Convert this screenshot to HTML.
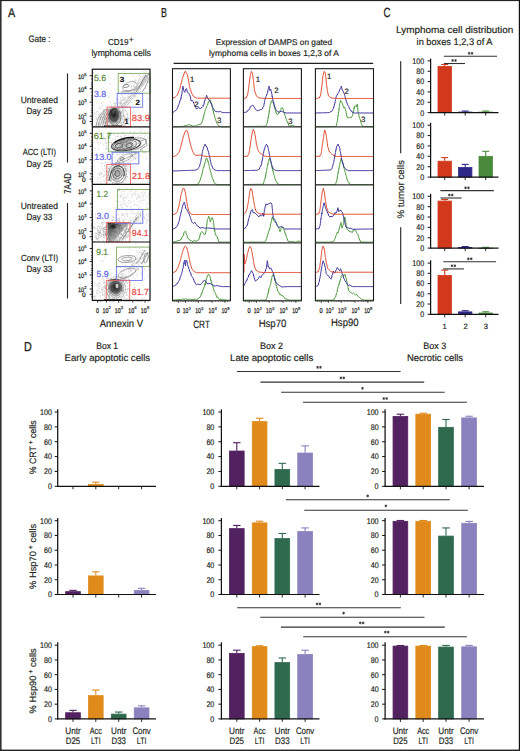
<!DOCTYPE html><html><head><meta charset="utf-8"><style>html,body{margin:0;padding:0;background:#fff;overflow:hidden}svg{display:block}text{font-family:"Liberation Sans", sans-serif;text-rendering:geometricPrecision}</style></head><body>
<svg width="520" height="751" viewBox="0 0 520 751">
<rect x="0" y="0" width="520" height="751" fill="#fff" stroke="none" stroke-width="1"/>
<text x="8.1" y="16.7" font-size="12.5" fill="#231f20" text-anchor="start" textLength="7.2" lengthAdjust="spacingAndGlyphs" stroke="#231f20" stroke-width="0.3">A</text>
<text x="161.1" y="16.8" font-size="13" fill="#231f20" text-anchor="start" textLength="5.9" lengthAdjust="spacingAndGlyphs" stroke="#231f20" stroke-width="0.3">B</text>
<text x="383.5" y="16.5" font-size="13.3" fill="#231f20" text-anchor="start" textLength="7.0" lengthAdjust="spacingAndGlyphs" stroke="#231f20" stroke-width="0.3">C</text>
<text x="24" y="350.8" font-size="13" fill="#231f20" text-anchor="start" textLength="7.8" lengthAdjust="spacingAndGlyphs" stroke="#231f20" stroke-width="0.3">D</text>
<text x="28.6" y="41.8" font-size="9.4" fill="#231f20" text-anchor="start" textLength="21.8" lengthAdjust="spacingAndGlyphs" stroke="#231f20" stroke-width="0.18">Gate :</text>
<text x="107.9" y="45.1" font-size="8.6" fill="#231f20" text-anchor="start" textLength="20.7" lengthAdjust="spacingAndGlyphs" stroke="#231f20" stroke-width="0.18">CD19</text>
<text x="128.8" y="42.4" font-size="7.5" fill="#231f20" text-anchor="start" textLength="5" lengthAdjust="spacingAndGlyphs" stroke="#231f20" stroke-width="0.18">+</text>
<text x="91.4" y="56.2" font-size="9.3" fill="#231f20" text-anchor="start" textLength="59.5" lengthAdjust="spacingAndGlyphs" stroke="#231f20" stroke-width="0.18">lymphoma cells</text>
<text x="20.7" y="103.2" font-size="9.0" fill="#231f20" text-anchor="start" textLength="37.2" lengthAdjust="spacingAndGlyphs" stroke="#231f20" stroke-width="0.18">Untreated</text>
<text x="26.5" y="114.4" font-size="9.0" fill="#231f20" text-anchor="start" textLength="25.7" lengthAdjust="spacingAndGlyphs" stroke="#231f20" stroke-width="0.18">Day 25</text>
<text x="22.7" y="155.4" font-size="9.0" fill="#231f20" text-anchor="start" textLength="33.2" lengthAdjust="spacingAndGlyphs" stroke="#231f20" stroke-width="0.18">ACC (LTI)</text>
<text x="26.5" y="166.5" font-size="9.0" fill="#231f20" text-anchor="start" textLength="25.7" lengthAdjust="spacingAndGlyphs" stroke="#231f20" stroke-width="0.18">Day 25</text>
<text x="20.7" y="209.1" font-size="9.0" fill="#231f20" text-anchor="start" textLength="37.2" lengthAdjust="spacingAndGlyphs" stroke="#231f20" stroke-width="0.18">Untreated</text>
<text x="26.5" y="219.9" font-size="9.0" fill="#231f20" text-anchor="start" textLength="25.7" lengthAdjust="spacingAndGlyphs" stroke="#231f20" stroke-width="0.18">Day 33</text>
<text x="20.9" y="261.2" font-size="9.0" fill="#231f20" text-anchor="start" textLength="37.2" lengthAdjust="spacingAndGlyphs" stroke="#231f20" stroke-width="0.18">Conv (LTI)</text>
<text x="26.5" y="272.2" font-size="9.0" fill="#231f20" text-anchor="start" textLength="25.7" lengthAdjust="spacingAndGlyphs" stroke="#231f20" stroke-width="0.18">Day 33</text>
<line x1="67.5" y1="73.4" x2="67.5" y2="162.6" stroke="#231f20" stroke-width="1.1"/>
<line x1="67.5" y1="203" x2="67.5" y2="298.5" stroke="#231f20" stroke-width="1.1"/>
<text transform="translate(71.2,193.8) rotate(-90)" font-size="10" fill="#231f20" textLength="20.7" lengthAdjust="spacingAndGlyphs" stroke="#231f20" stroke-width="0.18">7AAD</text>
<defs><radialGradient id="blob" cx="0.5" cy="0.5" r="0.5"><stop offset="0" stop-color="#111" stop-opacity="0.95"/><stop offset="0.6" stop-color="#333" stop-opacity="0.7"/><stop offset="1" stop-color="#777" stop-opacity="0"/></radialGradient><radialGradient id="blob2" cx="0.5" cy="0.5" r="0.5"><stop offset="0" stop-color="#666" stop-opacity="0.5"/><stop offset="1" stop-color="#999" stop-opacity="0"/></radialGradient><clipPath id="cp0"><rect x="92.3" y="69.2" width="57.7" height="57.599999999999994"/></clipPath><clipPath id="cp1"><rect x="92.3" y="126.8" width="57.7" height="57.60000000000001"/></clipPath><clipPath id="cp2"><rect x="92.3" y="184.4" width="57.7" height="57.599999999999994"/></clipPath><clipPath id="cp3"><rect x="92.3" y="242.0" width="57.7" height="58.39999999999998"/></clipPath></defs>
<g clip-path="url(#cp0)">
<path d="M110.0 121.1h0.01M110.2 116.1h0.01M104.6 116.7h0.01M120.9 120.5h0.01M120.3 119.5h0.01M115.2 119.1h0.01M98.7 123.1h0.01M116.1 121.0h0.01M98.5 107.5h0.01M104.9 115.2h0.01M114.4 117.7h0.01M116.2 114.1h0.01M114.5 120.4h0.01M116.5 125.2h0.01M107.0 113.6h0.01M109.2 117.4h0.01M117.1 119.5h0.01M108.4 112.3h0.01M107.8 125.3h0.01M105.5 119.5h0.01M115.4 109.1h0.01M112.4 125.8h0.01M95.9 116.1h0.01M111.2 113.1h0.01M116.0 117.6h0.01M100.3 123.0h0.01M117.4 123.7h0.01M123.5 120.2h0.01M113.0 110.2h0.01M116.9 114.3h0.01M108.4 110.4h0.01M104.3 114.8h0.01M122.3 105.8h0.01M100.3 119.4h0.01M123.5 121.5h0.01M96.8 102.9h0.01M114.9 113.6h0.01M103.0 123.9h0.01M120.8 118.9h0.01M114.0 120.6h0.01M124.8 121.7h0.01M116.1 121.3h0.01M99.5 125.7h0.01M119.6 121.2h0.01M96.2 114.2h0.01M118.7 107.1h0.01M110.5 124.1h0.01M116.4 117.1h0.01M114.6 121.9h0.01M113.0 124.9h0.01M106.7 115.5h0.01M120.3 118.2h0.01M105.0 123.7h0.01M123.7 115.3h0.01M101.0 117.2h0.01M110.8 116.2h0.01M123.2 111.8h0.01M122.1 110.4h0.01M105.7 121.8h0.01M121.0 123.2h0.01M114.8 118.9h0.01M113.2 121.5h0.01M110.6 119.7h0.01M116.6 118.0h0.01M118.1 121.4h0.01M128.1 119.9h0.01M108.6 115.8h0.01M111.9 123.5h0.01M109.3 120.3h0.01M126.7 102.6h0.01M103.0 119.5h0.01M115.2 119.4h0.01M108.6 121.9h0.01M114.3 114.9h0.01M131.4 120.1h0.01M107.6 117.4h0.01M110.2 117.6h0.01M120.1 111.0h0.01M111.5 123.7h0.01M118.8 126.9h0.01M98.4 115.9h0.01M109.3 121.7h0.01M120.7 101.9h0.01M120.7 109.3h0.01M117.5 109.0h0.01M113.4 125.2h0.01M110.8 119.1h0.01M118.4 118.8h0.01M120.4 116.2h0.01M134.0 111.1h0.01M119.3 116.4h0.01M113.1 122.2h0.01M113.8 121.8h0.01M99.8 108.9h0.01M116.9 112.2h0.01M103.8 109.2h0.01M122.1 122.5h0.01M123.8 112.4h0.01M112.0 111.2h0.01M119.9 116.9h0.01M96.2 126.4h0.01M111.2 114.4h0.01M115.2 120.5h0.01M124.0 111.9h0.01M121.1 126.9h0.01M123.6 116.9h0.01M106.0 124.1h0.01M112.9 118.7h0.01M123.4 116.4h0.01M93.6 115.7h0.01M97.2 122.9h0.01M114.5 114.3h0.01M111.9 123.0h0.01M112.6 126.0h0.01M111.5 124.2h0.01M106.6 123.3h0.01M97.0 111.5h0.01M96.3 124.4h0.01M102.1 117.9h0.01M110.5 117.8h0.01M107.3 119.4h0.01M126.3 118.3h0.01M116.2 124.0h0.01M110.4 110.4h0.01M107.6 124.4h0.01M98.8 114.4h0.01M120.1 122.8h0.01M112.1 122.8h0.01M113.3 110.9h0.01M99.5 114.2h0.01M119.4 114.6h0.01M104.8 113.4h0.01M99.7 117.3h0.01M102.6 120.2h0.01M93.1 120.0h0.01M106.9 106.3h0.01M117.8 116.3h0.01M94.2 112.7h0.01M114.3 115.2h0.01M118.2 122.5h0.01M117.3 120.0h0.01M122.7 122.0h0.01M115.6 105.5h0.01M119.2 125.9h0.01M109.6 115.2h0.01M127.5 107.5h0.01M104.6 122.1h0.01M127.1 117.3h0.01M116.5 123.4h0.01M104.8 117.5h0.01M114.3 123.0h0.01M111.7 116.8h0.01M103.9 115.8h0.01M119.1 118.6h0.01M105.2 113.0h0.01M133.3 124.8h0.01M117.1 102.4h0.01M117.0 120.9h0.01M125.5 120.6h0.01M111.5 121.1h0.01M96.4 124.2h0.01M114.6 113.8h0.01M100.8 114.0h0.01M114.3 119.1h0.01M108.8 112.2h0.01M129.0 124.2h0.01M102.4 109.9h0.01M125.6 123.9h0.01M126.6 122.9h0.01M105.0 119.6h0.01M94.7 113.5h0.01M111.5 121.1h0.01M106.2 117.3h0.01M115.7 120.3h0.01M117.1 119.3h0.01M109.4 122.7h0.01M112.4 113.0h0.01M107.0 118.0h0.01M111.1 118.9h0.01M112.0 119.1h0.01M110.9 110.4h0.01M115.4 124.3h0.01M115.5 116.9h0.01M115.6 112.2h0.01M96.8 118.4h0.01M104.6 122.4h0.01M103.3 102.2h0.01M108.9 109.8h0.01M105.9 121.1h0.01M116.0 119.1h0.01M123.9 122.2h0.01M111.8 121.6h0.01M125.2 123.8h0.01M120.2 111.5h0.01M110.8 122.4h0.01M109.6 124.4h0.01M116.8 123.4h0.01M121.9 116.7h0.01M109.3 123.2h0.01M119.8 118.0h0.01M102.7 119.1h0.01M114.9 124.8h0.01M118.3 118.1h0.01M118.8 121.2h0.01M113.6 118.3h0.01M110.1 122.1h0.01M103.6 114.2h0.01M112.0 109.2h0.01M108.5 105.9h0.01M106.5 121.4h0.01M116.5 117.7h0.01M110.1 109.5h0.01M126.6 121.1h0.01M120.7 112.7h0.01M110.5 107.1h0.01M118.2 123.6h0.01M96.8 117.7h0.01M117.0 107.4h0.01M97.4 111.6h0.01M107.0 109.6h0.01M112.3 119.5h0.01M117.1 122.2h0.01M124.0 125.0h0.01M101.5 115.0h0.01M103.5 111.5h0.01M111.3 118.0h0.01M115.9 108.5h0.01M102.1 117.9h0.01M110.4 116.1h0.01M111.5 113.4h0.01M117.6 120.1h0.01M111.3 114.0h0.01M110.6 101.7h0.01M104.1 118.2h0.01M100.0 119.2h0.01M113.2 109.7h0.01M110.0 116.1h0.01M115.7 121.7h0.01M111.7 112.9h0.01M110.8 117.6h0.01M117.9 119.8h0.01M106.2 109.9h0.01M109.0 113.6h0.01M103.1 117.3h0.01M108.1 118.6h0.01M116.2 115.5h0.01M130.6 116.1h0.01M120.8 118.7h0.01M120.9 103.7h0.01M106.0 119.5h0.01M114.6 125.7h0.01M118.1 123.7h0.01M116.1 117.1h0.01M116.1 111.5h0.01M121.5 111.9h0.01M110.2 118.1h0.01M121.3 118.2h0.01M105.5 119.5h0.01M116.7 122.3h0.01M125.3 118.1h0.01M114.1 115.4h0.01M123.3 113.8h0.01M117.4 115.1h0.01M106.4 122.3h0.01M122.7 117.9h0.01M106.6 122.9h0.01M111.6 119.9h0.01M124.2 124.8h0.01M112.0 122.7h0.01M106.8 117.7h0.01M122.9 110.7h0.01M100.0 108.3h0.01M121.4 115.2h0.01M111.5 116.1h0.01M111.0 111.5h0.01M112.2 109.4h0.01M111.4 119.9h0.01M115.7 116.6h0.01M104.8 119.0h0.01M118.1 117.3h0.01M108.2 113.8h0.01M104.5 115.9h0.01M114.4 121.1h0.01M106.4 118.1h0.01M134.4 106.8h0.01M107.8 119.0h0.01M113.2 120.4h0.01M110.1 120.2h0.01M112.4 122.6h0.01M96.9 112.7h0.01M112.0 111.8h0.01M103.6 121.8h0.01M106.8 121.8h0.01M118.0 119.8h0.01M116.1 117.4h0.01M100.7 117.8h0.01M115.6 114.8h0.01M111.2 122.5h0.01M105.0 121.8h0.01M126.9 114.7h0.01M113.2 117.1h0.01M124.3 119.9h0.01M119.2 113.9h0.01M111.9 117.9h0.01M97.8 126.6h0.01M119.2 107.5h0.01M118.0 117.2h0.01M115.6 120.2h0.01M100.0 116.7h0.01M123.9 114.6h0.01M103.8 109.8h0.01M102.2 120.0h0.01M125.5 120.6h0.01M107.8 114.0h0.01M116.2 121.3h0.01M103.9 111.0h0.01M114.3 119.5h0.01M101.5 116.8h0.01M107.7 120.8h0.01M111.1 117.5h0.01M109.2 124.3h0.01M123.1 115.8h0.01M118.8 113.5h0.01M112.6 122.5h0.01M124.1 115.7h0.01M111.4 119.2h0.01M100.0 118.1h0.01M106.6 120.2h0.01M103.0 106.1h0.01M112.3 119.6h0.01M107.6 123.3h0.01M109.8 114.4h0.01M115.8 108.6h0.01M106.6 117.9h0.01M118.8 117.0h0.01M114.5 114.1h0.01M106.8 118.1h0.01M113.4 124.1h0.01M102.1 105.4h0.01M116.8 122.8h0.01M113.6 119.5h0.01M119.4 120.2h0.01M125.3 110.6h0.01M109.0 97.3h0.01M118.5 115.8h0.01M112.0 116.5h0.01M108.0 113.0h0.01M107.0 121.8h0.01M112.3 118.4h0.01M110.6 123.5h0.01M116.0 117.1h0.01M117.3 117.1h0.01M102.8 126.7h0.01M115.7 112.3h0.01M120.6 120.1h0.01M114.7 123.3h0.01M113.6 117.1h0.01M99.6 123.8h0.01M112.2 116.3h0.01M114.8 118.5h0.01M117.4 115.8h0.01M111.7 105.2h0.01M108.6 122.1h0.01M122.7 115.8h0.01M109.4 122.4h0.01M125.4 118.2h0.01M121.8 113.7h0.01M113.7 117.5h0.01M112.9 124.8h0.01M131.1 114.0h0.01M107.4 121.0h0.01M103.6 121.0h0.01M116.6 116.3h0.01M116.2 108.7h0.01M118.1 108.7h0.01M106.4 114.7h0.01M108.8 123.2h0.01M112.7 115.6h0.01M112.0 120.2h0.01M121.9 119.6h0.01M129.7 106.1h0.01M111.7 120.5h0.01M119.7 122.0h0.01M109.8 111.7h0.01M112.8 124.2h0.01M103.3 111.8h0.01M111.8 106.4h0.01M109.9 115.4h0.01M115.6 113.8h0.01M104.9 115.6h0.01M111.6 114.0h0.01M112.1 122.5h0.01M105.7 115.5h0.01M106.2 117.8h0.01M116.2 109.8h0.01M115.7 117.8h0.01M97.4 119.8h0.01M121.6 106.8h0.01M118.5 119.3h0.01M115.8 120.6h0.01M122.4 116.7h0.01M119.0 115.5h0.01M117.8 113.1h0.01M115.6 117.1h0.01M102.8 113.3h0.01M113.5 123.6h0.01M115.4 121.1h0.01M111.7 126.1h0.01M108.9 114.7h0.01M119.1 118.4h0.01M109.8 114.5h0.01M109.9 121.7h0.01M114.8 110.7h0.01M115.4 119.1h0.01M104.0 122.6h0.01M109.8 116.0h0.01M118.4 125.9h0.01M106.5 120.6h0.01M108.0 125.2h0.01M106.8 122.9h0.01M129.8 102.8h0.01M108.5 121.0h0.01M111.3 114.0h0.01M129.2 118.5h0.01M98.8 123.1h0.01M98.2 124.9h0.01M107.4 118.9h0.01M122.1 118.7h0.01M100.9 107.8h0.01M121.5 122.4h0.01M105.5 123.2h0.01M116.0 121.9h0.01M93.9 116.2h0.01M119.2 122.4h0.01M119.1 103.3h0.01M113.4 121.0h0.01M132.4 112.3h0.01M109.4 118.2h0.01M119.1 115.3h0.01M121.2 113.3h0.01M114.1 114.8h0.01M113.3 113.9h0.01M99.2 124.6h0.01M114.4 114.6h0.01M113.6 123.9h0.01M104.2 117.3h0.01M116.3 121.2h0.01M109.3 105.4h0.01M121.9 120.0h0.01M112.1 116.3h0.01M114.1 115.4h0.01M103.8 113.6h0.01M107.2 114.3h0.01M102.7 121.8h0.01M101.5 122.0h0.01M103.9 120.1h0.01M123.0 119.2h0.01M106.2 118.3h0.01M113.2 107.6h0.01M107.1 119.0h0.01M108.2 118.5h0.01M117.9 122.6h0.01M119.2 121.5h0.01M109.7 117.9h0.01M109.8 116.1h0.01M110.6 107.7h0.01M109.3 117.9h0.01M104.2 117.9h0.01" stroke="#444" stroke-width="0.8" stroke-linecap="round" opacity="0.35"/>
<path d="M127.9 100.9h0.01M148.5 74.4h0.01M142.8 80.7h0.01M128.6 94.0h0.01M143.9 83.9h0.01M114.4 103.0h0.01M123.9 105.1h0.01M129.7 97.7h0.01M127.7 100.5h0.01M147.9 82.9h0.01M116.6 103.1h0.01M131.9 92.6h0.01M136.6 87.2h0.01M145.4 71.7h0.01M140.9 91.5h0.01M131.5 93.0h0.01M133.8 98.1h0.01M120.6 103.9h0.01M141.8 85.8h0.01M137.8 85.6h0.01M121.9 110.8h0.01M123.6 92.7h0.01M122.7 108.6h0.01M121.9 107.3h0.01M119.6 106.3h0.01M133.5 86.9h0.01M134.9 87.1h0.01M146.2 78.1h0.01M116.3 99.3h0.01M139.2 83.0h0.01M115.6 104.1h0.01M126.2 93.1h0.01M145.8 73.5h0.01M149.3 78.5h0.01M130.3 95.4h0.01M145.8 81.9h0.01M147.7 77.8h0.01M131.2 87.1h0.01M143.8 83.0h0.01M134.0 100.0h0.01M141.4 81.0h0.01M143.2 75.4h0.01M137.9 83.5h0.01M121.3 105.4h0.01M128.1 91.2h0.01M142.7 76.6h0.01M128.9 91.6h0.01M133.2 95.2h0.01M148.4 82.2h0.01M118.3 110.0h0.01M145.8 80.7h0.01M130.1 94.8h0.01M129.3 97.2h0.01M133.8 76.1h0.01M135.0 87.5h0.01M138.5 81.0h0.01M134.3 90.9h0.01M143.5 90.4h0.01M124.0 103.4h0.01M144.8 78.0h0.01M124.1 108.4h0.01M135.1 81.0h0.01M117.2 104.0h0.01M145.6 73.5h0.01M125.2 100.0h0.01M148.2 77.4h0.01M128.0 105.7h0.01M138.0 75.5h0.01M136.6 88.1h0.01M121.0 102.3h0.01M126.9 97.5h0.01M124.6 104.7h0.01M125.2 103.6h0.01M136.0 87.0h0.01M115.7 108.9h0.01M138.1 86.2h0.01M135.6 96.5h0.01M121.6 103.0h0.01M119.8 113.6h0.01M133.4 89.1h0.01M129.0 96.6h0.01M128.5 98.2h0.01M123.2 96.8h0.01M120.4 103.2h0.01M139.6 75.4h0.01M134.7 89.4h0.01M131.0 93.6h0.01M147.0 78.2h0.01M129.3 96.7h0.01M131.3 93.4h0.01M126.1 91.2h0.01M138.6 79.8h0.01M131.6 102.5h0.01M137.8 83.4h0.01M131.8 88.5h0.01M114.7 105.4h0.01M126.2 102.7h0.01M140.2 82.4h0.01M122.7 105.8h0.01M135.3 92.9h0.01M129.3 100.7h0.01M122.6 104.2h0.01M135.7 94.3h0.01M137.9 84.0h0.01M139.0 87.8h0.01M133.1 95.5h0.01M140.3 77.2h0.01M135.1 86.9h0.01M131.4 90.7h0.01M141.1 79.1h0.01M138.3 83.7h0.01M144.1 79.3h0.01M142.2 80.0h0.01M134.3 87.1h0.01M139.8 88.7h0.01M140.3 76.6h0.01M122.1 101.3h0.01M132.2 89.7h0.01M148.0 81.0h0.01M138.2 84.2h0.01M124.5 94.4h0.01M137.3 93.1h0.01M133.4 85.5h0.01M139.2 82.5h0.01M132.6 93.3h0.01M133.9 88.4h0.01M124.9 103.5h0.01M119.2 109.6h0.01M115.2 109.3h0.01M137.3 86.5h0.01M124.3 92.1h0.01M135.0 96.3h0.01M130.2 96.5h0.01M143.1 77.0h0.01M129.8 91.1h0.01M143.9 79.2h0.01M144.2 76.6h0.01M125.1 97.5h0.01M138.8 85.1h0.01M124.1 100.8h0.01M130.9 93.7h0.01M139.1 86.0h0.01M123.4 98.2h0.01M135.3 83.5h0.01M146.6 75.5h0.01M147.9 76.4h0.01M124.6 98.9h0.01M127.0 108.1h0.01M137.7 87.3h0.01M122.9 109.2h0.01M132.7 102.4h0.01M145.4 87.5h0.01M137.3 82.2h0.01M146.4 71.1h0.01M122.4 97.3h0.01M133.5 85.5h0.01M134.4 91.7h0.01M121.0 103.3h0.01M134.5 95.3h0.01M126.2 89.3h0.01M120.3 104.5h0.01M131.5 83.1h0.01M121.5 99.6h0.01M117.0 101.7h0.01M114.8 103.7h0.01M141.1 85.0h0.01M125.9 91.4h0.01M118.0 102.0h0.01M130.3 93.9h0.01M126.3 90.9h0.01M121.0 102.3h0.01M136.0 86.6h0.01M139.4 82.2h0.01M116.7 98.4h0.01M138.5 82.7h0.01M126.1 101.6h0.01M137.3 85.4h0.01M143.0 80.5h0.01M119.4 106.7h0.01M127.9 99.3h0.01M139.6 78.2h0.01M132.7 83.9h0.01M134.5 81.3h0.01M122.4 97.4h0.01M142.7 83.4h0.01M120.3 99.1h0.01M133.2 90.5h0.01M139.1 80.2h0.01M124.4 99.2h0.01M125.8 87.0h0.01M118.7 105.7h0.01M123.3 99.7h0.01M145.0 77.0h0.01M122.7 90.3h0.01M143.9 75.2h0.01M119.6 102.6h0.01M122.9 102.9h0.01M145.1 91.1h0.01M121.9 103.7h0.01M118.0 104.8h0.01M140.4 84.1h0.01M139.7 75.0h0.01M144.1 85.7h0.01M131.4 85.9h0.01M131.0 98.1h0.01M123.4 108.1h0.01M145.2 81.7h0.01M143.4 89.2h0.01M135.7 92.7h0.01M130.4 90.4h0.01M123.3 99.9h0.01M134.8 83.4h0.01M131.5 86.7h0.01M138.9 80.1h0.01M125.2 105.0h0.01M140.5 84.0h0.01M149.6 70.6h0.01M120.7 100.7h0.01M127.4 90.8h0.01M145.9 74.9h0.01M117.8 111.6h0.01M138.5 81.4h0.01M122.5 101.0h0.01M141.5 77.3h0.01M145.4 74.1h0.01M144.6 78.1h0.01M135.3 86.9h0.01M142.8 81.4h0.01M134.5 83.8h0.01M124.0 106.8h0.01M140.3 81.5h0.01M142.6 78.1h0.01M141.2 83.9h0.01M129.0 90.9h0.01M124.5 103.6h0.01M136.1 87.6h0.01M128.1 94.1h0.01M122.7 106.4h0.01M117.0 99.8h0.01M120.0 100.8h0.01M134.5 90.5h0.01M134.6 94.8h0.01M136.4 91.5h0.01M145.2 79.6h0.01M119.8 108.8h0.01M124.8 106.6h0.01M135.9 80.6h0.01M149.6 78.9h0.01M136.4 100.5h0.01M121.1 97.3h0.01M145.0 72.4h0.01M136.3 100.4h0.01M147.9 75.2h0.01M121.2 105.4h0.01M145.7 76.3h0.01M140.3 76.4h0.01M149.4 75.2h0.01M145.5 80.4h0.01M122.0 94.6h0.01M120.0 106.8h0.01M119.6 104.0h0.01M128.4 104.0h0.01M117.9 105.3h0.01M121.3 105.7h0.01M120.7 103.8h0.01M148.6 72.3h0.01M128.1 98.1h0.01M131.0 90.4h0.01M129.8 102.4h0.01M139.0 94.8h0.01M124.3 100.0h0.01M127.8 96.1h0.01M120.0 102.5h0.01M123.8 102.9h0.01M121.5 101.2h0.01M126.7 102.4h0.01M119.1 111.9h0.01M119.3 103.2h0.01M128.4 96.6h0.01M140.8 79.3h0.01M133.1 91.9h0.01M136.6 90.3h0.01M140.6 79.6h0.01M124.5 107.8h0.01M132.5 93.5h0.01M134.7 81.0h0.01M135.9 89.4h0.01M135.3 86.1h0.01M120.8 103.2h0.01M145.9 76.3h0.01M121.8 105.3h0.01" stroke="#555" stroke-width="0.8" stroke-linecap="round" opacity="0.3"/>
<path d="M142.7 85.2h0.01M103.6 117.4h0.01M113.9 79.3h0.01M114.2 103.9h0.01M93.3 99.6h0.01M118.4 99.4h0.01M99.9 110.7h0.01M139.5 119.3h0.01M111.3 110.5h0.01M114.7 112.8h0.01M96.5 119.7h0.01M147.4 98.2h0.01M122.3 100.2h0.01M123.6 71.2h0.01M148.1 82.8h0.01M103.4 75.9h0.01M107.3 116.6h0.01M94.7 75.5h0.01M132.8 81.1h0.01M94.0 104.2h0.01M125.9 99.8h0.01M133.1 75.9h0.01M142.6 110.9h0.01M95.6 77.0h0.01M121.1 98.5h0.01M108.9 77.0h0.01M116.1 77.8h0.01M126.7 119.1h0.01M101.4 102.7h0.01M135.6 79.4h0.01M140.1 123.4h0.01M115.2 94.0h0.01M140.9 100.0h0.01M115.6 123.7h0.01M137.3 89.3h0.01M106.7 89.1h0.01M117.8 125.9h0.01M138.8 122.0h0.01M139.5 118.3h0.01M96.1 99.5h0.01M147.6 123.3h0.01M107.2 94.1h0.01M129.1 90.8h0.01M123.3 73.9h0.01M117.7 98.8h0.01M94.2 77.9h0.01M148.3 114.3h0.01M146.4 106.1h0.01M139.1 120.4h0.01M143.4 72.0h0.01M129.6 85.1h0.01M131.7 85.6h0.01M123.9 122.7h0.01M128.4 84.3h0.01M122.7 94.7h0.01M147.2 86.4h0.01M110.4 106.9h0.01M99.9 103.9h0.01M147.5 99.3h0.01M108.3 96.6h0.01M123.4 78.5h0.01M100.1 77.5h0.01M109.7 93.2h0.01M109.4 83.9h0.01M98.0 101.1h0.01M140.9 104.8h0.01M125.5 107.1h0.01M104.5 110.5h0.01M119.3 101.2h0.01M127.9 96.7h0.01M110.7 83.8h0.01M105.6 99.2h0.01M114.8 103.4h0.01M93.7 90.1h0.01M142.1 83.6h0.01M124.7 98.0h0.01M109.2 126.3h0.01M109.8 114.0h0.01M102.0 73.8h0.01M142.7 95.1h0.01M96.5 92.1h0.01M118.1 111.9h0.01M99.2 82.8h0.01M147.7 112.1h0.01M101.8 89.2h0.01M113.1 108.5h0.01M128.1 118.4h0.01M139.8 99.5h0.01M135.1 112.4h0.01M136.3 97.1h0.01M137.7 110.4h0.01M145.1 77.3h0.01M142.6 70.2h0.01M136.6 103.4h0.01M121.4 124.9h0.01M125.6 93.8h0.01M137.7 119.7h0.01M127.6 91.6h0.01M118.8 96.1h0.01M134.2 86.7h0.01M115.3 101.7h0.01M114.9 88.4h0.01M137.9 118.4h0.01M121.5 95.3h0.01M103.5 87.3h0.01M101.3 102.8h0.01M126.2 75.0h0.01M145.4 88.5h0.01M141.1 117.8h0.01M147.6 81.6h0.01M117.3 121.9h0.01M93.6 72.7h0.01M125.2 98.3h0.01M145.5 114.1h0.01M123.7 126.9h0.01M122.5 99.5h0.01M132.1 92.2h0.01M113.4 103.9h0.01M113.0 124.0h0.01M131.6 99.9h0.01" stroke="#666" stroke-width="0.8" stroke-linecap="round" opacity="0.3"/>
<path d="M96.0 126.5 C97.0 119 100.0 113 107.0 108.5" stroke="#555" stroke-width="0.5" fill="none" stroke-linejoin="round"/>
<path d="M98.2 126.5 C99.2 119 102.2 113 108.1 108.7" stroke="#555" stroke-width="0.5" fill="none" stroke-linejoin="round"/>
<path d="M100.4 126.5 C101.4 119 104.4 113 109.2 108.9" stroke="#555" stroke-width="0.5" fill="none" stroke-linejoin="round"/>
<path d="M102.6 126.5 C103.6 119 106.6 113 110.3 109.2" stroke="#555" stroke-width="0.5" fill="none" stroke-linejoin="round"/>
<path d="M104.8 126.5 C105.8 119 108.8 113 111.4 109.4" stroke="#555" stroke-width="0.5" fill="none" stroke-linejoin="round"/>
<path d="M107.0 126.5 C108.0 119 111.0 113 112.5 109.6" stroke="#555" stroke-width="0.5" fill="none" stroke-linejoin="round"/>
<ellipse cx="114" cy="115" rx="7.5" ry="10" transform="rotate(0 114 115)" stroke="none" stroke-width="0" fill="url(#blob)" opacity="1"/>
<ellipse cx="115" cy="117" rx="6" ry="8.5" transform="rotate(0 115 117)" stroke="#222" stroke-width="0.5" fill="none" opacity="0.8"/>
<ellipse cx="114" cy="115" rx="4" ry="6.5" transform="rotate(0 114 115)" stroke="#222" stroke-width="0.5" fill="none" opacity="0.8"/>
<ellipse cx="113.5" cy="113" rx="2.2" ry="3.5" transform="rotate(0 113.5 113)" stroke="#111" stroke-width="0.6" fill="none" opacity="0.8"/>
<ellipse cx="120" cy="119" rx="4.5" ry="7" transform="rotate(0 120 119)" stroke="#444" stroke-width="0.45" fill="none" opacity="0.6"/>
<ellipse cx="124" cy="118" rx="4" ry="8" transform="rotate(0 124 118)" stroke="#666" stroke-width="0.45" fill="none" opacity="0.6"/>
<line x1="104" y1="126.2" x2="122" y2="126.2" stroke="#111" stroke-width="1.4"/>
<path d="M119 109.0 C124 103 131 96 138 88 S146 76 149 74" stroke="#888" stroke-width="0.45" fill="none" stroke-linejoin="round"/>
<path d="M122 108.5 C127 102 134 95 141 86 S146 76 149 74" stroke="#888" stroke-width="0.45" fill="none" stroke-linejoin="round"/>
<path d="M125 108.0 C130 101 137 94 144 84 S146 76 149 74" stroke="#888" stroke-width="0.45" fill="none" stroke-linejoin="round"/>
<ellipse cx="126" cy="86" rx="3" ry="1.5" transform="rotate(-10 126 86)" stroke="#444" stroke-width="0.5" fill="none" opacity="1"/>
<ellipse cx="130" cy="86.5" rx="7.5" ry="4.5" transform="rotate(-20 130 86.5)" stroke="#666" stroke-width="0.45" fill="none" opacity="1"/>
<path d="M121 92 C126 90 134 91 138 88 C141 85 142 80 146 75" stroke="#666" stroke-width="0.45" fill="none" stroke-linejoin="round"/>
<path d="M136 92 C140 88 142 80 146 75 M142 92 C146 88 147 82 149 78" stroke="#555" stroke-width="0.5" fill="none" stroke-linejoin="round"/>
</g>
<g clip-path="url(#cp1)">
<path d="M134.7 147.8h0.01M114.5 148.7h0.01M105.8 140.4h0.01M138.4 143.7h0.01M111.7 147.6h0.01M136.1 144.9h0.01M106.1 143.3h0.01M130.6 148.8h0.01M146.4 143.7h0.01M120.7 144.8h0.01M139.3 140.3h0.01M140.4 131.3h0.01M134.8 141.6h0.01M131.1 148.4h0.01M113.0 144.6h0.01M128.6 147.9h0.01M115.8 140.0h0.01M104.8 157.7h0.01M123.9 143.9h0.01M109.6 149.6h0.01M120.1 152.2h0.01M135.4 145.1h0.01M134.0 139.4h0.01M122.4 142.1h0.01M112.0 145.1h0.01M124.4 152.2h0.01M115.9 142.7h0.01M130.6 147.0h0.01M126.3 142.6h0.01M131.4 146.8h0.01M105.7 143.7h0.01M110.9 139.1h0.01M127.6 145.3h0.01M127.3 140.6h0.01M123.8 140.4h0.01M130.2 148.4h0.01M145.3 151.3h0.01M117.1 142.7h0.01M115.7 146.5h0.01M147.8 148.5h0.01M101.8 138.7h0.01M111.8 147.6h0.01M126.0 146.5h0.01M145.6 140.9h0.01M116.7 154.8h0.01M129.8 141.1h0.01M103.7 137.4h0.01M99.1 145.3h0.01M126.5 150.0h0.01M124.5 141.5h0.01M117.8 154.5h0.01M106.6 145.9h0.01M126.3 148.1h0.01M121.5 147.5h0.01M135.0 144.3h0.01M121.0 144.1h0.01M115.4 144.0h0.01M122.7 146.1h0.01M140.7 151.5h0.01M121.1 148.0h0.01M129.2 148.8h0.01M126.2 146.3h0.01M120.8 141.1h0.01M135.6 151.5h0.01M133.3 147.2h0.01M128.9 142.7h0.01M106.4 148.3h0.01M128.2 142.2h0.01M115.4 151.4h0.01M106.2 153.8h0.01M133.0 156.9h0.01M118.1 144.9h0.01M120.4 145.8h0.01M123.7 141.3h0.01M137.8 141.1h0.01M120.4 147.8h0.01M120.1 142.8h0.01M129.9 143.2h0.01M112.3 144.5h0.01M123.6 153.5h0.01M113.9 149.8h0.01M117.4 143.2h0.01M122.4 146.4h0.01M135.5 153.7h0.01M119.0 151.6h0.01M136.9 149.1h0.01M117.6 149.5h0.01M124.8 146.8h0.01M123.0 148.3h0.01M138.3 150.7h0.01M123.7 150.0h0.01M142.0 140.3h0.01M142.2 138.3h0.01M132.0 148.0h0.01M142.3 146.4h0.01M120.7 141.0h0.01M112.2 148.8h0.01M123.4 141.4h0.01M131.9 141.2h0.01M121.2 142.7h0.01M144.2 152.3h0.01M124.3 137.1h0.01M129.0 145.4h0.01M129.8 147.8h0.01M122.5 149.6h0.01M135.2 146.1h0.01M121.5 142.6h0.01M133.6 139.5h0.01M124.2 141.3h0.01M110.7 148.0h0.01M125.7 145.2h0.01M135.6 137.5h0.01M125.3 146.4h0.01M135.2 139.6h0.01M133.9 146.1h0.01M140.9 150.7h0.01M132.0 155.7h0.01M126.0 142.9h0.01M122.3 140.3h0.01M125.7 135.6h0.01M125.1 147.1h0.01M136.9 143.3h0.01M141.3 141.7h0.01M124.5 135.6h0.01M117.6 141.0h0.01M142.0 147.6h0.01M114.1 147.6h0.01M131.2 143.9h0.01M126.2 143.5h0.01M120.2 136.3h0.01M125.0 151.3h0.01M141.4 143.6h0.01M118.0 144.0h0.01M135.6 146.7h0.01M119.7 146.8h0.01M123.8 147.5h0.01M121.6 137.8h0.01M126.6 148.7h0.01M114.1 144.5h0.01M135.4 143.2h0.01M119.0 154.9h0.01M134.9 150.0h0.01M115.9 153.0h0.01M108.3 142.5h0.01M133.9 151.5h0.01M116.0 141.8h0.01M128.1 135.6h0.01M132.8 147.7h0.01M121.2 147.6h0.01M134.3 146.5h0.01M131.6 152.4h0.01M120.9 145.8h0.01M120.4 150.0h0.01M121.7 147.3h0.01M127.5 145.3h0.01M144.3 144.6h0.01M141.1 149.0h0.01M140.1 144.2h0.01M135.9 148.7h0.01M119.5 146.3h0.01M124.6 144.8h0.01M139.8 141.5h0.01M108.1 136.6h0.01M121.2 141.9h0.01M126.2 147.7h0.01M144.7 146.5h0.01M130.9 141.5h0.01M132.2 151.6h0.01M140.2 135.6h0.01M135.4 152.6h0.01M134.8 137.8h0.01M122.7 147.8h0.01M130.4 141.1h0.01M116.6 149.7h0.01M111.9 151.9h0.01M126.2 146.4h0.01M111.9 142.1h0.01M133.3 137.9h0.01M147.9 138.2h0.01M113.1 145.2h0.01M131.1 148.5h0.01M122.1 144.0h0.01M123.5 142.2h0.01M98.7 149.6h0.01M128.7 145.8h0.01M119.4 146.2h0.01M125.9 144.6h0.01M137.7 136.7h0.01M128.7 139.9h0.01M122.6 152.2h0.01M114.5 144.5h0.01M119.7 149.6h0.01M115.7 136.9h0.01M131.4 143.3h0.01M122.6 150.2h0.01M116.6 143.2h0.01M127.6 147.0h0.01M120.5 150.0h0.01M149.7 143.0h0.01M145.8 134.9h0.01M140.9 143.3h0.01M127.5 143.4h0.01M119.3 138.9h0.01M121.8 151.2h0.01M138.0 143.3h0.01M120.4 141.6h0.01M113.3 153.7h0.01M133.0 145.6h0.01M120.8 140.1h0.01M139.9 148.7h0.01M115.9 149.7h0.01M114.3 148.1h0.01M115.9 143.0h0.01M131.2 147.1h0.01M136.7 141.0h0.01M142.7 151.5h0.01M125.9 147.2h0.01M117.8 144.3h0.01M112.1 145.4h0.01M128.1 151.4h0.01M136.0 148.9h0.01M122.2 143.9h0.01M122.4 146.1h0.01M105.6 148.7h0.01M109.5 142.5h0.01M126.2 142.5h0.01M143.6 144.5h0.01M142.6 150.6h0.01M120.8 146.9h0.01M139.7 143.4h0.01M126.9 142.3h0.01M126.6 143.3h0.01M126.9 149.8h0.01M140.7 145.6h0.01M128.1 149.1h0.01M122.9 139.9h0.01M137.7 140.5h0.01M135.8 140.4h0.01M145.3 140.0h0.01M135.0 152.2h0.01M115.9 152.1h0.01M117.3 136.5h0.01M133.6 148.4h0.01M123.9 132.9h0.01M125.4 143.5h0.01M122.0 143.6h0.01M107.1 142.3h0.01M145.0 152.4h0.01M122.2 141.6h0.01M130.2 150.1h0.01M133.6 139.4h0.01M127.7 145.7h0.01M141.2 150.7h0.01M131.5 150.8h0.01M121.8 152.4h0.01M121.5 146.9h0.01M135.7 140.6h0.01M118.6 136.6h0.01M127.7 144.7h0.01M122.5 147.4h0.01M103.7 144.9h0.01M126.9 143.7h0.01M134.4 153.4h0.01M121.3 140.5h0.01M119.6 145.4h0.01M132.2 140.9h0.01M136.6 140.1h0.01M134.7 147.1h0.01M130.9 155.4h0.01M123.2 144.2h0.01M131.0 149.1h0.01M111.9 146.3h0.01M118.2 148.0h0.01M140.5 145.2h0.01M124.9 145.9h0.01M94.8 148.7h0.01M131.9 145.8h0.01M121.8 141.5h0.01M124.1 150.8h0.01M124.9 151.5h0.01M98.8 142.8h0.01M128.9 144.9h0.01M108.5 141.8h0.01M139.2 138.8h0.01M115.5 139.7h0.01M120.2 148.1h0.01M132.3 135.3h0.01M141.4 142.2h0.01M119.8 153.0h0.01M125.1 139.0h0.01M119.3 141.5h0.01M115.3 143.4h0.01M135.3 146.7h0.01M111.4 158.4h0.01M115.5 145.6h0.01M126.3 148.7h0.01M122.5 147.2h0.01M148.2 145.5h0.01M114.6 146.6h0.01M117.5 143.2h0.01M128.0 146.6h0.01M123.0 149.1h0.01M124.0 138.7h0.01M135.3 143.3h0.01M138.8 141.9h0.01M132.0 146.5h0.01M97.5 137.8h0.01M114.2 151.8h0.01M106.1 149.4h0.01M137.5 147.4h0.01M133.1 142.6h0.01M125.9 146.1h0.01M130.4 148.4h0.01M123.8 141.6h0.01M120.1 147.0h0.01M108.5 139.0h0.01M121.7 142.3h0.01M123.1 132.2h0.01M122.4 143.8h0.01M134.2 135.5h0.01M122.8 147.3h0.01M131.2 150.7h0.01M137.1 140.0h0.01M132.7 143.4h0.01M117.5 152.4h0.01M119.3 140.9h0.01M121.7 140.9h0.01M136.6 146.8h0.01M140.8 147.0h0.01M119.5 150.0h0.01M119.1 142.8h0.01M124.2 145.2h0.01M138.6 142.1h0.01M129.7 144.9h0.01M112.7 139.7h0.01M123.7 146.9h0.01M129.4 147.3h0.01M126.5 142.8h0.01M130.5 140.2h0.01M111.8 143.4h0.01M110.9 142.5h0.01M118.1 142.3h0.01M125.5 141.1h0.01M121.5 136.8h0.01M127.5 140.8h0.01M130.3 131.4h0.01M117.5 146.2h0.01M100.1 143.3h0.01M127.0 145.5h0.01" stroke="#444" stroke-width="0.8" stroke-linecap="round" opacity="0.35"/>
<path d="M104.5 174.5h0.01M117.1 166.4h0.01M121.7 172.7h0.01M116.1 170.0h0.01M120.2 173.7h0.01M124.8 176.1h0.01M111.2 171.5h0.01M123.1 170.5h0.01M119.0 176.5h0.01M114.6 157.3h0.01M117.0 174.4h0.01M117.0 167.9h0.01M125.3 172.1h0.01M111.2 168.1h0.01M118.8 165.6h0.01M126.1 180.1h0.01M126.6 177.0h0.01M103.0 181.1h0.01M125.6 176.3h0.01M100.9 181.4h0.01M126.6 169.7h0.01M117.0 178.3h0.01M115.3 180.4h0.01M116.6 177.7h0.01M116.7 163.0h0.01M118.2 181.9h0.01M124.8 184.6h0.01M120.3 169.0h0.01M116.1 160.0h0.01M114.5 179.2h0.01M99.2 174.3h0.01M122.4 182.0h0.01M108.8 168.6h0.01M101.4 166.1h0.01M107.1 182.4h0.01M119.3 169.6h0.01M133.0 155.9h0.01M115.5 174.5h0.01M133.6 173.9h0.01M123.6 182.3h0.01M120.0 175.4h0.01M114.6 170.2h0.01M112.5 158.9h0.01M118.1 172.8h0.01M115.2 171.2h0.01M110.2 172.8h0.01M112.6 174.4h0.01M140.3 175.7h0.01M122.7 178.6h0.01M121.6 178.6h0.01M121.3 182.6h0.01M123.8 182.2h0.01M112.1 173.0h0.01M110.3 179.5h0.01M122.5 169.8h0.01M125.6 165.4h0.01M115.3 177.3h0.01M115.7 175.6h0.01M125.2 175.2h0.01M107.5 177.9h0.01M115.2 173.8h0.01M111.6 163.6h0.01M106.3 170.6h0.01M107.7 154.5h0.01M124.9 165.1h0.01M110.4 176.6h0.01M97.2 182.1h0.01M110.0 177.5h0.01M112.2 175.1h0.01M116.8 173.0h0.01M101.8 163.0h0.01M115.7 182.6h0.01M111.7 176.6h0.01M117.3 176.3h0.01M123.7 162.8h0.01M118.1 171.8h0.01M113.6 167.2h0.01M109.9 166.0h0.01M129.2 173.1h0.01M121.8 166.3h0.01M94.3 160.6h0.01M117.1 182.8h0.01M115.7 166.2h0.01M114.1 166.2h0.01M105.1 171.4h0.01M112.9 167.5h0.01M109.1 166.7h0.01M117.8 182.5h0.01M103.4 174.9h0.01M107.0 171.9h0.01M116.8 176.8h0.01M124.8 169.2h0.01M106.3 171.7h0.01M118.3 168.2h0.01M123.0 184.5h0.01M104.9 175.5h0.01M123.9 159.9h0.01M117.6 171.5h0.01M104.9 182.0h0.01M117.7 169.7h0.01M119.5 177.4h0.01M122.0 177.0h0.01M119.2 165.0h0.01M112.7 173.9h0.01M113.0 165.8h0.01M101.8 174.7h0.01M116.3 169.0h0.01M112.8 166.9h0.01M110.2 172.3h0.01M111.0 177.6h0.01M114.9 173.9h0.01M119.2 181.7h0.01M120.7 174.6h0.01M114.7 167.5h0.01M113.3 177.7h0.01M117.8 170.4h0.01M105.6 162.5h0.01M118.5 180.0h0.01M118.9 163.6h0.01M114.3 174.5h0.01M108.8 175.4h0.01M114.4 167.3h0.01M106.3 178.5h0.01M118.8 166.9h0.01M108.1 179.1h0.01M120.6 170.9h0.01M128.4 171.0h0.01M107.8 180.4h0.01M114.5 175.4h0.01M116.3 166.2h0.01M106.7 171.7h0.01M127.0 166.2h0.01M126.6 174.5h0.01M107.3 174.8h0.01M120.4 166.9h0.01M99.4 175.4h0.01M107.4 176.0h0.01M101.1 172.0h0.01M109.7 162.9h0.01M114.1 174.2h0.01M111.7 165.0h0.01M117.7 161.1h0.01M120.2 176.3h0.01M129.1 179.0h0.01M118.8 174.8h0.01M116.2 164.0h0.01M127.4 176.6h0.01M113.8 165.2h0.01M127.5 176.6h0.01M106.8 177.6h0.01M130.7 172.8h0.01M119.1 170.2h0.01M111.1 180.3h0.01M139.9 173.8h0.01M115.0 178.4h0.01M113.6 178.0h0.01M122.4 166.1h0.01M107.7 172.5h0.01M122.5 174.9h0.01M125.6 163.6h0.01M119.8 168.8h0.01M116.8 175.2h0.01M108.5 171.4h0.01M107.0 174.8h0.01M109.4 169.6h0.01M117.7 168.6h0.01M124.9 168.7h0.01M122.6 174.9h0.01M108.0 171.5h0.01M109.5 170.5h0.01M112.7 183.6h0.01M119.5 164.1h0.01M98.1 177.6h0.01M100.6 177.9h0.01M124.0 175.6h0.01M114.4 171.3h0.01M118.0 170.9h0.01M111.9 170.5h0.01M125.1 168.8h0.01M118.9 165.2h0.01M110.5 163.7h0.01M114.5 177.6h0.01M118.4 169.7h0.01M120.7 170.6h0.01M118.9 174.9h0.01M120.2 156.2h0.01M105.9 178.2h0.01M114.2 169.3h0.01M127.6 176.8h0.01M130.7 176.5h0.01M114.4 177.9h0.01M109.9 170.0h0.01M111.7 171.5h0.01M122.0 169.7h0.01M118.5 169.6h0.01M122.8 154.3h0.01M114.4 174.1h0.01M107.7 179.9h0.01M117.7 181.7h0.01M123.4 177.3h0.01M114.8 165.6h0.01M114.3 169.9h0.01M117.9 169.9h0.01M139.6 162.2h0.01M125.1 169.8h0.01M114.1 179.3h0.01M116.0 164.8h0.01M119.2 171.7h0.01M100.1 174.3h0.01M107.8 168.0h0.01M119.7 175.0h0.01M119.2 168.9h0.01M117.8 172.2h0.01M99.0 162.3h0.01M114.6 171.1h0.01M111.6 179.6h0.01M116.2 184.5h0.01M122.1 184.1h0.01M115.1 175.5h0.01M112.7 171.9h0.01M102.6 169.1h0.01M108.7 168.6h0.01M125.4 174.8h0.01M125.5 178.8h0.01M123.1 179.8h0.01M111.3 178.4h0.01M113.5 169.4h0.01M108.5 184.7h0.01M122.4 167.3h0.01M118.1 175.5h0.01M118.9 170.6h0.01M106.1 173.2h0.01M122.6 178.3h0.01M121.1 180.4h0.01M108.4 172.7h0.01M118.6 179.7h0.01M117.2 176.5h0.01M99.2 172.8h0.01M135.1 174.6h0.01M101.9 173.9h0.01M105.0 168.4h0.01M117.7 184.6h0.01M119.6 177.5h0.01M123.8 174.4h0.01M109.4 172.3h0.01M118.6 171.1h0.01M110.9 170.6h0.01M104.4 166.1h0.01M115.3 170.6h0.01M116.3 182.5h0.01M118.3 172.8h0.01M107.0 165.7h0.01M118.9 167.1h0.01M119.3 165.8h0.01M117.0 172.5h0.01M123.7 170.4h0.01M113.1 174.7h0.01M116.4 184.4h0.01M114.0 169.4h0.01M113.5 176.2h0.01M117.8 177.7h0.01M130.2 172.8h0.01M106.7 174.0h0.01M119.2 158.0h0.01M116.1 163.0h0.01M119.5 182.3h0.01M124.0 162.9h0.01M126.6 179.1h0.01M113.2 176.4h0.01M127.7 170.8h0.01M115.9 169.2h0.01M124.9 158.5h0.01M126.9 166.5h0.01M123.1 162.1h0.01M108.8 169.0h0.01M122.4 162.1h0.01M120.6 168.7h0.01M125.6 170.9h0.01M119.7 171.8h0.01M129.8 170.6h0.01M116.6 177.6h0.01M110.3 174.3h0.01M98.5 173.7h0.01M111.0 162.9h0.01M105.1 180.7h0.01M119.3 162.8h0.01M130.0 168.3h0.01M113.2 174.7h0.01M107.2 162.1h0.01M110.3 181.0h0.01M123.3 162.4h0.01M125.3 173.2h0.01M119.9 173.3h0.01M119.2 166.3h0.01M109.0 168.3h0.01M113.2 177.2h0.01M106.6 183.7h0.01M111.1 169.0h0.01M121.4 175.9h0.01M113.4 165.8h0.01M108.3 162.2h0.01M124.8 180.3h0.01M130.4 176.4h0.01M118.6 178.1h0.01M123.3 171.3h0.01M103.0 163.5h0.01M108.6 178.1h0.01M125.1 170.7h0.01M121.2 172.7h0.01M118.3 169.4h0.01M115.8 173.0h0.01M102.0 176.6h0.01M116.0 179.5h0.01M124.2 178.3h0.01M122.2 166.6h0.01M102.9 184.3h0.01M125.3 166.6h0.01M125.9 177.5h0.01M97.1 179.1h0.01M108.4 180.9h0.01M110.8 168.0h0.01M104.1 171.5h0.01M123.8 168.5h0.01M130.2 177.7h0.01M111.9 164.8h0.01M103.4 176.8h0.01M126.0 165.9h0.01M116.0 171.1h0.01" stroke="#444" stroke-width="0.8" stroke-linecap="round" opacity="0.35"/>
<path d="M124.6 175.9h0.01M139.2 156.4h0.01M130.2 163.6h0.01M130.9 155.7h0.01M131.9 160.8h0.01M126.9 166.8h0.01M132.8 153.2h0.01M137.7 146.7h0.01M120.4 175.0h0.01M135.5 152.6h0.01M108.1 175.2h0.01M114.7 173.3h0.01M121.7 171.5h0.01M129.0 166.9h0.01M113.0 181.1h0.01M114.5 177.0h0.01M113.1 179.7h0.01M123.9 167.9h0.01M118.9 172.1h0.01M131.7 150.9h0.01M122.4 174.7h0.01M119.9 164.3h0.01M132.1 160.2h0.01M135.1 152.0h0.01M128.6 166.2h0.01M113.0 175.3h0.01M122.8 168.5h0.01M120.7 174.3h0.01M131.3 154.6h0.01M136.2 157.4h0.01M133.5 159.8h0.01M131.2 156.3h0.01M138.1 149.0h0.01M122.7 165.6h0.01M118.1 171.8h0.01M122.5 158.7h0.01M113.4 176.9h0.01M116.5 167.5h0.01M127.3 158.5h0.01M126.3 168.5h0.01M134.6 154.9h0.01M130.2 156.3h0.01M140.9 150.1h0.01M131.0 150.4h0.01M112.6 171.6h0.01M128.2 162.7h0.01M129.2 159.8h0.01M116.6 174.9h0.01M135.6 158.9h0.01M120.4 168.1h0.01M135.0 155.1h0.01M130.4 163.0h0.01M108.2 179.5h0.01M139.7 157.2h0.01M114.0 180.9h0.01M118.3 173.2h0.01M117.1 171.5h0.01M136.5 151.3h0.01M111.0 178.4h0.01M124.2 165.4h0.01M128.3 157.2h0.01M118.0 167.7h0.01M123.5 165.9h0.01M136.7 155.2h0.01M142.7 151.9h0.01M109.7 177.3h0.01M128.6 159.5h0.01M113.7 175.7h0.01M115.5 170.6h0.01M124.7 171.3h0.01M115.5 177.9h0.01M135.9 158.1h0.01M142.7 149.2h0.01M133.5 159.2h0.01M113.5 176.0h0.01M128.7 163.9h0.01M108.7 168.3h0.01M121.0 171.3h0.01M125.0 166.1h0.01M124.8 167.2h0.01M115.2 172.0h0.01M144.3 147.5h0.01M125.0 164.3h0.01M110.0 175.3h0.01M116.3 174.3h0.01M135.5 145.7h0.01M134.9 152.5h0.01M123.7 163.1h0.01M116.1 176.2h0.01M127.3 162.7h0.01M135.7 151.8h0.01M114.1 176.3h0.01M110.3 181.6h0.01M132.3 153.9h0.01M116.4 180.3h0.01M124.7 171.0h0.01M114.8 179.4h0.01M124.5 158.9h0.01M127.6 168.8h0.01M108.6 178.9h0.01M129.7 157.6h0.01M128.3 157.3h0.01M117.7 173.6h0.01M112.7 176.4h0.01M131.4 151.6h0.01M118.0 183.4h0.01M135.0 156.1h0.01M119.1 171.9h0.01M134.0 158.0h0.01M137.4 154.1h0.01M110.6 178.1h0.01M138.7 148.9h0.01M136.1 158.9h0.01M114.6 170.7h0.01M143.3 152.6h0.01M128.2 160.1h0.01M124.1 158.4h0.01M115.9 178.9h0.01M118.4 171.5h0.01M137.9 158.5h0.01M132.9 156.1h0.01M130.3 163.6h0.01M117.0 176.1h0.01M124.6 172.1h0.01M136.3 153.4h0.01M119.4 173.8h0.01M107.9 170.4h0.01M134.2 157.0h0.01M112.0 172.8h0.01M122.7 165.2h0.01M124.4 156.3h0.01M133.9 151.7h0.01M135.0 154.2h0.01M132.3 157.0h0.01M139.4 160.1h0.01M122.6 164.5h0.01M117.5 173.1h0.01M104.9 180.1h0.01M134.3 158.3h0.01M140.1 154.7h0.01M118.2 174.9h0.01M135.2 156.9h0.01M137.4 153.3h0.01M130.4 167.5h0.01M117.4 168.5h0.01M127.9 163.5h0.01M123.7 161.1h0.01M132.6 155.5h0.01" stroke="#555" stroke-width="0.8" stroke-linecap="round" opacity="0.3"/>
<path d="M132.3 183.1h0.01M98.1 139.3h0.01M109.4 179.6h0.01M93.8 142.1h0.01M133.8 184.4h0.01M103.0 152.4h0.01M132.2 167.1h0.01M135.5 170.7h0.01M107.2 141.9h0.01M94.6 167.1h0.01M104.9 142.1h0.01M148.0 164.3h0.01M126.7 165.1h0.01M127.1 167.3h0.01M110.3 130.7h0.01M96.8 127.8h0.01M113.6 135.2h0.01M99.4 155.6h0.01M148.3 166.9h0.01M108.6 171.6h0.01M103.1 132.8h0.01M110.3 150.7h0.01M132.3 152.8h0.01M134.5 132.5h0.01M146.1 146.9h0.01M140.4 128.8h0.01M140.2 140.1h0.01M141.7 173.6h0.01M131.2 143.1h0.01M93.6 138.0h0.01M144.6 136.2h0.01M130.6 161.0h0.01M130.7 137.5h0.01M101.2 132.6h0.01M149.0 149.2h0.01M130.2 160.0h0.01M105.7 130.8h0.01M93.8 176.4h0.01M100.4 182.9h0.01M113.7 168.9h0.01M100.9 172.7h0.01M107.3 148.2h0.01M122.8 133.5h0.01M107.2 173.2h0.01M109.3 149.1h0.01M136.6 140.0h0.01M104.1 139.7h0.01M114.9 148.2h0.01M129.6 154.4h0.01M142.6 129.9h0.01M130.8 175.5h0.01M106.4 128.7h0.01M118.0 133.7h0.01M119.2 168.3h0.01M98.3 133.8h0.01M120.3 137.1h0.01M106.2 152.5h0.01M99.7 130.9h0.01M113.6 154.2h0.01M146.4 159.2h0.01M97.1 139.9h0.01M135.4 159.6h0.01M142.6 182.8h0.01M141.9 133.4h0.01M146.8 157.4h0.01M106.7 136.9h0.01M142.3 139.3h0.01M97.7 142.4h0.01M145.7 153.7h0.01M134.7 131.3h0.01M118.8 145.4h0.01M104.7 165.5h0.01M113.6 133.9h0.01M149.1 154.9h0.01M103.3 127.6h0.01M130.2 156.9h0.01M94.4 154.3h0.01M135.2 158.2h0.01M106.3 155.9h0.01M127.5 164.8h0.01M101.3 173.6h0.01M146.9 169.9h0.01M141.9 148.3h0.01M144.5 137.5h0.01M105.9 161.7h0.01M144.4 131.8h0.01M105.4 129.1h0.01M118.0 135.1h0.01M103.9 170.4h0.01M126.2 181.5h0.01M115.9 166.4h0.01M93.7 182.0h0.01M106.3 154.7h0.01M122.2 182.0h0.01M121.0 184.5h0.01M128.4 139.6h0.01M140.5 138.7h0.01M150.0 153.5h0.01M105.9 182.8h0.01M111.3 150.6h0.01" stroke="#666" stroke-width="0.8" stroke-linecap="round" opacity="0.3"/>
<ellipse cx="124" cy="145" rx="14" ry="5.8" transform="rotate(-8 124 145)" stroke="none" stroke-width="0" fill="url(#blob2)" opacity="1"/>
<ellipse cx="126" cy="144.8" rx="14.5" ry="5.8" transform="rotate(-8 126 144.8)" stroke="#222" stroke-width="1.0" fill="none" opacity="0.9"/>
<ellipse cx="125" cy="145" rx="12" ry="4.6" transform="rotate(-8 125 145)" stroke="#333" stroke-width="0.6" fill="none" opacity="0.8"/>
<ellipse cx="124" cy="145.5" rx="9" ry="3.4" transform="rotate(-8 124 145.5)" stroke="#222" stroke-width="0.6" fill="none" opacity="0.8"/>
<ellipse cx="119" cy="145.5" rx="3.5" ry="2" transform="rotate(-8 119 145.5)" stroke="#222" stroke-width="0.6" fill="none" opacity="0.8"/>
<ellipse cx="129" cy="145.5" rx="3" ry="2" transform="rotate(-8 129 145.5)" stroke="#222" stroke-width="0.6" fill="none" opacity="0.8"/>
<path d="M114 143 C118 139 127 137 134 137.5" stroke="#111" stroke-width="1.4" fill="none" stroke-linejoin="round"/>
<ellipse cx="134" cy="144" rx="12.5" ry="5.5" transform="rotate(-15 134 144)" stroke="#666" stroke-width="0.5" fill="none" opacity="1"/>
<path d="M138 142 L146 139 L147 145 L140 150" stroke="#666" stroke-width="0.5" fill="none" stroke-linejoin="round"/>
<ellipse cx="125" cy="158" rx="8" ry="3" transform="rotate(-25 125 158)" stroke="#666" stroke-width="0.45" fill="none" opacity="1"/>
<ellipse cx="122" cy="159" rx="2.2" ry="1.2" transform="rotate(-25 122 159)" stroke="#444" stroke-width="0.6" fill="none" opacity="1"/>
<path d="M115 163 C122 160 130 156 137 153" stroke="#777" stroke-width="0.45" fill="none" stroke-linejoin="round"/>
<ellipse cx="116.5" cy="173" rx="7" ry="9" transform="rotate(10 116.5 173)" stroke="none" stroke-width="0" fill="url(#blob2)" opacity="1"/>
<ellipse cx="117.5" cy="173.5" rx="8.924999999999999" ry="10.5" transform="rotate(12 117.5 173.5)" stroke="#333" stroke-width="0.6" fill="none" opacity="0.55"/>
<ellipse cx="117.5" cy="173.5" rx="6.8" ry="8" transform="rotate(12 117.5 173.5)" stroke="#333" stroke-width="0.6" fill="none" opacity="0.7"/>
<ellipse cx="117.5" cy="173.5" rx="4.675" ry="5.5" transform="rotate(12 117.5 173.5)" stroke="#333" stroke-width="0.6" fill="none" opacity="0.85"/>
<ellipse cx="117.5" cy="173.5" rx="2.55" ry="3" transform="rotate(12 117.5 173.5)" stroke="#333" stroke-width="0.6" fill="none" opacity="0.9"/>
<path d="M109 181 C110 175 112 168 117 166 C122 165 125 170 124 176" stroke="#222" stroke-width="0.8" fill="none" stroke-linejoin="round"/>
</g>
<defs><linearGradient id="tri3" x1="0" y1="0" x2="1" y2="1"><stop offset="0" stop-color="#222" stop-opacity="0.9"/><stop offset="0.45" stop-color="#666" stop-opacity="0.6"/><stop offset="1" stop-color="#aaa" stop-opacity="0.35"/></linearGradient></defs>
<g clip-path="url(#cp2)">
<path d="M127.7 212.1h0.01M116.8 201.5h0.01M121.5 217.8h0.01M116.0 209.9h0.01M124.8 204.3h0.01M135.1 213.6h0.01M120.7 196.7h0.01M120.1 222.6h0.01M121.1 192.9h0.01M133.8 208.9h0.01M146.1 190.0h0.01M124.0 194.0h0.01M135.9 204.3h0.01M129.9 220.0h0.01M138.5 219.0h0.01M148.5 197.7h0.01M148.0 202.7h0.01M117.8 220.9h0.01M119.5 188.6h0.01M125.8 198.4h0.01M148.9 219.3h0.01M130.3 207.1h0.01M144.9 217.1h0.01M138.2 206.5h0.01M120.0 196.8h0.01M138.4 209.1h0.01M143.2 220.4h0.01M148.7 194.9h0.01M118.6 220.3h0.01M135.4 194.5h0.01M139.5 197.2h0.01M124.0 201.2h0.01M133.8 212.4h0.01M118.5 214.7h0.01M137.2 205.0h0.01M138.9 216.8h0.01M116.3 205.1h0.01M139.0 213.5h0.01M138.0 194.5h0.01M148.6 216.3h0.01M123.9 203.5h0.01M148.6 195.5h0.01M129.9 222.6h0.01M146.6 196.4h0.01M141.0 200.9h0.01M138.6 215.6h0.01M120.3 196.0h0.01M123.3 197.6h0.01M117.2 192.9h0.01M129.8 203.1h0.01M118.6 209.0h0.01M148.0 208.8h0.01M128.1 213.4h0.01M130.9 194.3h0.01M132.4 188.6h0.01M139.0 193.8h0.01M128.6 222.6h0.01M142.1 218.1h0.01M137.8 210.8h0.01M140.0 222.8h0.01M122.7 215.6h0.01M126.2 197.2h0.01M143.9 209.6h0.01M144.9 219.5h0.01M136.0 195.1h0.01M116.5 207.3h0.01M140.7 197.8h0.01M118.4 188.2h0.01M121.9 213.1h0.01M116.1 196.3h0.01M125.0 213.6h0.01M149.6 188.7h0.01M119.9 221.6h0.01M149.0 193.4h0.01M127.4 206.8h0.01M126.9 203.0h0.01M132.3 197.3h0.01M117.9 191.0h0.01M121.5 191.3h0.01M137.2 213.1h0.01M124.9 216.5h0.01M140.8 200.3h0.01M132.7 194.8h0.01M147.6 208.2h0.01M117.7 193.5h0.01M139.5 201.9h0.01M140.4 196.3h0.01M143.1 216.9h0.01M119.2 209.1h0.01M122.5 213.5h0.01M143.3 216.5h0.01M123.9 191.4h0.01M138.6 208.3h0.01M120.7 194.9h0.01M135.8 191.9h0.01M137.6 196.7h0.01M124.8 203.2h0.01M134.1 214.1h0.01M117.1 214.1h0.01M123.5 198.5h0.01M137.8 212.9h0.01M136.9 220.5h0.01M123.0 199.2h0.01M138.5 197.4h0.01M121.3 196.1h0.01M142.2 217.8h0.01M140.4 222.5h0.01M143.0 199.1h0.01M126.7 214.0h0.01M117.9 209.9h0.01M119.0 189.8h0.01M133.5 193.4h0.01M147.7 219.6h0.01M131.7 195.1h0.01M120.1 206.2h0.01M133.7 201.1h0.01M140.4 207.1h0.01M142.4 191.8h0.01M118.4 201.9h0.01M132.4 197.1h0.01M138.7 196.0h0.01M126.8 205.2h0.01M140.2 215.7h0.01M128.6 204.1h0.01M147.5 221.6h0.01M137.0 191.8h0.01M131.5 210.9h0.01M125.5 189.3h0.01M149.4 220.7h0.01M120.4 204.8h0.01M137.1 198.8h0.01M118.3 215.0h0.01M142.2 203.7h0.01M118.9 202.2h0.01M119.2 222.7h0.01M117.7 198.4h0.01M142.1 192.9h0.01M119.6 190.5h0.01M121.6 207.1h0.01M144.3 194.1h0.01M121.9 215.5h0.01M130.5 200.2h0.01M120.2 196.7h0.01M149.0 192.2h0.01M124.8 214.7h0.01M146.3 220.6h0.01M132.1 222.4h0.01M136.5 198.4h0.01M131.8 213.8h0.01M141.0 192.7h0.01M122.6 222.5h0.01M119.6 217.3h0.01M127.5 196.9h0.01M124.7 204.9h0.01M149.7 193.3h0.01M145.1 199.6h0.01M121.9 214.8h0.01M127.6 194.8h0.01M130.2 217.6h0.01M145.3 208.7h0.01M116.4 215.5h0.01M136.6 220.4h0.01M148.4 199.8h0.01M144.8 217.5h0.01M125.0 201.2h0.01M128.7 200.7h0.01M128.9 192.0h0.01M123.7 220.7h0.01M130.0 210.9h0.01M146.2 215.2h0.01M124.3 221.1h0.01M143.3 223.7h0.01M140.8 215.2h0.01M143.6 197.1h0.01M138.3 201.7h0.01M144.5 192.8h0.01M134.3 200.1h0.01M143.9 200.4h0.01M144.7 218.5h0.01M145.9 193.0h0.01M147.9 214.8h0.01M139.0 211.5h0.01M117.6 219.3h0.01M134.6 204.4h0.01M127.5 216.2h0.01M142.6 219.3h0.01M123.3 200.3h0.01M124.5 191.6h0.01M127.1 188.9h0.01M143.1 196.2h0.01M118.4 190.4h0.01M141.2 195.1h0.01M131.7 202.5h0.01M143.3 222.3h0.01M126.5 210.8h0.01M146.4 204.9h0.01M146.6 214.4h0.01M126.6 219.5h0.01M135.5 191.8h0.01M136.0 217.9h0.01M133.6 205.4h0.01M130.2 219.7h0.01M138.6 195.5h0.01M128.3 201.1h0.01M148.6 213.1h0.01M120.2 220.9h0.01M117.2 209.3h0.01M130.7 213.8h0.01M130.6 191.3h0.01M133.8 217.5h0.01M142.8 200.8h0.01M123.6 214.8h0.01M143.3 195.9h0.01M146.0 223.7h0.01M130.7 201.7h0.01M140.1 221.5h0.01M122.9 198.9h0.01M127.2 214.4h0.01M122.4 207.7h0.01M133.0 212.1h0.01M120.9 222.4h0.01M150.0 208.2h0.01M143.0 194.6h0.01M146.9 207.9h0.01M141.8 219.3h0.01M128.3 221.3h0.01M123.1 188.8h0.01M133.1 220.4h0.01M146.6 222.4h0.01M133.4 221.6h0.01M135.0 193.2h0.01M137.5 216.9h0.01M130.4 209.7h0.01M124.8 197.9h0.01M130.3 206.5h0.01M131.9 191.3h0.01M116.2 200.2h0.01M140.4 214.9h0.01M124.1 197.2h0.01M133.6 194.3h0.01M136.5 220.5h0.01M122.9 209.1h0.01M140.5 215.0h0.01M140.2 213.6h0.01M125.3 218.2h0.01M147.5 189.9h0.01M148.1 203.9h0.01M118.9 190.5h0.01M143.1 212.4h0.01M120.8 204.6h0.01M137.7 223.9h0.01M127.4 215.6h0.01M124.3 195.2h0.01M121.5 202.8h0.01M137.0 198.9h0.01M121.5 195.9h0.01M118.9 195.0h0.01M126.7 206.2h0.01M122.2 205.3h0.01M131.0 223.0h0.01" stroke="#666" stroke-width="0.8" stroke-linecap="round" opacity="0.35"/>
<path d="M99.4 232.7h0.01M100.7 230.2h0.01M105.3 234.0h0.01M98.5 217.1h0.01M98.6 235.2h0.01M98.2 234.5h0.01M101.5 226.4h0.01M112.1 241.8h0.01M103.3 231.7h0.01M110.6 224.1h0.01M98.0 238.7h0.01M110.2 229.1h0.01M98.6 234.1h0.01M94.3 229.0h0.01M102.4 217.4h0.01M108.1 236.5h0.01M111.4 223.5h0.01M95.1 227.2h0.01M97.2 230.1h0.01M105.4 234.7h0.01M114.1 225.5h0.01M110.1 232.9h0.01M95.9 232.9h0.01M94.3 241.6h0.01M98.9 238.0h0.01M113.0 228.3h0.01M97.8 232.8h0.01M96.7 237.4h0.01M105.2 227.5h0.01M99.2 236.3h0.01M93.9 242.1h0.01M98.5 230.8h0.01M97.6 241.7h0.01M109.7 239.8h0.01M108.5 232.5h0.01M115.8 236.0h0.01M107.0 235.4h0.01M109.1 233.7h0.01M102.8 222.5h0.01M118.3 224.2h0.01M117.5 239.3h0.01M99.8 233.6h0.01M103.8 220.1h0.01M101.7 233.7h0.01M112.2 224.8h0.01M106.3 232.5h0.01M105.0 232.9h0.01M101.4 223.8h0.01M107.2 234.3h0.01M108.0 239.5h0.01M95.3 218.0h0.01M97.6 234.4h0.01M103.9 236.4h0.01M126.5 228.9h0.01M102.8 228.4h0.01M105.7 235.1h0.01M97.2 239.9h0.01M112.0 234.7h0.01M103.2 230.6h0.01M97.2 229.0h0.01M111.0 226.5h0.01M100.3 237.1h0.01M117.0 227.9h0.01M111.7 228.1h0.01M106.7 234.9h0.01M96.0 238.2h0.01M116.6 232.3h0.01M105.9 225.0h0.01M116.5 232.4h0.01M95.1 236.6h0.01M93.8 227.9h0.01M119.5 228.2h0.01M99.4 228.5h0.01M100.0 235.3h0.01M114.2 226.0h0.01M107.1 221.2h0.01M114.7 231.5h0.01M99.1 241.2h0.01M103.3 240.2h0.01M111.5 241.9h0.01M98.4 232.3h0.01M106.6 230.8h0.01M114.7 227.7h0.01M111.0 240.2h0.01M97.7 228.7h0.01M106.7 231.0h0.01M104.6 229.2h0.01M103.4 234.9h0.01M109.2 227.3h0.01M103.2 227.4h0.01M102.8 223.4h0.01M110.7 236.0h0.01M103.1 227.9h0.01M100.8 228.0h0.01M93.2 241.8h0.01M127.0 224.6h0.01M95.8 235.5h0.01M108.2 222.6h0.01M100.5 232.5h0.01M104.0 228.6h0.01M103.0 230.2h0.01M112.7 231.4h0.01M103.8 228.8h0.01M99.6 227.6h0.01M111.8 233.4h0.01M115.7 238.1h0.01M105.5 231.0h0.01M96.3 233.5h0.01M101.8 222.5h0.01M105.5 235.0h0.01M105.4 229.2h0.01M107.2 238.5h0.01M101.8 235.1h0.01M111.2 229.1h0.01M105.2 227.6h0.01M108.2 229.8h0.01M112.0 227.4h0.01M115.8 230.1h0.01M98.1 226.6h0.01M108.6 226.9h0.01M116.6 239.7h0.01M107.6 223.5h0.01M103.8 227.6h0.01M119.4 228.8h0.01M109.7 239.7h0.01M97.3 230.0h0.01M105.9 234.8h0.01M96.0 233.3h0.01M103.3 237.7h0.01M100.5 230.1h0.01M109.1 228.2h0.01M123.2 227.8h0.01M109.9 238.1h0.01M110.8 230.8h0.01M98.2 230.5h0.01M108.7 232.7h0.01M108.1 235.4h0.01M97.8 226.4h0.01M114.1 229.1h0.01M98.2 226.4h0.01M110.8 225.2h0.01M97.9 238.3h0.01M104.9 232.3h0.01M99.5 230.7h0.01M100.5 231.9h0.01M109.4 224.4h0.01M97.6 219.4h0.01M114.5 231.6h0.01M103.9 231.7h0.01M111.0 233.9h0.01M110.0 231.0h0.01M103.2 231.7h0.01M108.7 232.3h0.01M109.7 242.2h0.01M117.0 240.3h0.01M97.8 231.5h0.01M111.0 230.7h0.01M103.2 229.9h0.01M113.6 217.2h0.01M112.9 238.4h0.01M103.5 235.4h0.01M97.2 238.7h0.01M125.4 226.5h0.01M113.8 231.7h0.01M101.6 229.1h0.01M102.7 224.5h0.01M94.5 242.0h0.01M103.9 235.3h0.01M106.2 234.9h0.01M93.3 226.3h0.01M108.4 238.0h0.01M96.0 228.5h0.01M96.5 235.9h0.01M106.4 232.2h0.01M99.5 234.1h0.01M104.2 227.5h0.01M106.3 228.0h0.01M110.7 235.8h0.01M99.2 235.5h0.01M104.5 227.8h0.01M97.6 222.0h0.01M96.1 234.1h0.01M112.5 228.2h0.01M105.1 234.1h0.01M109.5 234.7h0.01M112.6 236.6h0.01M98.7 234.4h0.01M104.1 235.5h0.01M101.9 237.0h0.01M113.2 227.0h0.01M100.2 233.6h0.01M107.4 232.9h0.01M109.8 224.9h0.01M109.4 239.0h0.01M111.8 234.6h0.01M102.3 234.4h0.01M103.5 222.5h0.01M99.8 231.8h0.01M100.4 226.4h0.01M102.4 229.8h0.01M104.5 231.7h0.01M105.2 238.0h0.01M105.0 234.4h0.01M95.4 214.3h0.01M101.2 236.1h0.01M101.6 228.3h0.01M95.3 237.4h0.01M100.3 233.5h0.01M111.9 235.2h0.01M119.7 231.2h0.01M110.7 236.2h0.01M99.4 232.3h0.01M100.0 225.9h0.01M106.1 227.4h0.01M115.8 227.6h0.01M100.2 232.5h0.01M100.4 232.3h0.01M99.7 223.5h0.01M114.7 234.7h0.01M105.1 229.2h0.01M103.0 233.8h0.01M94.3 227.2h0.01M97.8 239.6h0.01M96.6 239.0h0.01M103.5 232.2h0.01M113.5 237.2h0.01M110.6 225.6h0.01M112.0 242.1h0.01M103.3 229.1h0.01M96.4 238.1h0.01M106.1 232.0h0.01M95.4 241.7h0.01M110.1 231.9h0.01M114.3 226.3h0.01M110.2 226.0h0.01M113.9 230.3h0.01M112.6 229.5h0.01" stroke="#444" stroke-width="0.8" stroke-linecap="round" opacity="0.4"/>
<path d="M118.4 236.9h0.01M110.6 230.6h0.01M111.0 235.1h0.01M112.4 227.8h0.01M114.8 237.0h0.01M109.8 229.8h0.01M114.0 226.7h0.01M111.3 229.0h0.01M117.2 220.7h0.01M117.4 222.9h0.01M110.2 229.6h0.01M114.5 235.9h0.01M113.2 219.3h0.01M106.3 231.1h0.01M117.5 236.4h0.01M112.8 234.0h0.01M109.6 237.8h0.01M115.6 225.9h0.01M117.1 240.5h0.01M110.9 222.6h0.01M109.9 223.1h0.01M115.7 232.1h0.01M115.0 231.2h0.01M123.1 228.3h0.01M108.5 216.3h0.01M117.5 225.9h0.01M114.5 232.5h0.01M118.8 220.6h0.01M110.3 230.4h0.01M115.1 236.9h0.01M113.0 217.6h0.01M123.0 220.2h0.01M110.2 232.3h0.01M117.4 233.2h0.01M119.2 225.7h0.01M123.5 219.9h0.01M112.5 231.7h0.01M116.8 224.2h0.01M125.5 238.8h0.01M110.4 232.2h0.01M112.2 227.4h0.01M121.9 230.8h0.01M115.3 230.6h0.01M109.0 237.3h0.01M111.5 237.9h0.01M113.3 227.3h0.01M124.9 231.1h0.01M112.2 226.8h0.01M119.6 241.2h0.01M119.7 227.6h0.01M109.3 226.0h0.01M115.3 231.5h0.01M112.1 237.7h0.01M110.3 225.7h0.01M119.0 232.9h0.01M113.7 235.8h0.01M107.6 239.8h0.01M129.1 241.7h0.01M116.7 241.8h0.01M116.3 238.0h0.01M114.8 231.2h0.01M119.1 219.5h0.01M114.8 240.3h0.01M98.5 232.3h0.01M121.5 232.0h0.01M117.2 238.3h0.01M118.0 218.6h0.01M110.3 228.2h0.01M116.9 227.3h0.01M115.4 240.0h0.01M98.4 236.9h0.01M121.6 233.6h0.01M116.1 230.4h0.01M118.2 231.5h0.01M111.7 234.7h0.01M111.0 229.8h0.01M113.9 223.1h0.01M119.6 229.6h0.01M109.0 229.5h0.01M107.7 238.6h0.01M119.1 241.9h0.01M112.6 234.2h0.01M110.2 224.9h0.01M115.5 232.5h0.01M121.5 228.4h0.01M122.6 235.8h0.01M110.8 228.9h0.01M110.5 240.2h0.01M112.7 235.3h0.01M121.5 228.5h0.01M113.1 232.1h0.01M111.4 222.4h0.01M110.2 232.0h0.01M117.1 240.5h0.01M105.1 233.0h0.01M109.1 236.9h0.01M120.2 230.8h0.01M124.8 227.8h0.01M112.8 223.7h0.01M112.1 230.7h0.01M120.0 237.6h0.01M114.4 225.6h0.01M114.0 227.4h0.01M113.2 227.6h0.01M110.8 229.7h0.01M112.9 229.0h0.01M107.7 230.9h0.01M119.4 233.9h0.01M112.7 223.2h0.01M108.2 223.0h0.01M112.2 228.2h0.01M105.4 234.0h0.01M106.8 225.9h0.01M111.7 234.9h0.01M127.0 227.9h0.01M114.4 227.7h0.01M114.8 229.0h0.01M130.7 223.5h0.01M115.4 225.3h0.01M118.1 226.9h0.01M119.4 223.6h0.01M128.6 231.2h0.01M105.5 234.2h0.01M113.2 223.1h0.01M118.6 226.9h0.01M120.4 226.8h0.01M121.4 230.9h0.01M118.1 230.9h0.01M113.8 227.9h0.01M118.7 234.2h0.01M126.0 223.2h0.01M122.4 229.6h0.01M117.4 225.3h0.01M125.8 225.1h0.01M115.5 225.7h0.01M127.5 237.4h0.01M108.2 227.3h0.01M118.2 227.5h0.01M113.9 223.6h0.01M117.5 223.5h0.01M114.1 239.7h0.01M118.2 226.0h0.01M114.0 224.3h0.01M116.7 234.1h0.01M121.5 228.4h0.01M108.9 229.6h0.01M125.9 231.7h0.01M115.6 217.7h0.01M113.4 233.2h0.01M110.4 238.0h0.01M112.7 224.9h0.01M112.6 229.5h0.01M121.9 226.7h0.01M105.5 229.5h0.01M119.1 239.1h0.01M109.4 238.7h0.01M120.0 232.7h0.01M111.5 224.8h0.01M110.4 235.5h0.01M117.3 236.3h0.01M126.7 230.1h0.01M115.7 241.3h0.01M108.3 227.4h0.01M113.8 227.8h0.01M116.8 225.1h0.01M122.9 222.0h0.01M111.2 220.1h0.01M107.7 233.5h0.01M119.7 228.9h0.01M121.0 233.7h0.01M112.6 229.8h0.01M118.2 241.8h0.01M113.4 232.2h0.01M119.2 237.2h0.01M118.5 236.3h0.01M109.7 228.5h0.01M104.6 229.7h0.01M129.8 231.5h0.01M116.5 231.6h0.01M116.9 222.3h0.01M111.9 229.0h0.01M117.0 225.0h0.01M115.4 225.7h0.01M108.2 226.2h0.01M111.3 235.0h0.01M123.9 233.4h0.01M114.8 226.8h0.01M106.7 226.9h0.01M125.2 236.8h0.01M117.3 228.6h0.01M116.0 232.5h0.01M116.0 232.5h0.01M111.5 230.3h0.01M113.9 236.3h0.01M108.7 237.6h0.01M115.5 227.1h0.01M116.1 230.8h0.01M114.6 232.5h0.01M112.6 220.1h0.01M120.1 229.9h0.01M125.8 232.3h0.01M104.2 237.3h0.01M111.9 233.2h0.01M129.1 236.4h0.01M109.6 229.5h0.01M106.5 234.0h0.01M119.3 224.0h0.01M118.7 235.5h0.01M120.8 226.1h0.01M111.9 223.5h0.01M108.4 231.9h0.01M116.2 237.7h0.01M117.6 228.2h0.01M107.6 239.1h0.01M117.0 229.9h0.01M110.1 223.9h0.01M119.7 224.4h0.01M119.4 233.7h0.01M113.8 220.6h0.01M118.4 238.3h0.01M111.1 222.7h0.01M122.4 230.9h0.01M112.3 237.2h0.01M114.4 232.7h0.01M113.6 225.7h0.01M117.3 225.0h0.01M105.5 226.9h0.01M123.3 236.5h0.01M128.8 235.8h0.01M125.5 231.5h0.01M113.4 232.8h0.01M110.4 234.3h0.01M113.4 231.6h0.01M111.0 229.3h0.01M121.8 228.8h0.01M112.0 231.7h0.01M121.2 229.0h0.01M109.1 221.0h0.01M108.1 236.3h0.01M115.5 232.8h0.01M122.3 231.7h0.01M118.8 227.1h0.01M106.5 233.7h0.01M115.4 233.4h0.01M109.7 229.2h0.01M127.9 225.2h0.01M116.6 237.7h0.01M114.6 230.8h0.01M103.5 234.6h0.01M113.4 237.5h0.01M115.5 227.9h0.01M118.6 228.7h0.01M113.0 239.0h0.01M121.8 230.7h0.01M120.8 234.9h0.01M119.4 230.3h0.01M116.4 232.4h0.01M119.3 232.1h0.01M112.8 229.6h0.01M118.7 224.4h0.01M115.9 234.5h0.01M117.0 228.4h0.01M115.9 227.3h0.01M121.8 227.9h0.01M106.2 223.1h0.01M117.8 231.3h0.01M113.2 222.5h0.01M115.1 225.2h0.01M112.1 230.1h0.01M111.5 231.9h0.01M111.7 227.4h0.01M114.7 238.5h0.01M125.3 235.5h0.01M111.7 230.1h0.01M121.4 234.7h0.01M106.4 229.8h0.01M111.7 234.4h0.01M119.7 227.0h0.01M128.6 228.5h0.01M130.3 229.1h0.01M115.5 241.0h0.01M112.9 227.4h0.01M124.7 229.9h0.01M118.8 222.9h0.01M126.5 235.7h0.01M118.1 234.1h0.01M113.1 227.4h0.01M106.8 232.2h0.01M123.3 235.0h0.01M121.4 234.2h0.01M110.6 222.6h0.01M119.8 231.0h0.01M121.8 228.5h0.01M110.8 232.6h0.01M112.7 220.7h0.01M112.4 225.1h0.01M109.5 226.9h0.01M126.1 227.7h0.01M122.7 229.7h0.01M118.4 226.2h0.01M115.6 220.5h0.01M126.5 225.7h0.01M119.4 226.7h0.01M117.6 223.4h0.01M113.8 235.3h0.01M119.5 219.0h0.01M121.0 222.6h0.01M117.7 233.1h0.01M112.2 228.3h0.01M114.6 232.4h0.01M121.4 237.9h0.01M117.9 241.5h0.01M110.4 240.3h0.01M114.5 234.5h0.01M115.3 230.6h0.01M110.6 232.3h0.01M127.9 230.9h0.01M115.9 230.1h0.01M120.2 228.9h0.01M116.0 231.3h0.01M123.7 235.5h0.01M109.8 226.5h0.01M116.1 234.9h0.01M121.7 228.9h0.01M128.5 229.2h0.01M124.3 238.2h0.01M125.4 231.2h0.01M119.4 221.4h0.01M105.5 226.6h0.01M120.2 236.2h0.01M115.4 236.0h0.01M119.4 238.8h0.01M106.7 225.4h0.01M110.4 224.1h0.01M125.7 224.8h0.01M111.1 227.8h0.01M121.2 227.5h0.01M120.3 233.2h0.01M112.2 216.6h0.01M110.6 223.0h0.01M125.6 226.0h0.01M109.7 232.2h0.01M116.3 224.8h0.01M122.4 235.3h0.01" stroke="#333" stroke-width="0.8" stroke-linecap="round" opacity="0.4"/>
<path d="M136.6 222.0h0.01M138.8 217.6h0.01M128.4 231.4h0.01M136.6 215.3h0.01M135.8 228.3h0.01M127.1 236.5h0.01M120.3 239.8h0.01M135.8 217.2h0.01M134.8 219.0h0.01M125.5 232.2h0.01M131.9 223.2h0.01M134.3 224.2h0.01M128.9 231.3h0.01M119.6 240.3h0.01M138.3 221.1h0.01M132.3 224.6h0.01M128.7 232.8h0.01M121.3 237.8h0.01M130.1 227.7h0.01M136.0 218.4h0.01M120.8 234.6h0.01M139.8 213.7h0.01M137.0 215.8h0.01M140.5 212.3h0.01M124.7 232.7h0.01M127.5 229.5h0.01M123.5 230.1h0.01M134.4 223.9h0.01M142.0 214.6h0.01M131.2 220.4h0.01M130.4 224.2h0.01M130.2 221.5h0.01M123.2 238.0h0.01M134.1 221.7h0.01M129.3 233.2h0.01M130.1 225.2h0.01M135.9 223.8h0.01M139.2 217.7h0.01M126.9 232.9h0.01M121.9 234.2h0.01M140.4 215.9h0.01M132.0 226.7h0.01M135.1 219.7h0.01M140.3 216.6h0.01M125.9 237.2h0.01M133.7 221.3h0.01M135.3 219.1h0.01M137.4 217.4h0.01M139.4 214.2h0.01M124.5 237.2h0.01M124.1 234.0h0.01M136.3 218.5h0.01M130.2 227.6h0.01M126.4 229.1h0.01M135.8 217.3h0.01M125.5 233.2h0.01M138.6 216.7h0.01M134.1 221.0h0.01M136.2 218.1h0.01M123.1 240.8h0.01M130.9 226.8h0.01M121.5 240.6h0.01M127.9 237.3h0.01M123.2 236.9h0.01M124.3 230.1h0.01M128.9 229.5h0.01M128.3 234.7h0.01M135.4 219.0h0.01M136.0 223.2h0.01M126.6 235.6h0.01M125.1 235.9h0.01M136.1 215.8h0.01M133.0 227.9h0.01M126.5 226.7h0.01M126.6 234.3h0.01M131.2 225.8h0.01M132.1 228.6h0.01M131.1 226.5h0.01M130.8 232.2h0.01M137.9 219.4h0.01M125.9 231.8h0.01M125.7 229.3h0.01M140.3 215.4h0.01M142.3 218.4h0.01M135.0 221.9h0.01M143.7 214.8h0.01M134.1 221.4h0.01M125.9 232.2h0.01M130.6 232.7h0.01M139.8 223.9h0.01M124.5 235.7h0.01M136.1 221.9h0.01M132.8 224.2h0.01M120.6 237.9h0.01M132.1 228.1h0.01M127.2 231.5h0.01M136.8 214.2h0.01M129.7 230.7h0.01M125.6 229.0h0.01M132.3 226.0h0.01M122.9 238.7h0.01M138.3 220.3h0.01M127.5 227.9h0.01M125.5 240.1h0.01M131.1 225.1h0.01M136.5 219.4h0.01M131.2 224.4h0.01M122.3 238.9h0.01M134.1 219.7h0.01M130.2 229.7h0.01M126.1 233.3h0.01M132.8 224.4h0.01M131.6 222.9h0.01M134.1 230.4h0.01M131.3 221.9h0.01M123.1 238.6h0.01M139.3 218.3h0.01M138.3 214.3h0.01M127.8 235.3h0.01" stroke="#444" stroke-width="0.8" stroke-linecap="round" opacity="0.35"/>
<path d="M107.5 222.8 L128.5 222.8 L113 242.5 L107.5 242.5 Z" stroke="none" stroke-width="0" fill="url(#tri3)" stroke-linejoin="round"/>
<ellipse cx="113" cy="226.5" rx="4.5" ry="3.5" transform="rotate(0 113 226.5)" stroke="none" stroke-width="0" fill="url(#blob)" opacity="1"/>
<path d="M107.8 223 C113 222.5 120 222.5 127.5 223.2" stroke="#333" stroke-width="0.6" fill="none" stroke-linejoin="round"/>
<path d="M109 229 C111 226 114 224.5 118 224.2" stroke="#222" stroke-width="0.5" fill="none" stroke-linejoin="round"/>
<path d="M108.5 236 C111 231 115 227 121 225" stroke="#555" stroke-width="0.5" fill="none" stroke-linejoin="round"/>
<path d="M121.5 240.5 C126 234 131 227 137.5 217" stroke="#555" stroke-width="0.6" fill="none" stroke-linejoin="round"/>
<path d="M118 242 C122 236 126 231 128.5 223" stroke="#777" stroke-width="0.5" fill="none" stroke-linejoin="round"/>
</g>
<g clip-path="url(#cp3)">
<path d="M108.7 300.7h0.01M104.1 299.6h0.01M98.2 284.3h0.01M121.7 289.4h0.01M114.3 289.9h0.01M114.6 288.8h0.01M104.4 288.1h0.01M114.0 284.0h0.01M98.6 286.3h0.01M110.5 290.1h0.01M113.8 285.1h0.01M112.7 290.0h0.01M112.2 300.3h0.01M114.1 280.1h0.01M99.3 294.0h0.01M110.0 285.8h0.01M101.1 287.9h0.01M112.2 285.4h0.01M109.9 296.0h0.01M119.9 293.7h0.01M111.5 280.9h0.01M119.8 300.0h0.01M124.2 297.8h0.01M115.4 292.5h0.01M112.9 298.4h0.01M119.8 287.8h0.01M113.0 279.2h0.01M106.6 288.0h0.01M134.4 284.5h0.01M121.0 290.5h0.01M110.4 294.2h0.01M95.6 296.3h0.01M129.9 292.0h0.01M112.5 291.1h0.01M118.8 286.7h0.01M114.1 293.4h0.01M109.9 292.6h0.01M115.9 294.8h0.01M104.4 286.4h0.01M109.3 298.0h0.01M115.2 278.9h0.01M116.0 281.3h0.01M105.0 291.0h0.01M125.5 300.9h0.01M109.8 288.0h0.01M129.8 283.4h0.01M126.7 292.3h0.01M113.8 298.6h0.01M117.2 284.4h0.01M99.7 290.1h0.01M117.5 299.2h0.01M118.4 300.2h0.01M120.0 291.4h0.01M116.8 292.7h0.01M107.5 289.2h0.01M114.1 287.0h0.01M100.2 280.3h0.01M117.4 293.5h0.01M113.9 282.1h0.01M120.4 287.4h0.01M94.9 300.5h0.01M117.7 287.0h0.01M125.9 299.1h0.01M115.3 278.5h0.01M109.7 288.1h0.01M117.0 289.2h0.01M116.0 279.0h0.01M107.4 299.7h0.01M100.3 296.2h0.01M133.2 294.4h0.01M100.9 298.4h0.01M96.8 292.3h0.01M109.4 298.3h0.01M123.3 291.3h0.01M128.7 296.6h0.01M108.8 283.4h0.01M134.5 287.3h0.01M116.6 289.2h0.01M108.9 279.2h0.01M111.7 289.2h0.01M121.6 286.5h0.01M99.3 282.8h0.01M112.7 291.7h0.01M119.3 287.4h0.01M117.7 291.0h0.01M127.8 289.6h0.01M114.3 293.8h0.01M123.7 283.8h0.01M108.9 288.2h0.01M94.4 298.8h0.01M122.4 290.2h0.01M142.4 298.6h0.01M130.7 300.6h0.01M120.9 280.5h0.01M126.4 292.8h0.01M102.5 290.4h0.01M119.6 296.6h0.01M114.5 286.5h0.01M119.7 284.9h0.01M112.3 295.1h0.01M100.4 292.5h0.01M95.9 283.7h0.01M102.2 289.4h0.01M119.3 289.7h0.01M121.0 290.7h0.01M111.2 293.3h0.01M110.9 290.9h0.01M122.1 286.2h0.01M123.1 282.5h0.01M111.1 278.3h0.01M108.4 300.7h0.01M116.1 298.6h0.01M100.2 283.2h0.01M117.1 295.6h0.01M120.3 278.7h0.01M117.5 289.5h0.01M114.1 293.2h0.01M110.6 278.6h0.01M103.7 280.2h0.01M101.5 289.1h0.01M124.4 285.2h0.01M106.3 282.2h0.01M97.9 290.5h0.01M108.8 288.4h0.01M104.6 293.3h0.01M102.5 293.7h0.01M107.2 295.3h0.01M105.2 293.0h0.01M116.9 289.5h0.01M127.3 291.2h0.01M105.2 294.7h0.01M105.8 286.3h0.01M113.1 291.2h0.01M127.9 278.2h0.01M110.7 297.6h0.01M111.6 292.2h0.01M126.4 281.7h0.01M113.4 295.4h0.01M107.9 278.2h0.01M104.3 291.3h0.01M124.6 279.5h0.01M122.1 296.2h0.01M127.2 289.0h0.01M108.1 291.0h0.01M126.6 294.2h0.01M127.9 295.3h0.01M107.8 283.2h0.01M129.2 279.8h0.01M109.9 287.9h0.01M105.0 286.1h0.01M112.4 286.5h0.01M114.1 296.4h0.01M105.8 287.3h0.01M97.7 294.8h0.01M119.0 300.2h0.01M120.7 288.1h0.01M109.6 287.9h0.01M102.4 295.2h0.01M107.7 285.1h0.01M117.5 290.8h0.01M107.9 288.4h0.01M108.7 299.1h0.01M121.8 285.1h0.01M112.6 299.3h0.01M116.9 294.5h0.01M94.8 295.8h0.01M116.0 293.9h0.01M117.2 293.6h0.01M108.5 296.1h0.01M113.6 282.9h0.01M104.1 291.1h0.01M115.9 275.0h0.01M94.9 297.1h0.01M99.5 288.3h0.01M107.7 293.8h0.01M125.4 300.9h0.01M104.1 298.4h0.01M102.3 292.1h0.01M114.5 294.2h0.01M106.0 299.1h0.01M112.4 289.9h0.01M110.7 282.8h0.01M119.3 292.3h0.01M105.4 288.1h0.01M113.1 295.8h0.01M111.4 296.3h0.01M117.0 278.1h0.01M107.0 276.2h0.01M110.5 287.2h0.01M118.2 291.2h0.01M112.4 298.6h0.01M118.2 281.6h0.01M106.9 292.2h0.01M128.0 288.7h0.01M111.5 291.8h0.01M119.9 289.4h0.01M115.6 287.1h0.01M108.2 284.6h0.01M118.8 286.2h0.01M117.8 292.8h0.01M121.6 271.8h0.01M104.5 281.7h0.01M111.6 295.5h0.01M135.3 300.5h0.01M124.9 292.6h0.01M109.6 293.6h0.01M93.9 296.3h0.01M113.1 294.2h0.01M104.0 282.6h0.01M107.3 289.7h0.01M116.1 287.6h0.01M116.1 294.6h0.01M102.8 289.3h0.01M99.3 286.3h0.01M121.0 285.1h0.01M129.4 293.4h0.01M120.8 290.7h0.01M120.6 297.4h0.01M113.9 286.4h0.01M111.4 286.9h0.01M106.8 278.5h0.01M108.6 292.2h0.01M108.7 284.8h0.01M116.6 293.1h0.01M109.2 292.1h0.01M104.4 295.9h0.01M104.3 287.7h0.01M114.2 287.1h0.01M126.3 278.1h0.01M114.1 281.4h0.01M115.7 281.1h0.01M118.1 293.6h0.01M128.0 298.2h0.01M109.0 296.4h0.01M109.0 289.2h0.01M108.6 278.0h0.01M118.3 276.2h0.01M110.9 293.6h0.01M114.0 279.3h0.01M107.3 294.6h0.01M122.7 300.9h0.01M97.0 293.1h0.01M108.8 295.2h0.01M98.2 289.0h0.01M119.2 285.6h0.01M109.8 283.3h0.01M122.8 281.0h0.01M105.0 287.7h0.01M115.4 284.3h0.01M118.1 292.3h0.01M115.5 289.6h0.01M117.1 282.0h0.01M102.4 287.1h0.01M103.3 294.8h0.01M130.1 298.4h0.01M116.9 292.3h0.01M107.0 281.1h0.01M117.8 279.9h0.01M115.7 289.0h0.01M119.6 290.3h0.01M113.9 286.0h0.01M97.9 287.7h0.01M119.1 297.1h0.01M125.1 283.2h0.01M104.8 294.8h0.01M115.8 279.6h0.01M108.1 300.7h0.01M97.0 291.0h0.01M100.8 300.9h0.01M109.1 283.0h0.01M98.0 285.1h0.01M132.2 290.7h0.01M110.7 282.1h0.01M116.0 286.8h0.01M105.5 299.4h0.01M116.9 283.9h0.01M126.0 289.6h0.01M117.4 291.0h0.01M123.4 294.2h0.01M109.9 294.9h0.01M109.6 290.9h0.01M127.4 282.8h0.01M103.9 287.3h0.01M108.6 298.9h0.01M126.9 286.9h0.01M114.6 287.5h0.01M118.9 294.5h0.01M119.6 295.2h0.01M130.0 288.8h0.01M119.2 288.7h0.01M113.3 291.5h0.01M112.5 292.4h0.01M105.5 289.0h0.01M107.7 282.0h0.01M106.8 286.6h0.01M111.7 279.3h0.01M110.7 282.3h0.01M105.8 291.3h0.01M122.8 292.0h0.01M108.7 287.0h0.01M124.8 278.9h0.01M123.0 279.8h0.01M107.4 290.3h0.01M117.4 289.7h0.01M121.4 290.3h0.01M105.9 297.7h0.01M126.2 298.7h0.01M109.3 295.2h0.01M98.8 283.0h0.01M123.4 293.4h0.01M110.3 270.0h0.01M116.9 288.7h0.01M113.0 291.6h0.01M119.6 288.2h0.01M105.1 287.5h0.01M94.5 282.4h0.01M130.4 285.3h0.01M122.3 290.8h0.01M119.5 288.2h0.01M105.0 296.8h0.01M114.2 301.0h0.01M110.7 287.4h0.01M116.0 288.7h0.01M110.3 283.9h0.01M115.2 292.2h0.01M129.1 289.8h0.01M97.5 293.2h0.01M133.2 287.0h0.01M105.9 288.9h0.01M111.3 279.7h0.01M118.1 284.0h0.01M96.7 285.1h0.01M124.0 291.3h0.01M108.5 288.2h0.01M121.5 286.5h0.01M116.7 296.6h0.01M105.0 286.0h0.01M117.0 290.1h0.01M111.9 286.4h0.01M125.0 279.0h0.01M113.4 290.6h0.01M113.3 280.5h0.01M111.9 291.0h0.01M107.0 292.1h0.01M113.9 292.7h0.01M111.5 286.9h0.01M114.6 297.4h0.01M120.9 289.5h0.01M108.9 297.3h0.01M117.8 296.1h0.01M110.6 284.1h0.01M114.7 285.7h0.01M123.2 295.9h0.01M93.7 294.6h0.01M124.8 297.1h0.01M108.8 284.1h0.01M121.6 296.9h0.01M113.5 282.1h0.01M99.5 291.8h0.01M105.7 285.3h0.01M116.9 297.2h0.01M94.8 285.4h0.01M124.5 289.7h0.01M110.0 294.4h0.01M102.9 281.6h0.01M113.2 300.7h0.01M122.0 290.0h0.01M121.9 287.2h0.01M102.6 278.5h0.01M115.4 296.2h0.01M116.3 289.7h0.01M109.5 297.5h0.01M112.6 280.1h0.01M125.1 285.6h0.01M116.5 290.0h0.01M122.3 291.7h0.01M123.8 291.4h0.01M108.9 286.5h0.01M118.8 284.3h0.01M121.2 288.4h0.01M104.8 284.0h0.01M119.8 290.1h0.01M110.5 290.0h0.01M109.3 299.1h0.01M114.6 286.9h0.01M114.6 283.2h0.01M103.7 288.9h0.01M130.6 282.4h0.01M111.7 279.2h0.01M114.5 291.5h0.01M119.5 280.9h0.01M107.7 285.6h0.01M111.2 289.7h0.01M108.5 295.5h0.01M135.7 298.0h0.01M126.5 282.6h0.01M122.4 290.2h0.01M124.1 297.3h0.01M118.8 278.5h0.01M114.2 286.6h0.01M117.0 290.3h0.01M122.3 279.0h0.01M106.5 289.5h0.01M115.8 287.2h0.01M112.7 290.4h0.01M122.3 289.2h0.01M115.1 277.5h0.01M116.2 274.2h0.01M116.6 289.3h0.01M113.0 285.0h0.01M109.3 295.7h0.01M116.2 289.8h0.01M108.7 291.5h0.01M123.5 289.9h0.01M109.8 281.9h0.01M113.9 283.7h0.01M100.3 296.0h0.01M107.5 276.0h0.01M112.1 280.9h0.01M103.2 294.9h0.01M116.6 291.5h0.01M111.3 293.3h0.01M126.6 293.4h0.01M111.5 280.4h0.01M116.9 300.8h0.01M118.7 281.4h0.01M114.6 298.9h0.01M107.4 293.4h0.01M98.9 278.0h0.01M116.3 294.8h0.01M109.9 289.9h0.01M109.4 298.3h0.01M93.4 291.8h0.01M101.7 285.3h0.01M99.4 283.7h0.01M112.8 290.2h0.01M128.8 288.5h0.01M116.1 292.4h0.01M115.3 300.1h0.01M114.2 291.0h0.01M112.0 290.0h0.01M112.5 296.9h0.01M113.2 290.5h0.01M112.6 295.2h0.01M108.8 296.5h0.01M107.9 294.8h0.01M130.0 291.6h0.01M112.2 281.9h0.01M119.6 290.1h0.01M121.1 285.5h0.01M116.6 287.7h0.01M101.4 289.9h0.01M118.8 294.1h0.01M103.1 282.9h0.01M104.3 283.0h0.01M110.6 291.8h0.01M130.1 291.4h0.01M125.9 278.6h0.01M126.7 295.5h0.01M116.9 295.7h0.01M120.2 278.0h0.01M112.3 299.1h0.01" stroke="#444" stroke-width="0.8" stroke-linecap="round" opacity="0.35"/>
<path d="M138.6 264.4h0.01M121.7 276.3h0.01M121.1 283.3h0.01M129.4 260.4h0.01M141.8 262.7h0.01M123.2 278.8h0.01M115.4 286.3h0.01M140.1 262.5h0.01M134.8 262.9h0.01M115.9 276.8h0.01M120.8 276.5h0.01M132.1 262.5h0.01M143.1 254.3h0.01M140.5 254.7h0.01M134.9 255.8h0.01M147.4 258.9h0.01M141.9 262.8h0.01M132.0 274.9h0.01M123.5 270.4h0.01M129.1 262.2h0.01M123.6 269.5h0.01M142.7 253.1h0.01M113.9 282.1h0.01M130.9 275.0h0.01M122.2 283.6h0.01M123.5 270.9h0.01M130.2 270.1h0.01M138.0 263.5h0.01M125.8 276.7h0.01M132.9 265.8h0.01M123.0 281.4h0.01M122.2 276.1h0.01M122.0 263.2h0.01M131.0 257.3h0.01M137.8 273.6h0.01M132.7 264.2h0.01M136.3 262.3h0.01M129.9 271.0h0.01M128.5 271.4h0.01M114.9 274.3h0.01M123.2 285.2h0.01M114.3 283.2h0.01M139.9 257.3h0.01M140.1 259.3h0.01M135.7 264.0h0.01M128.5 277.6h0.01M123.7 287.4h0.01M136.7 261.9h0.01M130.5 267.0h0.01M131.6 270.5h0.01M127.1 260.7h0.01M145.5 250.8h0.01M145.7 256.7h0.01M116.8 277.2h0.01M129.6 267.7h0.01M136.2 258.2h0.01M131.2 274.2h0.01M148.2 256.7h0.01M116.5 280.0h0.01M142.8 259.8h0.01M120.9 274.8h0.01M147.1 260.5h0.01M126.5 275.2h0.01M112.1 286.5h0.01M128.4 269.6h0.01M131.7 265.0h0.01M132.0 264.6h0.01M142.2 253.5h0.01M124.1 279.6h0.01M147.4 259.6h0.01M149.0 259.3h0.01M127.9 259.9h0.01M138.0 264.7h0.01M117.6 274.3h0.01M144.3 254.6h0.01M146.9 254.0h0.01M149.4 258.8h0.01M139.8 251.2h0.01M113.9 278.4h0.01M139.2 257.1h0.01M123.7 273.5h0.01M121.2 285.7h0.01M128.0 272.6h0.01M135.8 268.6h0.01M140.8 257.8h0.01M141.0 263.1h0.01M120.4 274.5h0.01M132.0 266.1h0.01M131.1 270.7h0.01M137.1 256.9h0.01M126.5 277.5h0.01M135.1 271.7h0.01M131.1 268.4h0.01M130.5 276.5h0.01M122.5 276.5h0.01M122.5 273.4h0.01M118.2 282.1h0.01M136.8 259.3h0.01M124.5 276.1h0.01M129.0 257.5h0.01M138.6 262.1h0.01M132.7 269.8h0.01M145.8 252.0h0.01M130.4 276.0h0.01M124.2 267.1h0.01M141.7 258.1h0.01M134.2 256.3h0.01M137.3 267.0h0.01M142.1 254.5h0.01M125.9 275.2h0.01M120.5 268.0h0.01M139.5 248.6h0.01M113.5 280.9h0.01M133.2 277.4h0.01M140.6 259.5h0.01M140.0 262.6h0.01M148.4 257.2h0.01M122.3 278.2h0.01M137.5 268.8h0.01M143.0 257.5h0.01M123.7 275.9h0.01M144.4 252.1h0.01M144.5 269.7h0.01M138.0 262.1h0.01M124.5 266.2h0.01M131.1 271.4h0.01M139.8 261.5h0.01M131.7 265.3h0.01M129.2 272.8h0.01M140.6 258.9h0.01M137.3 261.4h0.01M117.8 275.1h0.01M130.0 262.4h0.01M122.8 274.2h0.01M130.4 267.9h0.01M132.2 261.1h0.01M128.7 269.4h0.01M141.4 274.0h0.01M143.9 251.0h0.01M142.2 261.7h0.01M132.3 257.1h0.01M128.5 269.1h0.01M142.4 255.2h0.01M129.3 270.1h0.01M142.4 249.7h0.01M135.5 263.5h0.01M126.8 266.0h0.01M132.8 268.9h0.01M133.0 268.5h0.01M148.2 252.5h0.01M136.4 267.8h0.01M110.2 279.5h0.01M138.8 260.0h0.01M134.2 264.0h0.01M128.3 261.2h0.01M144.6 253.8h0.01M137.9 252.4h0.01M127.8 283.5h0.01M118.3 272.2h0.01M122.9 274.7h0.01M134.7 261.7h0.01M148.1 256.2h0.01M147.7 254.6h0.01M137.7 258.0h0.01M135.6 259.7h0.01M124.5 278.2h0.01M138.2 269.4h0.01M123.1 281.5h0.01M123.9 278.4h0.01M132.7 265.7h0.01M132.8 263.5h0.01M145.9 256.2h0.01M133.8 268.4h0.01M134.5 261.7h0.01M121.8 279.2h0.01M122.1 281.5h0.01M136.8 259.5h0.01M126.9 268.7h0.01M147.4 253.5h0.01M130.7 269.6h0.01M117.5 277.3h0.01M144.5 256.4h0.01M124.3 271.2h0.01M132.8 263.9h0.01M121.8 274.0h0.01M137.1 255.5h0.01M122.3 280.7h0.01M125.9 281.5h0.01M130.7 269.5h0.01M126.3 276.2h0.01M135.8 258.7h0.01M140.4 252.3h0.01M133.8 259.0h0.01M114.4 286.3h0.01M128.1 268.7h0.01M143.8 254.3h0.01M126.1 269.8h0.01M128.5 279.7h0.01M143.1 262.9h0.01M126.2 289.2h0.01M140.1 250.3h0.01M129.1 269.1h0.01M134.1 266.5h0.01M136.8 250.5h0.01M124.0 271.1h0.01M144.4 261.0h0.01M133.9 265.7h0.01M125.3 265.4h0.01M125.4 278.6h0.01M142.7 262.0h0.01M124.4 284.1h0.01M136.3 269.0h0.01M142.3 255.1h0.01M129.4 268.5h0.01M141.2 252.0h0.01M130.1 281.5h0.01M139.3 258.9h0.01M134.9 265.3h0.01M142.8 262.9h0.01M120.9 281.8h0.01M128.3 253.1h0.01M137.2 260.8h0.01M138.9 251.9h0.01M121.6 276.7h0.01M123.2 275.9h0.01M136.6 269.5h0.01M121.2 271.3h0.01M142.5 258.2h0.01M131.7 265.2h0.01M143.2 250.2h0.01M134.7 267.9h0.01M142.6 257.9h0.01M142.2 254.2h0.01M126.0 271.8h0.01M129.8 259.1h0.01M123.4 281.4h0.01M121.9 277.4h0.01M144.8 255.9h0.01M138.8 254.2h0.01M126.7 259.7h0.01" stroke="#555" stroke-width="0.8" stroke-linecap="round" opacity="0.3"/>
<path d="M121.9 274.3h0.01M119.3 266.9h0.01M132.3 249.5h0.01M132.5 296.9h0.01M136.4 274.5h0.01M113.1 248.7h0.01M98.3 274.3h0.01M143.2 293.2h0.01M103.5 286.5h0.01M139.0 270.8h0.01M141.9 253.8h0.01M112.1 272.8h0.01M134.4 269.0h0.01M110.2 293.3h0.01M115.3 267.3h0.01M105.7 271.0h0.01M133.3 264.0h0.01M130.7 271.6h0.01M93.7 298.8h0.01M109.4 274.7h0.01M147.7 255.0h0.01M96.6 254.9h0.01M101.7 292.4h0.01M122.5 245.4h0.01M108.5 272.6h0.01M102.9 260.8h0.01M144.6 268.8h0.01M106.3 277.7h0.01M99.4 273.2h0.01M129.9 248.1h0.01M124.3 260.9h0.01M135.4 278.7h0.01M144.8 278.2h0.01M103.4 253.8h0.01M133.1 290.0h0.01M96.6 267.2h0.01M109.1 270.1h0.01M142.7 275.5h0.01M135.4 287.4h0.01M108.8 278.9h0.01M114.4 270.5h0.01M123.2 281.7h0.01M102.6 291.6h0.01M102.2 261.2h0.01M141.4 300.1h0.01M113.9 298.2h0.01M95.1 298.4h0.01M104.5 245.0h0.01M136.4 252.4h0.01M135.9 243.4h0.01M100.1 263.7h0.01M97.8 270.3h0.01M112.7 285.8h0.01M121.1 299.0h0.01M141.1 252.9h0.01M145.3 294.9h0.01M125.2 273.6h0.01M102.7 261.6h0.01M105.5 254.4h0.01M128.0 261.8h0.01M136.8 276.2h0.01M140.2 248.1h0.01M141.3 272.4h0.01M129.0 256.8h0.01M132.7 266.6h0.01M134.1 276.9h0.01M101.0 260.4h0.01M135.9 243.9h0.01M129.0 274.6h0.01M133.7 262.1h0.01M120.2 270.7h0.01M135.7 247.2h0.01M122.1 258.1h0.01M126.6 258.0h0.01M104.8 256.4h0.01M144.0 264.1h0.01M143.2 285.7h0.01M108.3 275.1h0.01M93.5 297.1h0.01M129.0 249.5h0.01M122.6 271.7h0.01M131.2 259.8h0.01M144.9 279.1h0.01M97.1 290.5h0.01M143.4 260.7h0.01M133.5 292.9h0.01M143.3 247.1h0.01M140.7 257.4h0.01M138.7 282.8h0.01M119.5 295.3h0.01M138.8 300.7h0.01M147.6 276.2h0.01M134.9 281.9h0.01M115.8 271.9h0.01M121.9 255.5h0.01M107.9 292.0h0.01M141.2 283.4h0.01M132.2 272.6h0.01M125.7 281.7h0.01M93.4 268.7h0.01" stroke="#666" stroke-width="0.8" stroke-linecap="round" opacity="0.3"/>
<ellipse cx="115.5" cy="287" rx="8.5" ry="9" transform="rotate(0 115.5 287)" stroke="none" stroke-width="0" fill="url(#blob)" opacity="1"/>
<ellipse cx="116" cy="288.5" rx="9.600000000000001" ry="12" transform="rotate(0 116 288.5)" stroke="#333" stroke-width="0.5" fill="none" opacity="0.45"/>
<ellipse cx="116" cy="288.5" rx="7.6000000000000005" ry="9.5" transform="rotate(0 116 288.5)" stroke="#333" stroke-width="0.5" fill="none" opacity="0.6"/>
<ellipse cx="116" cy="288.5" rx="6.0" ry="7.5" transform="rotate(0 116 288.5)" stroke="#333" stroke-width="0.5" fill="none" opacity="0.75"/>
<ellipse cx="116" cy="288.5" rx="4.4" ry="5.5" transform="rotate(0 116 288.5)" stroke="#333" stroke-width="0.5" fill="none" opacity="0.85"/>
<ellipse cx="116" cy="288.5" rx="2.8000000000000003" ry="3.5" transform="rotate(0 116 288.5)" stroke="#333" stroke-width="0.5" fill="none" opacity="0.9"/>
<ellipse cx="117" cy="286" rx="1.6" ry="2.2" transform="rotate(0 117 286)" stroke="#ddd" stroke-width="0" fill="#ddd" opacity="0.85"/>
<path d="M108 281 C111 279.5 116 279 121 280.5" stroke="#222" stroke-width="0.9" fill="none" stroke-linejoin="round"/>
<line x1="104" y1="300" x2="122" y2="300" stroke="#111" stroke-width="1.4"/>
<ellipse cx="127" cy="259" rx="9" ry="3.5" transform="rotate(-5 127 259)" stroke="#555" stroke-width="0.5" fill="none" opacity="1"/>
<ellipse cx="127" cy="259" rx="5" ry="1.8" transform="rotate(-5 127 259)" stroke="#555" stroke-width="0.5" fill="none" opacity="1"/>
<path d="M136 264 C140 260 142 254 145 250 M141 264 C145 260 146 255 148 252" stroke="#555" stroke-width="0.5" fill="none" stroke-linejoin="round"/>
<ellipse cx="146" cy="258" rx="2" ry="5" transform="rotate(10 146 258)" stroke="#555" stroke-width="0.5" fill="none" opacity="1"/>
<ellipse cx="127" cy="273" rx="9" ry="4" transform="rotate(-20 127 273)" stroke="#666" stroke-width="0.45" fill="none" opacity="1"/>
<path d="M119 280 C126 278 134 274 139 268" stroke="#777" stroke-width="0.45" fill="none" stroke-linejoin="round"/>
</g>
<rect x="118.2" y="73.4" width="31.89999999999999" height="19.799999999999997" fill="none" stroke="#78a85c" stroke-width="0.85"/>
<rect x="117.2" y="93.4" width="25.499999999999986" height="13.799999999999997" fill="none" stroke="#6670ee" stroke-width="0.85"/>
<rect x="107.1" y="107.2" width="23.400000000000006" height="19.599999999999994" fill="none" stroke="#f06660" stroke-width="0.85"/>
<rect x="108.3" y="133.2" width="41.3" height="18.600000000000023" fill="none" stroke="#78a85c" stroke-width="0.85"/>
<rect x="112.1" y="152.2" width="26.700000000000017" height="11.700000000000017" fill="none" stroke="#6670ee" stroke-width="0.85"/>
<rect x="106.8" y="164.5" width="23.700000000000003" height="19.900000000000006" fill="none" stroke="#f06660" stroke-width="0.85"/>
<rect x="117.4" y="189.5" width="32.19999999999999" height="19.900000000000006" fill="none" stroke="#78a85c" stroke-width="0.85"/>
<rect x="116.2" y="209.4" width="26.60000000000001" height="13.799999999999983" fill="none" stroke="#6670ee" stroke-width="0.85"/>
<rect x="106.4" y="222.5" width="23.5" height="19.5" fill="none" stroke="#f06660" stroke-width="0.85"/>
<rect x="116.4" y="247.1" width="33.19999999999999" height="19.400000000000006" fill="none" stroke="#78a85c" stroke-width="0.85"/>
<rect x="116.4" y="266.7" width="25.900000000000006" height="13.800000000000011" fill="none" stroke="#6670ee" stroke-width="0.85"/>
<rect x="106.3" y="280.3" width="23.39999999999999" height="20.099999999999966" fill="none" stroke="#f06660" stroke-width="0.85"/>
<text x="93.9" y="80.5" font-size="8.8" fill="#5b8f3c" text-anchor="start" textLength="12.3" lengthAdjust="spacingAndGlyphs" stroke="#5b8f3c" stroke-width="0.2">5.6</text>
<text x="93.9" y="97" font-size="8.8" fill="#5d63ea" text-anchor="start" textLength="12.3" lengthAdjust="spacingAndGlyphs" stroke="#5d63ea" stroke-width="0.2">3.8</text>
<text x="131.8" y="120.5" font-size="8.8" fill="#ec4a44" text-anchor="start" textLength="18.2" lengthAdjust="spacingAndGlyphs" stroke="#ec4a44" stroke-width="0.2">83.9</text>
<text x="93.7" y="138.5" font-size="8.8" fill="#5b8f3c" text-anchor="start" textLength="17.8" lengthAdjust="spacingAndGlyphs" stroke="#5b8f3c" stroke-width="0.2">61.7</text>
<text x="94.3" y="160.1" font-size="8.8" fill="#5d63ea" text-anchor="start" textLength="17.2" lengthAdjust="spacingAndGlyphs" stroke="#5d63ea" stroke-width="0.2">13.0</text>
<text x="131.8" y="179.1" font-size="8.8" fill="#ec4a44" text-anchor="start" textLength="18.4" lengthAdjust="spacingAndGlyphs" stroke="#ec4a44" stroke-width="0.2">21.8</text>
<text x="96.6" y="196.5" font-size="8.8" fill="#5b8f3c" text-anchor="start" textLength="11.4" lengthAdjust="spacingAndGlyphs" stroke="#5b8f3c" stroke-width="0.2">1.2</text>
<text x="96.6" y="218.7" font-size="8.8" fill="#5d63ea" text-anchor="start" textLength="12.4" lengthAdjust="spacingAndGlyphs" stroke="#5d63ea" stroke-width="0.2">3.0</text>
<text x="131.8" y="235.8" font-size="8.8" fill="#ec4a44" text-anchor="start" textLength="16.9" lengthAdjust="spacingAndGlyphs" stroke="#ec4a44" stroke-width="0.2">94.1</text>
<text x="96.2" y="255.0" font-size="8.8" fill="#5b8f3c" text-anchor="start" textLength="11.9" lengthAdjust="spacingAndGlyphs" stroke="#5b8f3c" stroke-width="0.2">9.1</text>
<text x="96.6" y="277.2" font-size="8.8" fill="#5d63ea" text-anchor="start" textLength="12" lengthAdjust="spacingAndGlyphs" stroke="#5d63ea" stroke-width="0.2">5.9</text>
<text x="131.8" y="294.5" font-size="8.8" fill="#ec4a44" text-anchor="start" textLength="17.1" lengthAdjust="spacingAndGlyphs" stroke="#ec4a44" stroke-width="0.2">81.7</text>
<text x="119.7" y="81.8" font-size="7.5" fill="#111" text-anchor="start" textLength="4.5" lengthAdjust="spacingAndGlyphs" stroke="#111" stroke-width="0.18" font-weight="bold">3</text>
<text x="135.6" y="105.2" font-size="7.5" fill="#111" text-anchor="start" textLength="4.4" lengthAdjust="spacingAndGlyphs" stroke="#111" stroke-width="0.18" font-weight="bold">2</text>
<text x="124.8" y="123.7" font-size="7.5" fill="#111" text-anchor="start" textLength="3.6" lengthAdjust="spacingAndGlyphs" stroke="#111" stroke-width="0.18" font-weight="bold">1</text>
<rect x="92.3" y="69.2" width="57.7" height="231.2" fill="none" stroke="#111" stroke-width="1.2"/>
<line x1="92.3" y1="126.8" x2="150.0" y2="126.8" stroke="#111" stroke-width="1.2"/>
<line x1="92.3" y1="184.4" x2="150.0" y2="184.4" stroke="#111" stroke-width="1.2"/>
<line x1="92.3" y1="242.0" x2="150.0" y2="242.0" stroke="#111" stroke-width="1.2"/>
<line x1="89.7" y1="75.7" x2="92.3" y2="75.7" stroke="#111" stroke-width="0.9"/>
<text x="84.19999999999999" y="78.60000000000001" font-size="6.6" fill="#231f20" text-anchor="end" textLength="6.3" lengthAdjust="spacingAndGlyphs" stroke="#231f20" stroke-width="0.25">10</text>
<text x="84.19999999999999" y="75.60000000000001" font-size="4.1" fill="#231f20" stroke="#231f20" stroke-width="0.18">5</text>
<line x1="89.7" y1="88.7" x2="92.3" y2="88.7" stroke="#111" stroke-width="0.9"/>
<text x="84.19999999999999" y="91.60000000000001" font-size="6.6" fill="#231f20" text-anchor="end" textLength="6.3" lengthAdjust="spacingAndGlyphs" stroke="#231f20" stroke-width="0.25">10</text>
<text x="84.19999999999999" y="88.60000000000001" font-size="4.1" fill="#231f20" stroke="#231f20" stroke-width="0.18">4</text>
<line x1="89.7" y1="102.2" x2="92.3" y2="102.2" stroke="#111" stroke-width="0.9"/>
<text x="84.19999999999999" y="105.10000000000001" font-size="6.6" fill="#231f20" text-anchor="end" textLength="6.3" lengthAdjust="spacingAndGlyphs" stroke="#231f20" stroke-width="0.25">10</text>
<text x="84.19999999999999" y="102.10000000000001" font-size="4.1" fill="#231f20" stroke="#231f20" stroke-width="0.18">3</text>
<line x1="89.7" y1="116.2" x2="92.3" y2="116.2" stroke="#111" stroke-width="0.9"/>
<text x="84.19999999999999" y="119.10000000000001" font-size="6.6" fill="#231f20" text-anchor="end" textLength="6.3" lengthAdjust="spacingAndGlyphs" stroke="#231f20" stroke-width="0.25">10</text>
<text x="84.19999999999999" y="116.10000000000001" font-size="4.1" fill="#231f20" stroke="#231f20" stroke-width="0.18">2</text>
<line x1="89.7" y1="121.5" x2="92.3" y2="121.5" stroke="#111" stroke-width="0.9"/>
<text x="85.6" y="124.1" font-size="6.6" fill="#231f20" text-anchor="end" stroke="#231f20" stroke-width="0.25">0</text>
<line x1="90.89999999999999" y1="79.2" x2="92.3" y2="79.2" stroke="#222" stroke-width="0.6"/>
<line x1="90.89999999999999" y1="82.7" x2="92.3" y2="82.7" stroke="#222" stroke-width="0.6"/>
<line x1="90.89999999999999" y1="84.7" x2="92.3" y2="84.7" stroke="#222" stroke-width="0.6"/>
<line x1="90.89999999999999" y1="86.7" x2="92.3" y2="86.7" stroke="#222" stroke-width="0.6"/>
<line x1="90.89999999999999" y1="92.2" x2="92.3" y2="92.2" stroke="#222" stroke-width="0.6"/>
<line x1="90.89999999999999" y1="95.7" x2="92.3" y2="95.7" stroke="#222" stroke-width="0.6"/>
<line x1="90.89999999999999" y1="97.7" x2="92.3" y2="97.7" stroke="#222" stroke-width="0.6"/>
<line x1="90.89999999999999" y1="99.7" x2="92.3" y2="99.7" stroke="#222" stroke-width="0.6"/>
<line x1="90.89999999999999" y1="105.2" x2="92.3" y2="105.2" stroke="#222" stroke-width="0.6"/>
<line x1="90.89999999999999" y1="108.7" x2="92.3" y2="108.7" stroke="#222" stroke-width="0.6"/>
<line x1="90.89999999999999" y1="110.7" x2="92.3" y2="110.7" stroke="#222" stroke-width="0.6"/>
<line x1="90.89999999999999" y1="112.7" x2="92.3" y2="112.7" stroke="#222" stroke-width="0.6"/>
<line x1="90.89999999999999" y1="118.9" x2="92.3" y2="118.9" stroke="#222" stroke-width="0.6"/>
<line x1="90.89999999999999" y1="124.0" x2="92.3" y2="124.0" stroke="#222" stroke-width="0.6"/>
<line x1="89.7" y1="133.3" x2="92.3" y2="133.3" stroke="#111" stroke-width="0.9"/>
<text x="84.19999999999999" y="136.20000000000002" font-size="6.6" fill="#231f20" text-anchor="end" textLength="6.3" lengthAdjust="spacingAndGlyphs" stroke="#231f20" stroke-width="0.25">10</text>
<text x="84.19999999999999" y="133.20000000000002" font-size="4.1" fill="#231f20" stroke="#231f20" stroke-width="0.18">5</text>
<line x1="89.7" y1="146.3" x2="92.3" y2="146.3" stroke="#111" stroke-width="0.9"/>
<text x="84.19999999999999" y="149.20000000000002" font-size="6.6" fill="#231f20" text-anchor="end" textLength="6.3" lengthAdjust="spacingAndGlyphs" stroke="#231f20" stroke-width="0.25">10</text>
<text x="84.19999999999999" y="146.20000000000002" font-size="4.1" fill="#231f20" stroke="#231f20" stroke-width="0.18">4</text>
<line x1="89.7" y1="159.8" x2="92.3" y2="159.8" stroke="#111" stroke-width="0.9"/>
<text x="84.19999999999999" y="162.70000000000002" font-size="6.6" fill="#231f20" text-anchor="end" textLength="6.3" lengthAdjust="spacingAndGlyphs" stroke="#231f20" stroke-width="0.25">10</text>
<text x="84.19999999999999" y="159.70000000000002" font-size="4.1" fill="#231f20" stroke="#231f20" stroke-width="0.18">3</text>
<line x1="89.7" y1="173.8" x2="92.3" y2="173.8" stroke="#111" stroke-width="0.9"/>
<text x="84.19999999999999" y="176.70000000000002" font-size="6.6" fill="#231f20" text-anchor="end" textLength="6.3" lengthAdjust="spacingAndGlyphs" stroke="#231f20" stroke-width="0.25">10</text>
<text x="84.19999999999999" y="173.70000000000002" font-size="4.1" fill="#231f20" stroke="#231f20" stroke-width="0.18">2</text>
<line x1="89.7" y1="179.1" x2="92.3" y2="179.1" stroke="#111" stroke-width="0.9"/>
<text x="85.6" y="181.7" font-size="6.6" fill="#231f20" text-anchor="end" stroke="#231f20" stroke-width="0.25">0</text>
<line x1="90.89999999999999" y1="136.8" x2="92.3" y2="136.8" stroke="#222" stroke-width="0.6"/>
<line x1="90.89999999999999" y1="140.3" x2="92.3" y2="140.3" stroke="#222" stroke-width="0.6"/>
<line x1="90.89999999999999" y1="142.3" x2="92.3" y2="142.3" stroke="#222" stroke-width="0.6"/>
<line x1="90.89999999999999" y1="144.3" x2="92.3" y2="144.3" stroke="#222" stroke-width="0.6"/>
<line x1="90.89999999999999" y1="149.8" x2="92.3" y2="149.8" stroke="#222" stroke-width="0.6"/>
<line x1="90.89999999999999" y1="153.3" x2="92.3" y2="153.3" stroke="#222" stroke-width="0.6"/>
<line x1="90.89999999999999" y1="155.3" x2="92.3" y2="155.3" stroke="#222" stroke-width="0.6"/>
<line x1="90.89999999999999" y1="157.3" x2="92.3" y2="157.3" stroke="#222" stroke-width="0.6"/>
<line x1="90.89999999999999" y1="162.8" x2="92.3" y2="162.8" stroke="#222" stroke-width="0.6"/>
<line x1="90.89999999999999" y1="166.3" x2="92.3" y2="166.3" stroke="#222" stroke-width="0.6"/>
<line x1="90.89999999999999" y1="168.3" x2="92.3" y2="168.3" stroke="#222" stroke-width="0.6"/>
<line x1="90.89999999999999" y1="170.3" x2="92.3" y2="170.3" stroke="#222" stroke-width="0.6"/>
<line x1="90.89999999999999" y1="176.5" x2="92.3" y2="176.5" stroke="#222" stroke-width="0.6"/>
<line x1="90.89999999999999" y1="181.6" x2="92.3" y2="181.6" stroke="#222" stroke-width="0.6"/>
<line x1="89.7" y1="190.9" x2="92.3" y2="190.9" stroke="#111" stroke-width="0.9"/>
<text x="84.19999999999999" y="193.8" font-size="6.6" fill="#231f20" text-anchor="end" textLength="6.3" lengthAdjust="spacingAndGlyphs" stroke="#231f20" stroke-width="0.25">10</text>
<text x="84.19999999999999" y="190.8" font-size="4.1" fill="#231f20" stroke="#231f20" stroke-width="0.18">5</text>
<line x1="89.7" y1="203.9" x2="92.3" y2="203.9" stroke="#111" stroke-width="0.9"/>
<text x="84.19999999999999" y="206.8" font-size="6.6" fill="#231f20" text-anchor="end" textLength="6.3" lengthAdjust="spacingAndGlyphs" stroke="#231f20" stroke-width="0.25">10</text>
<text x="84.19999999999999" y="203.8" font-size="4.1" fill="#231f20" stroke="#231f20" stroke-width="0.18">4</text>
<line x1="89.7" y1="217.4" x2="92.3" y2="217.4" stroke="#111" stroke-width="0.9"/>
<text x="84.19999999999999" y="220.3" font-size="6.6" fill="#231f20" text-anchor="end" textLength="6.3" lengthAdjust="spacingAndGlyphs" stroke="#231f20" stroke-width="0.25">10</text>
<text x="84.19999999999999" y="217.3" font-size="4.1" fill="#231f20" stroke="#231f20" stroke-width="0.18">3</text>
<line x1="89.7" y1="231.4" x2="92.3" y2="231.4" stroke="#111" stroke-width="0.9"/>
<text x="84.19999999999999" y="234.3" font-size="6.6" fill="#231f20" text-anchor="end" textLength="6.3" lengthAdjust="spacingAndGlyphs" stroke="#231f20" stroke-width="0.25">10</text>
<text x="84.19999999999999" y="231.3" font-size="4.1" fill="#231f20" stroke="#231f20" stroke-width="0.18">2</text>
<line x1="89.7" y1="236.7" x2="92.3" y2="236.7" stroke="#111" stroke-width="0.9"/>
<text x="85.6" y="239.29999999999998" font-size="6.6" fill="#231f20" text-anchor="end" stroke="#231f20" stroke-width="0.25">0</text>
<line x1="90.89999999999999" y1="194.4" x2="92.3" y2="194.4" stroke="#222" stroke-width="0.6"/>
<line x1="90.89999999999999" y1="197.9" x2="92.3" y2="197.9" stroke="#222" stroke-width="0.6"/>
<line x1="90.89999999999999" y1="199.9" x2="92.3" y2="199.9" stroke="#222" stroke-width="0.6"/>
<line x1="90.89999999999999" y1="201.9" x2="92.3" y2="201.9" stroke="#222" stroke-width="0.6"/>
<line x1="90.89999999999999" y1="207.4" x2="92.3" y2="207.4" stroke="#222" stroke-width="0.6"/>
<line x1="90.89999999999999" y1="210.9" x2="92.3" y2="210.9" stroke="#222" stroke-width="0.6"/>
<line x1="90.89999999999999" y1="212.9" x2="92.3" y2="212.9" stroke="#222" stroke-width="0.6"/>
<line x1="90.89999999999999" y1="214.9" x2="92.3" y2="214.9" stroke="#222" stroke-width="0.6"/>
<line x1="90.89999999999999" y1="220.4" x2="92.3" y2="220.4" stroke="#222" stroke-width="0.6"/>
<line x1="90.89999999999999" y1="223.9" x2="92.3" y2="223.9" stroke="#222" stroke-width="0.6"/>
<line x1="90.89999999999999" y1="225.9" x2="92.3" y2="225.9" stroke="#222" stroke-width="0.6"/>
<line x1="90.89999999999999" y1="227.9" x2="92.3" y2="227.9" stroke="#222" stroke-width="0.6"/>
<line x1="90.89999999999999" y1="234.10000000000002" x2="92.3" y2="234.10000000000002" stroke="#222" stroke-width="0.6"/>
<line x1="90.89999999999999" y1="239.2" x2="92.3" y2="239.2" stroke="#222" stroke-width="0.6"/>
<line x1="89.7" y1="248.5" x2="92.3" y2="248.5" stroke="#111" stroke-width="0.9"/>
<text x="84.19999999999999" y="251.4" font-size="6.6" fill="#231f20" text-anchor="end" textLength="6.3" lengthAdjust="spacingAndGlyphs" stroke="#231f20" stroke-width="0.25">10</text>
<text x="84.19999999999999" y="248.4" font-size="4.1" fill="#231f20" stroke="#231f20" stroke-width="0.18">5</text>
<line x1="89.7" y1="261.5" x2="92.3" y2="261.5" stroke="#111" stroke-width="0.9"/>
<text x="84.19999999999999" y="264.4" font-size="6.6" fill="#231f20" text-anchor="end" textLength="6.3" lengthAdjust="spacingAndGlyphs" stroke="#231f20" stroke-width="0.25">10</text>
<text x="84.19999999999999" y="261.4" font-size="4.1" fill="#231f20" stroke="#231f20" stroke-width="0.18">4</text>
<line x1="89.7" y1="275.0" x2="92.3" y2="275.0" stroke="#111" stroke-width="0.9"/>
<text x="84.19999999999999" y="277.9" font-size="6.6" fill="#231f20" text-anchor="end" textLength="6.3" lengthAdjust="spacingAndGlyphs" stroke="#231f20" stroke-width="0.25">10</text>
<text x="84.19999999999999" y="274.9" font-size="4.1" fill="#231f20" stroke="#231f20" stroke-width="0.18">3</text>
<line x1="89.7" y1="289.0" x2="92.3" y2="289.0" stroke="#111" stroke-width="0.9"/>
<text x="84.19999999999999" y="291.9" font-size="6.6" fill="#231f20" text-anchor="end" textLength="6.3" lengthAdjust="spacingAndGlyphs" stroke="#231f20" stroke-width="0.25">10</text>
<text x="84.19999999999999" y="288.9" font-size="4.1" fill="#231f20" stroke="#231f20" stroke-width="0.18">2</text>
<line x1="89.7" y1="294.3" x2="92.3" y2="294.3" stroke="#111" stroke-width="0.9"/>
<text x="85.6" y="296.90000000000003" font-size="6.6" fill="#231f20" text-anchor="end" stroke="#231f20" stroke-width="0.25">0</text>
<line x1="90.89999999999999" y1="252.0" x2="92.3" y2="252.0" stroke="#222" stroke-width="0.6"/>
<line x1="90.89999999999999" y1="255.5" x2="92.3" y2="255.5" stroke="#222" stroke-width="0.6"/>
<line x1="90.89999999999999" y1="257.5" x2="92.3" y2="257.5" stroke="#222" stroke-width="0.6"/>
<line x1="90.89999999999999" y1="259.5" x2="92.3" y2="259.5" stroke="#222" stroke-width="0.6"/>
<line x1="90.89999999999999" y1="265.0" x2="92.3" y2="265.0" stroke="#222" stroke-width="0.6"/>
<line x1="90.89999999999999" y1="268.5" x2="92.3" y2="268.5" stroke="#222" stroke-width="0.6"/>
<line x1="90.89999999999999" y1="270.5" x2="92.3" y2="270.5" stroke="#222" stroke-width="0.6"/>
<line x1="90.89999999999999" y1="272.5" x2="92.3" y2="272.5" stroke="#222" stroke-width="0.6"/>
<line x1="90.89999999999999" y1="278.0" x2="92.3" y2="278.0" stroke="#222" stroke-width="0.6"/>
<line x1="90.89999999999999" y1="281.5" x2="92.3" y2="281.5" stroke="#222" stroke-width="0.6"/>
<line x1="90.89999999999999" y1="283.5" x2="92.3" y2="283.5" stroke="#222" stroke-width="0.6"/>
<line x1="90.89999999999999" y1="285.5" x2="92.3" y2="285.5" stroke="#222" stroke-width="0.6"/>
<line x1="90.89999999999999" y1="291.7" x2="92.3" y2="291.7" stroke="#222" stroke-width="0.6"/>
<line x1="90.89999999999999" y1="296.8" x2="92.3" y2="296.8" stroke="#222" stroke-width="0.6"/>
<line x1="97.7" y1="300.4" x2="97.7" y2="302.59999999999997" stroke="#111" stroke-width="0.9"/>
<line x1="106.4" y1="300.4" x2="106.4" y2="302.59999999999997" stroke="#111" stroke-width="0.9"/>
<line x1="118.7" y1="300.4" x2="118.7" y2="302.59999999999997" stroke="#111" stroke-width="0.9"/>
<line x1="132.8" y1="300.4" x2="132.8" y2="302.59999999999997" stroke="#111" stroke-width="0.9"/>
<line x1="145" y1="300.4" x2="145" y2="302.59999999999997" stroke="#111" stroke-width="0.9"/>
<line x1="100" y1="300.4" x2="100" y2="301.7" stroke="#222" stroke-width="0.6"/>
<line x1="102" y1="300.4" x2="102" y2="301.7" stroke="#222" stroke-width="0.6"/>
<line x1="110" y1="300.4" x2="110" y2="301.7" stroke="#222" stroke-width="0.6"/>
<line x1="112" y1="300.4" x2="112" y2="301.7" stroke="#222" stroke-width="0.6"/>
<line x1="114" y1="300.4" x2="114" y2="301.7" stroke="#222" stroke-width="0.6"/>
<line x1="121" y1="300.4" x2="121" y2="301.7" stroke="#222" stroke-width="0.6"/>
<line x1="124" y1="300.4" x2="124" y2="301.7" stroke="#222" stroke-width="0.6"/>
<line x1="126" y1="300.4" x2="126" y2="301.7" stroke="#222" stroke-width="0.6"/>
<line x1="128" y1="300.4" x2="128" y2="301.7" stroke="#222" stroke-width="0.6"/>
<line x1="130" y1="300.4" x2="130" y2="301.7" stroke="#222" stroke-width="0.6"/>
<line x1="136" y1="300.4" x2="136" y2="301.7" stroke="#222" stroke-width="0.6"/>
<line x1="138" y1="300.4" x2="138" y2="301.7" stroke="#222" stroke-width="0.6"/>
<line x1="140" y1="300.4" x2="140" y2="301.7" stroke="#222" stroke-width="0.6"/>
<line x1="142" y1="300.4" x2="142" y2="301.7" stroke="#222" stroke-width="0.6"/>
<line x1="148" y1="300.4" x2="148" y2="301.7" stroke="#222" stroke-width="0.6"/>
<text x="98.8" y="312.8" font-size="6.9" fill="#231f20" text-anchor="end" textLength="2.9" lengthAdjust="spacingAndGlyphs" stroke="#231f20" stroke-width="0.25">0</text>
<text x="102.5" y="312.8" font-size="6.9" fill="#231f20" textLength="5.9" lengthAdjust="spacingAndGlyphs" stroke="#231f20" stroke-width="0.25">10</text>
<text x="108.6" y="309.4" font-size="4.2" fill="#231f20" stroke="#231f20" stroke-width="0.18">2</text>
<text x="114.7" y="312.8" font-size="6.9" fill="#231f20" textLength="5.9" lengthAdjust="spacingAndGlyphs" stroke="#231f20" stroke-width="0.25">10</text>
<text x="120.8" y="309.4" font-size="4.2" fill="#231f20" stroke="#231f20" stroke-width="0.18">3</text>
<text x="128.2" y="312.8" font-size="6.9" fill="#231f20" textLength="5.9" lengthAdjust="spacingAndGlyphs" stroke="#231f20" stroke-width="0.25">10</text>
<text x="134.29999999999998" y="309.4" font-size="4.2" fill="#231f20" stroke="#231f20" stroke-width="0.18">4</text>
<text x="140.8" y="312.8" font-size="6.9" fill="#231f20" textLength="5.9" lengthAdjust="spacingAndGlyphs" stroke="#231f20" stroke-width="0.25">10</text>
<text x="146.9" y="309.4" font-size="4.2" fill="#231f20" stroke="#231f20" stroke-width="0.18">5</text>
<text x="99.7" y="326.5" font-size="10.4" fill="#231f20" text-anchor="start" textLength="43.4" lengthAdjust="spacingAndGlyphs" stroke="#231f20" stroke-width="0.18">Annexin V</text>
<text x="215.8" y="45.1" font-size="8.3" fill="#231f20" text-anchor="start" textLength="116.2" lengthAdjust="spacingAndGlyphs" stroke="#231f20" stroke-width="0.18">Expression of DAMPS on gated</text>
<text x="209" y="56" font-size="8.5" fill="#231f20" text-anchor="start" textLength="129.8" lengthAdjust="spacingAndGlyphs" stroke="#231f20" stroke-width="0.18">lymphoma cells in boxes 1,2,3 of A</text>
<line x1="173.6" y1="63.4" x2="373.2" y2="63.4" stroke="#231f20" stroke-width="1.1"/>
<clipPath id="hc0"><rect x="172.5" y="68.7" width="57.900000000000006" height="232.10000000000002"/></clipPath>
<g clip-path="url(#hc0)">
<path d="M172.71 126.77 L173.51 126.75 L174.31 126.73 L175.11 126.71 L175.91 126.69 L176.71 126.67 L177.51 126.65 L178.31 126.63 L179.11 126.61 L179.91 126.58 L180.71 126.56 L181.51 126.54 L182.31 126.52 L183.23 126.28 L184.15 126.03 L185.08 125.78 L186.00 125.54 L186.82 125.63 L187.64 125.07 L188.46 124.92 L189.69 124.55 L190.92 125.54 L191.74 125.57 L192.56 125.95 L193.38 126.15 L194.21 126.15 L195.03 126.15 L195.85 126.15 L196.77 125.58 L197.69 124.92 L198.62 124.59 L199.54 124.31 L200.46 124.53 L201.38 123.08 L201.79 123.05 L202.21 121.60 L202.62 120.62 L202.83 119.96 L203.05 117.90 L203.26 117.80 L203.48 116.92 L203.67 117.10 L203.87 114.86 L204.07 114.69 L204.26 114.01 L204.46 112.62 L204.77 111.52 L205.08 110.68 L205.38 109.65 L205.69 108.92 L206.10 108.25 L206.51 106.88 L206.92 105.85 L207.33 105.48 L207.74 104.31 L208.15 102.77 L208.65 101.73 L209.14 100.68 L209.88 99.69 L210.62 100.92 L210.94 103.08 L211.27 102.85 L211.60 104.00 L211.80 104.60 L211.99 105.63 L212.19 106.20 L212.39 107.27 L212.58 108.31 L212.77 109.10 L212.95 110.34 L213.14 110.08 L213.32 110.99 L213.51 112.07 L213.69 113.23 L213.94 113.97 L214.18 115.15 L214.43 115.48 L214.68 117.33 L214.92 117.54 L215.23 118.24 L215.54 119.29 L215.85 120.34 L216.15 121.23 L216.65 122.77 L217.14 123.42 L217.63 124.31 L218.43 125.24 L219.23 126.15 L220.05 126.36 L220.87 126.56 L221.69 126.77 L222.55 126.77 L223.42 126.77 L224.28 126.77 L225.14 126.77 L226.00 126.77 L226.86 126.77 L227.72 126.77 L228.58 126.77 L229.45 126.77 L230.31 126.77" stroke="#449433" stroke-width="1.0" fill="none" stroke-linejoin="round"/>
<path d="M172.71 112.62 L173.65 112.00 L174.59 111.18 L175.54 110.77 L176.15 110.02 L176.77 109.29 L177.38 108.31 L177.69 107.35 L178.00 106.66 L178.31 105.13 L178.62 104.83 L178.92 104.66 L179.23 103.38 L179.54 103.02 L179.85 101.51 L180.15 99.79 L180.46 99.69 L180.67 99.58 L180.87 97.99 L181.08 98.23 L181.28 96.26 L181.49 95.98 L181.69 94.77 L181.82 93.67 L181.94 93.58 L182.06 92.64 L182.18 90.91 L182.31 90.46 L182.43 90.10 L182.55 89.85 L182.68 87.80 L182.80 86.55 L182.92 86.15 L183.10 87.13 L183.27 87.72 L183.44 88.17 L183.61 89.19 L183.78 90.46 L184.28 91.48 L184.77 92.31 L185.10 90.69 L185.43 90.68 L185.75 89.23 L186.62 88.62 L186.83 89.71 L187.05 90.40 L187.26 91.93 L187.48 92.31 L188.46 92.92 L189.45 94.15 L189.73 94.62 L190.02 96.06 L190.31 96.62 L190.48 96.96 L190.65 98.21 L190.82 99.45 L191.00 99.85 L191.17 100.92 L192.15 100.31 L192.77 101.19 L193.38 102.15 L193.71 103.23 L194.04 104.39 L194.37 104.62 L194.86 106.04 L195.35 106.46 L195.68 107.46 L196.01 108.00 L196.34 108.92 L197.32 108.31 L198.55 107.69 L200.15 108.55 L201.75 107.69 L202.98 106.46 L203.29 104.99 L203.60 105.28 L203.91 104.42 L204.22 102.77 L204.50 100.91 L204.79 101.06 L205.08 99.69 L205.36 98.86 L205.65 98.33 L205.94 97.23 L206.31 96.43 L206.68 95.38 L206.98 96.24 L207.29 97.23 L207.72 98.15 L208.15 99.08 L209.14 99.69 L209.63 100.61 L210.12 101.54 L210.53 102.81 L210.94 103.08 L211.35 104.00 L211.72 104.71 L212.09 106.10 L212.46 107.02 L212.83 107.69 L213.32 108.68 L213.82 109.44 L214.31 110.15 L215.23 111.34 L216.15 111.38 L216.97 111.94 L217.79 111.63 L218.62 111.75 L219.54 111.65 L220.46 111.38 L221.38 112.00 L222.31 112.62 L223.11 112.62 L223.91 112.62 L224.71 112.62 L225.51 112.62 L226.31 112.62 L227.11 112.62 L227.91 112.62 L228.71 112.62 L229.51 112.62 L230.31 112.62" stroke="#342c98" stroke-width="1.0" fill="none" stroke-linejoin="round"/>
<path d="M172.71 98.22 L173.82 97.85 L174.92 97.48 L175.74 96.55 L176.56 95.74 L177.38 94.77 L177.74 93.71 L178.09 92.96 L178.44 92.06 L178.79 91.27 L179.14 90.34 L179.49 89.73 L179.85 88.62 L180.05 87.87 L180.26 87.01 L180.46 86.37 L180.67 85.33 L180.87 84.48 L181.08 83.81 L181.28 82.95 L181.49 82.14 L181.69 81.23 L181.96 80.47 L182.22 79.44 L182.48 78.53 L182.75 77.65 L183.01 76.85 L183.27 76.05 L183.54 75.08 L184.00 73.99 L184.46 73.06 L184.92 71.99 L185.38 71.14 L185.85 72.16 L186.31 72.88 L186.77 73.65 L187.23 74.46 L187.44 75.27 L187.64 76.21 L187.85 77.17 L188.05 78.16 L188.26 78.95 L188.46 80.00 L188.60 80.80 L188.74 81.76 L188.87 82.46 L189.01 83.29 L189.15 83.90 L189.28 84.90 L189.42 85.73 L189.56 86.50 L189.69 87.38 L190.00 88.18 L190.31 89.22 L190.62 90.06 L190.92 91.02 L191.23 91.85 L191.54 92.92 L192.00 93.74 L192.46 94.67 L192.92 95.33 L193.38 96.25 L194.21 96.81 L195.03 97.31 L195.85 97.85 L196.67 97.97 L197.49 98.09 L198.31 98.22 L199.11 98.22 L199.91 98.22 L200.71 98.22 L201.51 98.22 L202.31 98.22 L203.11 98.22 L203.91 98.22 L204.71 98.22 L205.51 98.22 L206.31 98.22 L207.11 98.22 L207.91 98.22 L208.71 98.22 L209.51 98.22 L210.31 98.22 L211.11 98.22 L211.91 98.22 L212.71 98.22 L213.51 98.22 L214.31 98.22 L215.11 98.22 L215.91 98.22 L216.71 98.22 L217.51 98.22 L218.31 98.22 L219.11 98.22 L219.91 98.22 L220.71 98.22 L221.51 98.22 L222.31 98.22 L223.11 98.22 L223.91 98.22 L224.71 98.22 L225.51 98.22 L226.31 98.22 L227.11 98.22 L227.91 98.22 L228.71 98.22 L229.51 98.22 L230.31 98.22" stroke="#dc4124" stroke-width="1.0" fill="none" stroke-linejoin="round"/>
<path d="M172.71 184.77 L173.51 184.77 L174.32 184.77 L175.13 184.77 L175.93 184.77 L176.74 184.77 L177.54 184.77 L178.35 184.77 L179.16 184.77 L179.96 184.77 L180.77 184.77 L181.57 184.77 L182.38 184.77 L183.19 184.77 L183.99 184.77 L184.80 184.77 L185.60 184.77 L186.41 184.77 L187.21 184.77 L188.02 184.77 L188.83 184.77 L189.63 184.77 L190.44 184.77 L191.24 184.77 L192.05 184.77 L192.86 184.77 L193.66 184.77 L194.47 184.77 L195.27 184.77 L196.08 184.77 L196.89 184.77 L197.69 184.77 L198.31 183.08 L198.92 182.97 L199.54 181.69 L199.83 181.07 L200.13 179.81 L200.42 179.50 L200.72 177.87 L201.02 177.38 L201.24 176.53 L201.47 176.36 L201.70 174.74 L201.93 173.39 L202.16 173.49 L202.39 172.35 L202.62 171.23 L202.84 170.23 L203.07 168.69 L203.30 167.77 L203.53 167.06 L203.76 167.49 L203.99 166.09 L204.22 165.08 L204.46 163.88 L204.71 163.94 L204.95 163.26 L205.20 161.43 L205.45 161.19 L205.69 160.15 L206.18 158.34 L206.68 157.94 L207.17 159.21 L207.66 160.15 L207.91 161.87 L208.15 161.38 L208.40 162.95 L208.65 163.57 L208.89 164.73 L209.14 165.69 L209.35 166.58 L209.57 167.51 L209.78 168.62 L210.00 169.30 L210.22 170.38 L210.43 171.21 L210.65 172.10 L210.86 172.46 L211.09 173.05 L211.32 174.40 L211.55 174.94 L211.78 175.61 L212.00 177.71 L212.23 177.86 L212.46 178.62 L212.86 179.56 L213.26 179.54 L213.66 181.29 L214.06 182.31 L214.92 183.57 L215.78 184.15 L216.89 184.46 L218.00 184.77 L218.82 184.77 L219.64 184.77 L220.46 184.77 L221.28 184.77 L222.10 184.77 L222.92 184.77 L223.74 184.77 L224.56 184.77 L225.38 184.77 L226.21 184.77 L227.03 184.77 L227.85 184.77 L228.67 184.77 L229.49 184.77 L230.31 184.77" stroke="#449433" stroke-width="1.0" fill="none" stroke-linejoin="round"/>
<path d="M172.71 170.98 L173.51 170.95 L174.31 170.92 L175.11 170.89 L175.91 170.86 L176.71 170.83 L177.51 170.80 L178.31 170.77 L179.11 170.74 L179.91 170.71 L180.71 170.68 L181.51 170.65 L182.31 170.62 L183.13 170.59 L183.95 170.57 L184.77 170.54 L185.59 170.52 L186.41 170.49 L187.23 170.47 L188.05 170.44 L188.87 170.42 L189.69 170.39 L190.51 170.37 L191.33 170.34 L192.15 170.32 L192.97 170.30 L193.79 170.27 L194.62 170.25 L195.64 169.96 L196.67 169.67 L197.69 169.38 L198.23 168.49 L198.76 167.53 L199.29 166.92 L199.54 166.63 L199.78 165.08 L200.03 164.21 L200.28 163.44 L200.52 162.62 L200.68 161.65 L200.84 161.27 L201.00 160.20 L201.16 159.07 L201.31 158.08 L201.47 157.25 L201.63 156.46 L201.79 156.23 L201.95 154.58 L202.11 154.08 L202.26 152.33 L202.42 152.19 L202.58 151.46 L202.74 150.31 L203.02 149.88 L203.29 148.59 L203.57 147.76 L203.85 146.62 L204.26 145.92 L204.67 145.39 L205.08 144.15 L205.69 145.88 L206.31 146.00 L206.72 147.11 L207.13 147.73 L207.54 149.08 L207.85 150.23 L208.15 150.88 L208.46 152.10 L208.77 152.77 L208.95 153.95 L209.12 154.59 L209.30 155.24 L209.47 156.41 L209.65 156.68 L209.82 158.15 L210.00 158.92 L210.21 159.50 L210.41 160.95 L210.62 161.74 L210.82 162.54 L211.03 163.07 L211.23 164.46 L211.63 165.41 L212.03 166.04 L212.43 167.18 L212.83 168.15 L213.88 169.35 L214.92 170.00 L215.74 170.21 L216.56 170.41 L217.38 170.62 L218.19 170.62 L219.00 170.62 L219.81 170.62 L220.62 170.62 L221.42 170.62 L222.23 170.62 L223.04 170.62 L223.85 170.62 L224.65 170.62 L225.46 170.62 L226.27 170.62 L227.08 170.62 L227.88 170.62 L228.69 170.62 L229.50 170.62 L230.31 170.62" stroke="#342c98" stroke-width="1.0" fill="none" stroke-linejoin="round"/>
<path d="M172.71 156.71 L173.65 156.42 L174.59 156.13 L175.54 155.85 L176.58 155.14 L177.63 154.25 L178.12 153.29 L178.62 152.68 L179.11 151.89 L179.60 150.92 L179.85 150.15 L180.09 149.19 L180.34 148.28 L180.58 147.58 L180.83 146.50 L181.08 145.50 L181.32 144.77 L181.52 143.93 L181.72 143.10 L181.92 142.13 L182.12 141.27 L182.32 140.73 L182.52 139.70 L182.72 138.92 L182.92 138.00 L183.19 137.12 L183.46 136.21 L183.72 135.52 L183.99 134.85 L184.26 133.83 L184.52 133.08 L185.14 131.80 L185.75 130.86 L186.62 130.00 L187.48 131.60 L187.72 132.57 L187.97 133.54 L188.22 134.56 L188.46 135.54 L188.67 136.36 L188.87 137.35 L189.08 138.26 L189.28 139.32 L189.49 140.17 L189.69 141.08 L189.90 142.04 L190.11 142.83 L190.33 143.51 L190.54 144.41 L190.75 145.52 L190.96 146.44 L191.17 147.23 L191.49 148.18 L191.81 148.95 L192.13 149.64 L192.45 150.63 L192.77 151.54 L193.30 152.48 L193.84 153.48 L194.37 154.25 L195.23 154.83 L196.09 155.48 L197.20 155.30 L198.31 155.23 L199.13 155.07 L199.95 155.17 L200.77 154.98 L201.59 155.40 L202.41 155.64 L203.23 155.97 L204.15 156.09 L205.08 156.22 L206.00 156.34 L206.92 156.46 L207.73 156.46 L208.54 156.46 L209.34 156.46 L210.15 156.46 L210.95 156.46 L211.76 156.46 L212.57 156.46 L213.37 156.46 L214.18 156.46 L214.99 156.46 L215.79 156.46 L216.60 156.46 L217.41 156.46 L218.21 156.46 L219.02 156.46 L219.82 156.46 L220.63 156.46 L221.44 156.46 L222.24 156.46 L223.05 156.46 L223.86 156.46 L224.66 156.46 L225.47 156.46 L226.28 156.46 L227.08 156.46 L227.89 156.46 L228.69 156.46 L229.50 156.46 L230.31 156.46" stroke="#dc4124" stroke-width="1.0" fill="none" stroke-linejoin="round"/>
<path d="M172.71 242.15 L173.64 241.96 L174.58 241.76 L175.51 241.56 L176.45 241.37 L177.38 241.17 L178.31 240.02 L179.23 240.96 L180.15 239.67 L181.08 239.69 L181.54 238.12 L182.00 237.16 L182.46 236.60 L182.92 236.00 L183.23 236.08 L183.54 235.28 L183.85 232.70 L184.15 232.31 L185.38 231.08 L185.71 231.60 L186.04 232.79 L186.37 233.54 L186.59 234.58 L186.81 235.06 L187.03 235.43 L187.26 236.81 L187.48 237.85 L188.22 238.37 L188.95 238.72 L189.69 240.31 L190.51 240.78 L191.33 240.50 L192.15 241.54 L193.18 241.33 L194.21 240.37 L195.23 240.92 L196.17 241.29 L197.12 240.76 L198.06 240.06 L198.80 239.58 L199.54 237.85 L199.70 237.08 L199.87 236.03 L200.03 235.35 L200.19 233.98 L200.36 234.07 L200.52 232.92 L201.75 231.69 L202.98 232.31 L203.39 233.25 L203.81 233.82 L204.22 234.77 L205.45 234.15 L205.59 232.47 L205.73 232.35 L205.87 232.22 L206.01 231.27 L206.15 230.14 L206.29 228.72 L206.43 228.00 L206.54 227.20 L206.65 226.52 L206.76 225.50 L206.87 225.01 L206.98 223.41 L207.10 221.81 L207.21 220.93 L207.32 220.71 L207.43 219.66 L207.54 219.38 L207.91 218.65 L208.28 217.80 L208.65 216.31 L209.14 217.23 L209.63 218.15 L209.82 219.31 L210.00 220.03 L210.18 221.00 L210.37 221.85 L210.66 220.74 L210.94 219.87 L211.23 219.14 L212.22 217.54 L212.58 219.09 L212.95 219.48 L213.32 220.62 L213.42 221.46 L213.52 222.86 L213.62 223.63 L213.72 223.90 L213.82 225.03 L213.91 225.35 L214.01 226.70 L214.11 227.65 L214.21 228.37 L214.31 229.23 L214.48 230.15 L214.66 231.08 L214.84 230.68 L215.01 232.24 L215.19 233.49 L215.36 234.08 L215.54 235.14 L217.02 236.37 L217.34 236.86 L217.67 238.07 L218.00 239.08 L218.33 240.80 L218.66 241.03 L218.98 242.15 L219.79 242.15 L220.60 242.15 L221.41 242.15 L222.22 242.15 L223.03 242.15 L223.84 242.15 L224.65 242.15 L225.45 242.15 L226.26 242.15 L227.07 242.15 L227.88 242.15 L228.69 242.15 L229.50 242.15 L230.31 242.15" stroke="#449433" stroke-width="1.0" fill="none" stroke-linejoin="round"/>
<path d="M172.71 229.23 L173.65 228.82 L174.59 228.41 L175.54 228.00 L176.24 226.94 L176.93 226.17 L177.63 225.54 L177.90 224.27 L178.16 224.09 L178.43 222.70 L178.70 222.61 L178.96 221.79 L179.23 220.62 L179.44 219.92 L179.64 219.17 L179.85 217.81 L180.05 216.25 L180.26 215.97 L180.46 215.08 L180.66 214.46 L180.86 212.75 L181.05 212.03 L181.25 212.06 L181.45 210.77 L181.66 210.02 L181.88 209.45 L182.09 208.26 L182.31 207.08 L182.64 206.08 L182.96 205.19 L183.29 204.00 L183.72 203.41 L184.15 202.15 L184.44 202.97 L184.73 203.71 L185.02 204.62 L185.20 205.66 L185.38 206.34 L185.57 208.31 L185.75 208.31 L186.37 208.92 L186.80 209.55 L187.23 210.77 L187.72 211.12 L188.22 212.62 L188.77 213.03 L189.32 214.46 L189.69 215.89 L190.06 216.35 L190.43 217.54 L190.68 218.47 L190.92 219.18 L191.17 220.23 L191.42 220.42 L191.66 221.85 L192.52 222.62 L193.38 223.32 L194.31 222.67 L195.23 222.46 L195.72 223.81 L196.22 224.31 L197.14 225.66 L198.06 226.52 L199.11 226.91 L200.15 228.25 L200.97 227.58 L201.79 227.90 L202.62 227.38 L203.64 228.06 L204.67 228.09 L205.69 228.00 L206.57 228.04 L207.45 228.07 L208.33 228.11 L209.21 228.14 L210.09 228.18 L210.97 228.21 L211.85 228.25 L212.87 228.49 L213.90 228.74 L214.92 228.98 L215.73 228.98 L216.54 228.98 L217.35 228.98 L218.16 228.98 L218.97 228.98 L219.78 228.98 L220.59 228.98 L221.40 228.98 L222.21 228.98 L223.02 228.98 L223.83 228.98 L224.64 228.98 L225.45 228.98 L226.26 228.98 L227.07 228.98 L227.88 228.98 L228.69 228.98 L229.50 228.98 L230.31 228.98" stroke="#342c98" stroke-width="1.0" fill="none" stroke-linejoin="round"/>
<path d="M172.71 214.71 L173.65 214.42 L174.59 214.13 L175.54 213.85 L176.15 213.01 L176.77 212.31 L177.38 211.38 L177.63 210.33 L177.88 209.69 L178.12 208.83 L178.37 208.00 L178.62 207.34 L178.86 206.46 L179.02 205.64 L179.17 204.80 L179.32 203.91 L179.48 203.14 L179.63 202.31 L179.78 201.33 L179.94 200.63 L180.09 199.69 L180.27 198.72 L180.44 198.10 L180.62 196.93 L180.80 196.15 L180.97 195.19 L181.15 194.42 L181.32 193.54 L181.57 192.81 L181.82 191.74 L182.06 191.13 L182.31 190.23 L182.55 189.23 L183.54 188.00 L184.52 189.23 L184.72 190.13 L184.92 190.90 L185.11 191.90 L185.31 192.40 L185.51 193.54 L185.65 194.34 L185.79 195.39 L185.93 196.17 L186.07 197.30 L186.21 197.87 L186.35 198.69 L186.49 199.69 L186.63 200.55 L186.77 201.51 L186.91 202.50 L187.05 203.04 L187.20 204.10 L187.34 205.09 L187.48 205.85 L187.68 206.60 L187.89 207.44 L188.09 208.19 L188.30 209.20 L188.50 210.03 L188.71 210.77 L189.24 211.73 L189.77 212.60 L190.31 213.48 L191.23 213.97 L192.15 214.46 L192.97 214.46 L193.78 214.46 L194.59 214.46 L195.40 214.46 L196.21 214.46 L197.02 214.46 L197.84 214.46 L198.65 214.46 L199.46 214.46 L200.27 214.46 L201.08 214.46 L201.90 214.46 L202.71 214.46 L203.52 214.46 L204.33 214.46 L205.14 214.46 L205.95 214.46 L206.77 214.46 L207.58 214.46 L208.39 214.46 L209.20 214.46 L210.01 214.46 L210.82 214.46 L211.64 214.46 L212.45 214.46 L213.26 214.46 L214.07 214.46 L214.88 214.46 L215.70 214.46 L216.51 214.46 L217.32 214.46 L218.13 214.46 L218.94 214.46 L219.75 214.46 L220.57 214.46 L221.38 214.46 L222.19 214.46 L223.00 214.46 L223.81 214.46 L224.63 214.46 L225.44 214.46 L226.25 214.46 L227.06 214.46 L227.87 214.46 L228.68 214.46 L229.50 214.46 L230.31 214.46" stroke="#dc4124" stroke-width="1.0" fill="none" stroke-linejoin="round"/>
<path d="M172.71 300.15 L173.60 300.08 L174.49 300.00 L175.38 299.92 L176.28 299.85 L177.17 299.77 L178.06 299.69 L178.95 299.62 L179.85 299.54 L180.73 299.45 L181.60 299.36 L182.48 299.27 L183.36 299.19 L184.24 299.54 L185.12 298.96 L186.00 298.92 L186.88 299.33 L187.76 299.46 L188.64 299.19 L189.52 299.27 L190.40 299.36 L191.27 299.45 L192.15 299.54 L193.03 299.45 L193.91 299.36 L194.79 299.27 L195.67 299.19 L196.55 299.67 L197.43 299.24 L198.31 298.92 L199.13 297.94 L199.95 297.18 L200.77 295.85 L201.14 294.25 L201.51 293.22 L201.88 293.79 L202.25 292.21 L202.62 290.78 L202.98 290.31 L203.27 289.23 L203.56 288.61 L203.85 287.88 L204.13 286.70 L204.42 286.64 L204.71 285.38 L204.93 283.83 L205.16 284.98 L205.38 282.46 L205.61 282.84 L205.84 281.58 L206.06 280.46 L206.31 278.86 L206.55 278.21 L206.80 277.90 L207.05 277.14 L207.29 276.15 L207.97 275.04 L208.65 274.31 L209.26 275.24 L209.88 276.15 L210.08 277.05 L210.29 277.30 L210.49 278.64 L210.70 280.44 L210.90 279.97 L211.11 281.08 L211.45 281.56 L211.78 283.22 L212.12 284.44 L212.46 284.77 L212.67 286.05 L212.87 286.14 L213.08 287.20 L213.28 288.15 L213.49 288.78 L213.69 289.69 L214.14 290.78 L214.59 291.98 L215.05 292.40 L215.38 293.51 L215.72 294.12 L216.06 294.90 L216.40 295.85 L217.02 297.46 L217.63 296.95 L218.25 298.31 L219.11 299.50 L219.97 299.25 L220.83 299.23 L221.69 299.54 L222.51 299.64 L223.33 299.74 L224.15 299.85 L224.97 299.95 L225.79 300.05 L226.62 300.15 L227.54 300.15 L228.46 300.15 L229.38 300.15 L230.31 300.15" stroke="#449433" stroke-width="1.0" fill="none" stroke-linejoin="round"/>
<path d="M172.71 286.62 L173.57 286.15 L174.43 285.69 L175.29 285.27 L176.15 284.77 L176.89 283.46 L177.63 283.44 L178.37 281.69 L178.79 281.31 L179.21 280.33 L179.62 279.93 L180.04 277.54 L180.46 277.38 L180.71 276.61 L180.95 275.62 L181.20 274.64 L181.45 274.13 L181.69 273.50 L181.94 272.46 L182.13 271.79 L182.33 270.65 L182.52 269.30 L182.71 269.17 L182.91 268.31 L183.10 268.02 L183.29 266.31 L183.46 265.86 L183.62 264.68 L183.78 263.39 L183.95 264.10 L184.11 261.94 L184.28 261.38 L184.89 260.15 L184.99 261.16 L185.10 262.30 L185.20 263.13 L185.30 264.37 L185.41 264.37 L185.51 265.69 L185.61 264.50 L185.71 263.92 L185.82 262.44 L185.92 261.76 L186.02 261.62 L186.12 260.15 L186.98 261.14 L187.16 262.17 L187.33 262.92 L187.50 263.65 L187.67 264.80 L187.85 265.69 L188.15 266.52 L188.46 266.93 L188.77 268.50 L189.08 269.02 L189.38 269.43 L189.69 271.37 L190.00 271.65 L190.31 272.71 L190.65 272.74 L190.98 273.94 L191.32 275.60 L191.66 276.40 L192.52 277.16 L193.38 278.62 L193.75 280.20 L194.12 280.88 L194.49 282.03 L194.86 282.06 L195.39 283.32 L195.93 284.40 L196.46 284.77 L197.38 284.22 L198.31 284.15 L199.13 284.80 L199.95 284.23 L200.77 284.52 L201.69 283.40 L202.62 282.31 L203.54 280.85 L204.46 280.46 L205.94 281.32 L206.35 282.17 L206.76 283.12 L207.17 283.78 L208.28 283.64 L209.38 283.54 L210.21 283.31 L211.03 284.31 L211.85 284.15 L212.67 285.13 L213.49 285.36 L214.31 286.00 L215.13 285.79 L215.95 285.90 L216.77 285.38 L217.59 285.99 L218.41 285.79 L219.23 286.00 L220.05 286.21 L220.87 286.41 L221.69 286.62 L222.55 286.62 L223.42 286.62 L224.28 286.62 L225.14 286.62 L226.00 286.62 L226.86 286.62 L227.72 286.62 L228.58 286.62 L229.45 286.62 L230.31 286.62" stroke="#342c98" stroke-width="1.0" fill="none" stroke-linejoin="round"/>
<path d="M172.71 273.08 L173.51 272.62 L174.31 272.15 L175.11 271.59 L175.91 271.23 L176.43 270.31 L176.95 269.20 L177.48 268.36 L178.00 267.54 L178.31 266.66 L178.62 265.61 L178.92 264.81 L179.23 263.88 L179.54 262.72 L179.85 262.00 L180.08 261.11 L180.31 260.46 L180.54 259.46 L180.77 258.63 L181.00 257.70 L181.23 256.76 L181.46 255.92 L181.69 255.23 L181.96 254.59 L182.23 253.37 L182.49 252.38 L182.76 251.55 L183.03 250.42 L183.29 249.69 L183.70 248.81 L184.11 247.81 L184.52 246.62 L185.38 246.00 L186.62 247.23 L186.86 248.02 L187.11 248.99 L187.35 249.73 L187.60 250.76 L187.85 251.54 L188.02 252.34 L188.20 253.28 L188.37 254.31 L188.55 255.11 L188.73 255.90 L188.90 256.66 L189.08 257.69 L189.25 258.41 L189.43 259.57 L189.60 260.38 L189.78 261.21 L189.96 262.21 L190.13 262.98 L190.31 263.85 L190.57 264.60 L190.84 265.48 L191.11 266.30 L191.37 267.13 L191.64 268.20 L191.91 268.77 L192.61 269.73 L193.30 270.60 L194.00 271.48 L194.82 271.89 L195.64 272.30 L196.46 272.71 L197.27 272.71 L198.07 272.71 L198.88 272.71 L199.68 272.71 L200.49 272.71 L201.30 272.71 L202.10 272.71 L202.91 272.71 L203.71 272.71 L204.52 272.71 L205.33 272.71 L206.13 272.71 L206.94 272.71 L207.74 272.71 L208.55 272.71 L209.36 272.71 L210.16 272.71 L210.97 272.71 L211.77 272.71 L212.58 272.71 L213.38 272.71 L214.19 272.71 L215.00 272.71 L215.80 272.71 L216.61 272.71 L217.41 272.71 L218.22 272.71 L219.03 272.71 L219.83 272.71 L220.64 272.71 L221.44 272.71 L222.25 272.71 L223.05 272.71 L223.86 272.71 L224.67 272.71 L225.47 272.71 L226.28 272.71 L227.08 272.71 L227.89 272.71 L228.70 272.71 L229.50 272.71 L230.31 272.71" stroke="#dc4124" stroke-width="1.0" fill="none" stroke-linejoin="round"/>
</g>
<rect x="172.5" y="68.7" width="57.900000000000006" height="232.10000000000002" fill="none" stroke="#1a1a1a" stroke-width="1.1"/>
<line x1="172.5" y1="126.8" x2="230.4" y2="126.8" stroke="#333" stroke-width="1.3"/>
<line x1="172.5" y1="184.8" x2="230.4" y2="184.8" stroke="#333" stroke-width="1.3"/>
<line x1="172.5" y1="242.8" x2="230.4" y2="242.8" stroke="#333" stroke-width="1.3"/>
<line x1="178.3" y1="300.8" x2="178.3" y2="302.8" stroke="#111" stroke-width="0.8"/>
<line x1="185.5" y1="300.8" x2="185.5" y2="302.8" stroke="#111" stroke-width="0.8"/>
<line x1="198.3" y1="300.8" x2="198.3" y2="302.8" stroke="#111" stroke-width="0.8"/>
<line x1="212.1" y1="300.8" x2="212.1" y2="302.8" stroke="#111" stroke-width="0.8"/>
<line x1="225.0" y1="300.8" x2="225.0" y2="302.8" stroke="#111" stroke-width="0.8"/>
<line x1="174.5" y1="300.8" x2="174.5" y2="302.0" stroke="#333" stroke-width="0.5"/>
<line x1="176.5" y1="300.8" x2="176.5" y2="302.0" stroke="#333" stroke-width="0.5"/>
<line x1="180.5" y1="300.8" x2="180.5" y2="302.0" stroke="#333" stroke-width="0.5"/>
<line x1="182.5" y1="300.8" x2="182.5" y2="302.0" stroke="#333" stroke-width="0.5"/>
<line x1="184.0" y1="300.8" x2="184.0" y2="302.0" stroke="#333" stroke-width="0.5"/>
<line x1="188.5" y1="300.8" x2="188.5" y2="302.0" stroke="#333" stroke-width="0.5"/>
<line x1="191.5" y1="300.8" x2="191.5" y2="302.0" stroke="#333" stroke-width="0.5"/>
<line x1="193.5" y1="300.8" x2="193.5" y2="302.0" stroke="#333" stroke-width="0.5"/>
<line x1="195.5" y1="300.8" x2="195.5" y2="302.0" stroke="#333" stroke-width="0.5"/>
<line x1="197.0" y1="300.8" x2="197.0" y2="302.0" stroke="#333" stroke-width="0.5"/>
<line x1="201.5" y1="300.8" x2="201.5" y2="302.0" stroke="#333" stroke-width="0.5"/>
<line x1="204.5" y1="300.8" x2="204.5" y2="302.0" stroke="#333" stroke-width="0.5"/>
<line x1="207.0" y1="300.8" x2="207.0" y2="302.0" stroke="#333" stroke-width="0.5"/>
<line x1="209.0" y1="300.8" x2="209.0" y2="302.0" stroke="#333" stroke-width="0.5"/>
<line x1="210.5" y1="300.8" x2="210.5" y2="302.0" stroke="#333" stroke-width="0.5"/>
<line x1="215.5" y1="300.8" x2="215.5" y2="302.0" stroke="#333" stroke-width="0.5"/>
<line x1="218.5" y1="300.8" x2="218.5" y2="302.0" stroke="#333" stroke-width="0.5"/>
<line x1="220.5" y1="300.8" x2="220.5" y2="302.0" stroke="#333" stroke-width="0.5"/>
<line x1="222.5" y1="300.8" x2="222.5" y2="302.0" stroke="#333" stroke-width="0.5"/>
<line x1="224.0" y1="300.8" x2="224.0" y2="302.0" stroke="#333" stroke-width="0.5"/>
<line x1="227.5" y1="300.8" x2="227.5" y2="302.0" stroke="#333" stroke-width="0.5"/>
<text x="179.8" y="312.9" font-size="7.1" fill="#231f20" text-anchor="end" textLength="3.1" lengthAdjust="spacingAndGlyphs" stroke="#231f20" stroke-width="0.25">0</text>
<text x="182.8" y="312.9" font-size="7.1" fill="#231f20" textLength="5.6" lengthAdjust="spacingAndGlyphs" stroke="#231f20" stroke-width="0.25">10</text>
<text x="188.6" y="309.6" font-size="4.3" fill="#231f20" stroke="#231f20" stroke-width="0.18">2</text>
<text x="195.2" y="312.9" font-size="7.1" fill="#231f20" textLength="5.6" lengthAdjust="spacingAndGlyphs" stroke="#231f20" stroke-width="0.25">10</text>
<text x="201.0" y="309.6" font-size="4.3" fill="#231f20" stroke="#231f20" stroke-width="0.18">3</text>
<text x="208.6" y="312.9" font-size="7.1" fill="#231f20" textLength="5.6" lengthAdjust="spacingAndGlyphs" stroke="#231f20" stroke-width="0.25">10</text>
<text x="214.4" y="309.6" font-size="4.3" fill="#231f20" stroke="#231f20" stroke-width="0.18">4</text>
<text x="221.4" y="312.9" font-size="7.1" fill="#231f20" textLength="5.6" lengthAdjust="spacingAndGlyphs" stroke="#231f20" stroke-width="0.25">10</text>
<text x="227.2" y="309.6" font-size="4.3" fill="#231f20" stroke="#231f20" stroke-width="0.18">5</text>
<clipPath id="hc1"><rect x="243.4" y="68.7" width="57.99999999999997" height="232.10000000000002"/></clipPath>
<g clip-path="url(#hc1)">
<path d="M243.69 126.52 L244.51 126.51 L245.33 126.50 L246.15 126.50 L246.97 126.49 L247.79 126.48 L248.62 126.47 L249.44 126.46 L250.26 126.45 L251.08 126.44 L251.90 126.43 L252.72 126.42 L253.54 126.41 L254.36 126.40 L255.18 126.40 L256.00 126.39 L256.82 126.38 L257.64 126.37 L258.46 126.36 L259.28 126.35 L260.10 126.34 L260.92 126.33 L261.74 126.32 L262.56 126.31 L263.38 126.30 L264.21 126.30 L265.03 126.29 L265.85 126.28 L266.22 125.36 L266.58 124.38 L266.95 123.43 L267.32 123.08 L267.47 121.38 L267.62 121.15 L267.77 119.82 L267.91 118.80 L268.06 118.35 L268.21 117.00 L268.36 117.67 L268.50 116.74 L268.65 114.89 L268.80 114.46 L268.94 114.52 L269.07 113.04 L269.21 110.74 L269.34 111.03 L269.48 109.71 L269.61 108.51 L269.75 108.31 L269.88 108.09 L270.02 106.91 L270.15 105.85 L270.36 104.37 L270.56 103.91 L270.77 103.05 L270.97 103.08 L271.18 101.70 L271.38 100.92 L272.25 100.31 L272.66 100.89 L273.07 101.95 L273.48 103.38 L273.70 103.32 L273.93 104.65 L274.15 106.25 L274.38 105.81 L274.61 107.57 L274.83 108.31 L275.10 109.08 L275.36 110.32 L275.63 110.26 L275.90 112.00 L276.16 113.11 L276.43 113.23 L277.29 114.75 L278.15 114.22 L278.73 112.54 L279.30 112.31 L279.88 111.38 L280.31 110.37 L280.74 109.59 L281.17 108.17 L281.60 107.69 L283.08 108.55 L283.32 109.88 L283.57 111.49 L283.82 112.04 L284.06 111.87 L284.31 113.23 L284.59 113.83 L284.88 115.29 L285.17 115.88 L285.46 116.34 L285.74 118.09 L286.03 118.40 L286.32 119.46 L286.61 120.50 L286.89 120.79 L287.18 122.26 L287.47 122.30 L287.75 123.32 L288.25 123.76 L288.74 125.21 L289.23 126.15 L290.15 126.00 L291.08 125.85 L292.00 125.69 L292.92 125.54 L293.74 125.87 L294.56 126.19 L295.38 126.52 L296.26 126.52 L297.14 126.52 L298.02 126.52 L298.90 126.52 L299.78 126.52 L300.66 126.52 L301.54 126.52" stroke="#449433" stroke-width="1.0" fill="none" stroke-linejoin="round"/>
<path d="M243.69 112.62 L244.72 112.41 L245.74 112.21 L246.77 112.00 L247.82 110.33 L248.86 109.78 L249.35 109.46 L249.85 108.42 L250.34 106.62 L250.83 106.46 L251.75 105.91 L252.68 105.23 L254.03 106.46 L254.52 107.75 L255.02 108.21 L255.51 109.29 L256.37 110.20 L257.23 110.77 L258.05 110.33 L258.87 110.33 L259.69 110.15 L260.51 109.71 L261.33 109.53 L262.15 108.92 L262.69 107.72 L263.22 106.83 L263.75 106.46 L263.89 105.75 L264.03 104.57 L264.17 104.13 L264.31 102.88 L264.45 101.71 L264.58 101.68 L264.72 100.65 L264.86 99.69 L265.17 99.13 L265.48 97.83 L265.78 96.97 L266.09 96.25 L266.50 95.85 L266.91 93.76 L267.32 93.54 L267.49 93.41 L267.65 92.11 L267.82 91.05 L267.98 90.29 L268.14 89.68 L268.31 88.62 L268.55 87.49 L268.80 87.09 L269.05 86.15 L269.19 86.63 L269.34 87.14 L269.49 88.82 L269.64 89.64 L269.78 90.46 L270.77 89.23 L270.97 90.35 L271.16 91.18 L271.36 92.10 L271.56 92.99 L271.75 93.54 L271.90 93.94 L272.04 95.67 L272.18 97.08 L272.33 96.59 L272.47 97.14 L272.62 98.46 L272.82 99.56 L273.03 100.47 L273.23 101.33 L273.44 102.36 L273.64 102.01 L273.85 103.38 L274.11 104.42 L274.37 105.33 L274.64 106.53 L274.90 106.54 L275.16 107.79 L275.43 108.51 L275.69 109.54 L276.62 110.40 L277.54 111.38 L278.46 111.76 L279.38 112.25 L280.21 111.90 L281.03 110.96 L281.85 111.38 L282.67 111.78 L283.49 112.21 L284.31 112.62 L285.13 112.74 L285.95 112.86 L286.77 112.98 L287.59 112.98 L288.41 112.98 L289.23 112.98 L290.05 112.98 L290.87 112.98 L291.69 112.98 L292.51 112.98 L293.33 112.98 L294.15 112.98 L294.97 112.98 L295.79 112.98 L296.62 112.98 L297.44 112.98 L298.26 112.98 L299.08 112.98 L299.90 112.98 L300.72 112.98 L301.54 112.98" stroke="#342c98" stroke-width="1.0" fill="none" stroke-linejoin="round"/>
<path d="M243.69 98.46 L244.51 98.30 L245.33 98.13 L246.15 97.97 L246.65 96.91 L247.14 95.80 L247.63 94.77 L247.77 93.53 L247.91 92.94 L248.05 92.07 L248.19 91.17 L248.33 90.53 L248.47 89.59 L248.62 88.62 L248.71 87.74 L248.81 86.95 L248.91 86.36 L249.01 85.07 L249.11 84.36 L249.21 83.39 L249.30 82.73 L249.40 81.83 L249.50 80.85 L249.60 80.00 L249.74 79.14 L249.89 78.07 L250.03 77.07 L250.17 76.39 L250.32 75.55 L250.46 74.46 L250.75 73.41 L251.04 72.36 L251.32 71.38 L252.31 72.86 L252.45 73.56 L252.59 74.84 L252.74 75.39 L252.88 76.29 L253.03 77.25 L253.17 78.15 L253.26 79.08 L253.34 79.76 L253.43 80.55 L253.51 81.36 L253.60 82.24 L253.69 82.95 L253.77 83.77 L253.86 84.55 L253.94 85.24 L254.03 86.15 L254.17 87.17 L254.31 87.84 L254.45 88.66 L254.59 89.63 L254.73 90.55 L254.87 91.51 L255.02 92.31 L255.42 93.14 L255.82 94.15 L256.22 95.28 L256.62 96.25 L257.44 96.82 L258.26 97.20 L259.08 97.85 L259.94 97.97 L260.80 98.09 L261.66 98.22 L262.52 98.34 L263.38 98.46 L264.20 98.46 L265.01 98.46 L265.82 98.46 L266.63 98.46 L267.44 98.46 L268.26 98.46 L269.07 98.46 L269.88 98.46 L270.69 98.46 L271.50 98.46 L272.31 98.46 L273.13 98.46 L273.94 98.46 L274.75 98.46 L275.56 98.46 L276.37 98.46 L277.18 98.46 L278.00 98.46 L278.81 98.46 L279.62 98.46 L280.43 98.46 L281.24 98.46 L282.06 98.46 L282.87 98.46 L283.68 98.46 L284.49 98.46 L285.30 98.46 L286.11 98.46 L286.93 98.46 L287.74 98.46 L288.55 98.46 L289.36 98.46 L290.17 98.46 L290.99 98.46 L291.80 98.46 L292.61 98.46 L293.42 98.46 L294.23 98.46 L295.04 98.46 L295.86 98.46 L296.67 98.46 L297.48 98.46 L298.29 98.46 L299.10 98.46 L299.91 98.46 L300.73 98.46 L301.54 98.46" stroke="#dc4124" stroke-width="1.0" fill="none" stroke-linejoin="round"/>
<path d="M243.69 184.52 L244.50 184.51 L245.31 184.50 L246.12 184.49 L246.93 184.48 L247.74 184.47 L248.55 184.46 L249.36 184.45 L250.17 184.44 L250.98 184.43 L251.79 184.42 L252.61 184.41 L253.42 184.40 L254.23 184.39 L255.04 184.38 L255.85 184.37 L256.66 184.36 L257.47 184.35 L258.28 184.34 L259.09 184.33 L259.90 184.32 L260.71 184.31 L261.52 184.30 L262.33 184.29 L263.14 184.28 L263.43 182.92 L263.71 182.67 L264.00 181.69 L264.29 180.18 L264.57 179.68 L264.86 179.23 L265.03 179.04 L265.21 177.03 L265.38 177.12 L265.55 175.09 L265.72 175.59 L265.90 174.79 L266.07 172.91 L266.24 172.03 L266.41 171.76 L266.58 170.62 L266.74 169.26 L266.90 169.26 L267.06 168.77 L267.22 167.53 L267.38 166.76 L267.54 165.74 L267.70 165.47 L267.86 163.85 L268.02 164.14 L268.18 162.62 L268.43 161.74 L268.68 160.75 L268.92 159.29 L269.17 158.97 L269.42 158.31 L269.87 159.44 L270.32 160.92 L270.77 161.38 L270.95 161.55 L271.14 163.11 L271.32 163.75 L271.51 164.41 L271.69 165.85 L271.88 166.40 L272.06 168.02 L272.25 168.52 L272.46 168.14 L272.68 170.52 L272.89 170.16 L273.11 170.96 L273.32 172.91 L273.54 173.35 L273.75 174.40 L273.97 175.17 L274.25 175.61 L274.53 176.45 L274.81 177.47 L275.09 178.66 L275.38 179.18 L275.66 180.25 L275.94 181.32 L276.59 181.80 L277.25 183.15 L277.91 183.91 L278.77 184.22 L279.63 184.52 L280.44 184.52 L281.25 184.52 L282.06 184.52 L282.88 184.52 L283.69 184.52 L284.50 184.52 L285.31 184.52 L286.12 184.52 L286.93 184.52 L287.74 184.52 L288.56 184.52 L289.37 184.52 L290.18 184.52 L290.99 184.52 L291.80 184.52 L292.61 184.52 L293.42 184.52 L294.24 184.52 L295.05 184.52 L295.86 184.52 L296.67 184.52 L297.48 184.52 L298.29 184.52 L299.10 184.52 L299.92 184.52 L300.73 184.52 L301.54 184.52" stroke="#449433" stroke-width="1.0" fill="none" stroke-linejoin="round"/>
<path d="M243.69 170.62 L244.54 170.59 L245.38 170.57 L246.23 170.55 L247.08 170.52 L247.92 170.50 L248.77 170.48 L249.62 170.45 L250.46 170.43 L251.31 170.41 L252.15 170.38 L253.00 170.36 L253.85 170.34 L254.69 170.32 L255.54 170.29 L256.38 170.27 L257.23 170.25 L258.34 169.63 L259.45 169.02 L259.88 167.73 L260.31 166.52 L260.74 165.47 L261.17 165.69 L261.34 164.84 L261.51 164.04 L261.68 163.54 L261.85 162.01 L262.02 161.00 L262.18 160.02 L262.35 160.07 L262.52 158.92 L262.67 157.78 L262.82 157.54 L262.97 156.22 L263.12 155.26 L263.28 153.73 L263.43 153.32 L263.58 153.02 L263.73 151.57 L263.88 150.92 L264.12 150.28 L264.37 148.44 L264.62 148.60 L264.86 148.40 L265.11 146.37 L265.72 145.83 L266.34 144.40 L267.57 146.00 L267.77 147.01 L267.98 147.27 L268.18 148.43 L268.39 149.27 L268.59 150.49 L268.80 151.29 L268.96 151.33 L269.13 152.64 L269.29 154.15 L269.46 154.74 L269.62 155.83 L269.78 156.72 L269.95 156.77 L270.11 157.53 L270.28 158.92 L270.49 159.99 L270.70 160.70 L270.91 161.59 L271.12 162.11 L271.33 163.73 L271.54 164.40 L271.75 165.08 L272.18 166.52 L272.62 166.90 L273.05 168.31 L273.48 169.02 L274.30 169.53 L275.12 170.08 L275.94 170.62 L276.74 170.62 L277.54 170.62 L278.34 170.62 L279.14 170.62 L279.94 170.62 L280.74 170.62 L281.54 170.62 L282.34 170.62 L283.14 170.62 L283.94 170.62 L284.74 170.62 L285.54 170.62 L286.34 170.62 L287.14 170.62 L287.94 170.62 L288.74 170.62 L289.54 170.62 L290.34 170.62 L291.14 170.62 L291.94 170.62 L292.74 170.62 L293.54 170.62 L294.34 170.62 L295.14 170.62 L295.94 170.62 L296.74 170.62 L297.54 170.62 L298.34 170.62 L299.14 170.62 L299.94 170.62 L300.74 170.62 L301.54 170.62" stroke="#342c98" stroke-width="1.0" fill="none" stroke-linejoin="round"/>
<path d="M243.69 156.46 L244.68 156.40 L245.66 156.34 L246.65 156.28 L247.63 156.22 L248.00 155.26 L248.37 154.48 L248.74 153.46 L249.11 152.77 L249.23 151.95 L249.35 151.19 L249.48 150.44 L249.60 149.46 L249.72 148.64 L249.85 147.90 L249.97 146.96 L250.09 146.30 L250.22 145.83 L250.34 144.77 L250.46 143.92 L250.58 142.97 L250.71 142.12 L250.83 141.50 L250.95 140.34 L251.08 139.59 L251.20 138.73 L251.32 137.80 L251.45 136.94 L251.57 136.15 L251.73 135.16 L251.90 134.43 L252.06 133.82 L252.23 133.01 L252.39 132.02 L252.55 131.23 L252.92 130.38 L253.29 129.38 L253.78 130.35 L254.28 131.23 L254.44 132.06 L254.61 132.86 L254.77 133.81 L254.93 134.57 L255.10 135.31 L255.26 136.15 L255.38 136.98 L255.51 137.94 L255.63 138.63 L255.75 139.47 L255.88 140.36 L256.00 141.18 L256.12 142.20 L256.25 142.92 L256.45 143.88 L256.66 144.76 L256.86 145.64 L257.07 146.76 L257.27 147.58 L257.48 148.46 L257.89 149.70 L258.30 150.60 L258.71 151.54 L259.57 152.44 L260.43 153.38 L261.42 154.01 L262.40 154.74 L263.38 155.33 L264.37 155.97 L265.35 156.13 L266.34 156.30 L267.32 156.46 L268.14 156.46 L268.95 156.46 L269.77 156.46 L270.58 156.46 L271.40 156.46 L272.21 156.46 L273.03 156.46 L273.84 156.46 L274.65 156.46 L275.47 156.46 L276.28 156.46 L277.10 156.46 L277.91 156.46 L278.73 156.46 L279.54 156.46 L280.36 156.46 L281.17 156.46 L281.99 156.46 L282.80 156.46 L283.62 156.46 L284.43 156.46 L285.25 156.46 L286.06 156.46 L286.87 156.46 L287.69 156.46 L288.50 156.46 L289.32 156.46 L290.13 156.46 L290.95 156.46 L291.76 156.46 L292.58 156.46 L293.39 156.46 L294.21 156.46 L295.02 156.46 L295.84 156.46 L296.65 156.46 L297.47 156.46 L298.28 156.46 L299.09 156.46 L299.91 156.46 L300.72 156.46 L301.54 156.46" stroke="#dc4124" stroke-width="1.0" fill="none" stroke-linejoin="round"/>
<path d="M243.69 242.15 L244.50 242.15 L245.30 242.15 L246.11 242.15 L246.91 242.15 L247.72 242.15 L248.52 242.15 L249.33 242.15 L250.13 242.15 L250.93 242.15 L251.74 242.15 L252.54 242.15 L253.35 242.15 L254.15 242.15 L254.96 242.15 L255.76 242.15 L256.57 242.15 L257.37 242.15 L258.18 242.15 L258.98 242.15 L259.79 242.15 L260.59 242.15 L261.40 242.15 L262.20 242.15 L263.01 242.15 L263.81 242.15 L264.62 242.15 L265.19 241.21 L265.76 240.46 L266.34 239.08 L266.63 238.48 L266.91 238.14 L267.20 235.93 L267.49 235.81 L267.77 234.33 L268.06 234.15 L268.33 232.81 L268.59 232.12 L268.85 231.22 L269.12 230.20 L269.38 229.07 L269.64 229.39 L269.91 228.00 L270.10 226.98 L270.29 226.68 L270.49 224.86 L270.68 223.44 L270.87 223.34 L271.07 223.12 L271.26 221.85 L271.45 220.77 L271.63 220.38 L271.82 218.90 L272.00 219.19 L272.18 217.94 L272.37 216.92 L272.82 218.42 L273.27 218.85 L273.72 220.00 L274.34 221.50 L274.95 221.85 L276.31 222.83 L276.72 223.85 L277.13 224.58 L277.54 225.78 L277.95 226.32 L278.36 227.45 L278.77 228.25 L279.08 228.70 L279.38 229.43 L279.69 230.89 L280.00 231.69 L280.28 231.15 L280.55 229.84 L280.83 229.49 L281.11 228.25 L282.46 226.77 L283.08 228.47 L283.69 228.74 L283.96 229.05 L284.23 230.63 L284.50 230.96 L284.78 231.99 L285.05 233.17 L285.39 234.18 L285.74 233.97 L286.08 236.25 L286.42 237.29 L286.77 237.85 L287.23 239.01 L287.69 239.98 L288.15 241.43 L288.62 241.54 L289.64 241.54 L290.67 241.54 L291.69 241.54 L292.62 241.69 L293.54 241.85 L294.46 242.00 L295.38 242.15 L296.31 241.85 L297.23 241.54 L298.15 241.23 L299.08 240.92 L299.90 241.33 L300.72 241.74 L301.54 242.15" stroke="#449433" stroke-width="1.0" fill="none" stroke-linejoin="round"/>
<path d="M243.69 228.98 L244.80 228.25 L245.91 227.51 L246.34 226.41 L246.77 226.04 L247.20 225.23 L247.63 223.69 L247.84 223.01 L248.05 221.22 L248.26 220.99 L248.47 220.06 L248.69 218.65 L248.90 218.39 L249.11 217.54 L249.35 216.98 L249.60 215.71 L249.85 214.88 L250.09 214.68 L250.34 213.23 L250.75 211.96 L251.16 210.80 L251.57 210.15 L252.31 209.54 L252.55 210.42 L252.80 211.71 L253.05 212.36 L253.29 212.98 L254.77 212.62 L256.00 213.85 L256.86 214.80 L257.72 215.69 L258.95 216.92 L259.57 215.80 L260.18 215.08 L261.66 215.94 L262.07 215.53 L262.48 214.49 L262.89 213.23 L263.14 213.56 L263.38 215.42 L263.63 216.31 L263.75 214.50 L263.88 215.22 L264.00 214.01 L264.12 212.67 L264.25 211.56 L264.37 211.11 L264.49 209.68 L264.62 209.54 L264.82 208.84 L265.03 207.49 L265.23 206.06 L265.44 205.84 L265.64 205.40 L265.85 204.00 L267.08 204.62 L268.31 204.00 L269.54 203.38 L270.77 202.77 L271.75 204.00 L271.88 204.41 L272.00 205.70 L272.12 207.50 L272.25 207.69 L272.31 208.61 L272.37 209.16 L272.43 210.31 L272.49 211.39 L272.55 211.52 L272.62 212.73 L272.68 212.96 L272.74 214.46 L272.92 214.75 L273.11 215.69 L273.29 217.57 L273.48 218.15 L274.71 219.38 L275.12 220.33 L275.53 221.32 L275.94 221.85 L276.25 223.26 L276.55 223.71 L276.86 224.71 L277.17 225.54 L278.03 226.62 L278.89 227.38 L279.75 227.26 L280.62 226.77 L281.60 226.47 L282.58 227.02 L283.57 228.00 L284.55 228.98 L285.36 228.98 L286.17 228.98 L286.98 228.98 L287.79 228.98 L288.60 228.98 L289.41 228.98 L290.22 228.98 L291.02 228.98 L291.83 228.98 L292.64 228.98 L293.45 228.98 L294.26 228.98 L295.07 228.98 L295.88 228.98 L296.69 228.98 L297.49 228.98 L298.30 228.98 L299.11 228.98 L299.92 228.98 L300.73 228.98 L301.54 228.98" stroke="#342c98" stroke-width="1.0" fill="none" stroke-linejoin="round"/>
<path d="M243.69 214.46 L244.62 213.54 L245.54 212.62 L245.86 211.78 L246.18 210.98 L246.50 210.18 L246.82 209.29 L247.14 208.55 L247.29 207.72 L247.43 206.93 L247.58 206.10 L247.73 205.31 L247.88 204.51 L248.02 203.66 L248.17 202.88 L248.32 202.04 L248.47 201.27 L248.62 200.31 L248.73 199.51 L248.84 198.52 L248.95 197.96 L249.06 196.97 L249.17 196.13 L249.28 195.21 L249.39 194.28 L249.50 193.30 L249.61 192.60 L249.72 191.69 L250.00 190.83 L250.28 189.99 L250.55 188.99 L250.83 188.37 L251.94 189.85 L252.06 190.82 L252.18 191.37 L252.31 192.20 L252.43 193.17 L252.55 194.01 L252.68 194.69 L252.80 195.59 L252.92 196.44 L253.05 197.23 L253.18 198.07 L253.32 198.92 L253.46 199.77 L253.59 200.48 L253.73 201.17 L253.87 202.37 L254.00 202.94 L254.14 203.70 L254.28 204.62 L254.50 205.61 L254.73 206.52 L254.95 207.32 L255.18 208.54 L255.41 208.99 L255.63 210.15 L256.25 211.14 L256.86 211.87 L257.48 212.74 L258.30 213.14 L259.12 213.48 L259.94 213.85 L260.87 213.92 L261.81 213.99 L262.74 214.07 L263.68 214.14 L264.62 214.22 L265.42 214.22 L266.22 214.22 L267.02 214.22 L267.83 214.22 L268.63 214.22 L269.43 214.22 L270.23 214.22 L271.04 214.22 L271.84 214.22 L272.64 214.22 L273.44 214.22 L274.25 214.22 L275.05 214.22 L275.85 214.22 L276.66 214.22 L277.46 214.22 L278.26 214.22 L279.06 214.22 L279.87 214.22 L280.67 214.22 L281.47 214.22 L282.27 214.22 L283.08 214.22 L283.88 214.22 L284.68 214.22 L285.48 214.22 L286.29 214.22 L287.09 214.22 L287.89 214.22 L288.70 214.22 L289.50 214.22 L290.30 214.22 L291.10 214.22 L291.91 214.22 L292.71 214.22 L293.51 214.22 L294.31 214.22 L295.12 214.22 L295.92 214.22 L296.72 214.22 L297.53 214.22 L298.33 214.22 L299.13 214.22 L299.93 214.22 L300.74 214.22 L301.54 214.22" stroke="#dc4124" stroke-width="1.0" fill="none" stroke-linejoin="round"/>
<path d="M243.69 300.15 L244.51 300.15 L245.33 300.15 L246.15 300.15 L246.97 300.15 L247.79 300.15 L248.62 300.15 L249.44 300.15 L250.26 300.15 L251.08 300.15 L251.90 300.15 L252.72 300.15 L253.54 300.15 L254.36 300.15 L255.18 300.15 L256.00 300.15 L256.82 300.15 L257.64 300.15 L258.46 300.15 L259.28 300.15 L260.10 300.15 L260.92 300.15 L261.74 300.15 L262.56 300.15 L263.38 300.15 L264.21 300.15 L265.03 300.15 L265.85 300.15 L266.26 299.21 L266.67 298.41 L267.08 297.32 L267.28 296.36 L267.49 295.74 L267.69 294.15 L267.90 293.70 L268.10 293.85 L268.31 292.15 L268.55 290.05 L268.80 290.84 L269.05 288.34 L269.29 288.03 L269.54 287.48 L269.85 286.95 L270.15 285.45 L270.46 284.45 L270.77 283.78 L270.91 282.29 L271.04 282.09 L271.18 281.24 L271.32 280.21 L271.45 278.98 L271.59 278.93 L271.73 278.23 L271.86 277.73 L272.00 276.40 L272.98 274.92 L273.72 276.26 L274.46 277.14 L274.64 278.74 L274.81 279.51 L274.99 278.61 L275.16 281.55 L275.34 281.66 L275.52 282.15 L275.69 283.54 L275.96 284.65 L276.22 285.80 L276.48 285.58 L276.75 286.64 L277.01 288.42 L277.27 288.77 L277.54 289.94 L277.91 291.41 L278.28 291.66 L278.65 292.13 L279.02 292.59 L279.38 294.00 L280.21 294.89 L281.03 294.45 L281.85 295.85 L282.67 295.87 L283.49 296.48 L284.31 297.69 L285.13 298.87 L285.95 299.28 L286.77 298.92 L287.59 299.33 L288.41 299.74 L289.23 300.15 L290.05 300.15 L290.87 300.15 L291.69 300.15 L292.51 300.15 L293.33 300.15 L294.15 300.15 L294.97 300.15 L295.79 300.15 L296.62 300.15 L297.44 300.15 L298.26 300.15 L299.08 300.15 L299.90 300.15 L300.72 300.15 L301.54 300.15" stroke="#449433" stroke-width="1.0" fill="none" stroke-linejoin="round"/>
<path d="M243.69 286.00 L244.15 284.99 L244.62 284.00 L245.08 283.51 L245.54 282.31 L246.00 281.88 L246.46 280.14 L246.92 280.42 L247.38 278.62 L247.85 277.61 L248.31 277.22 L248.77 274.90 L249.23 274.92 L249.85 273.79 L250.46 272.71 L251.08 271.38 L251.69 270.62 L252.31 272.46 L252.92 272.71 L253.13 273.44 L253.33 273.84 L253.54 275.95 L253.74 275.71 L253.95 276.81 L254.15 277.63 L254.46 277.99 L254.77 279.63 L255.08 280.29 L255.38 281.08 L256.31 280.35 L257.23 279.85 L258.46 278.62 L258.87 277.63 L259.28 276.74 L259.69 276.15 L260.92 277.63 L261.33 276.52 L261.74 275.42 L262.15 275.17 L263.38 273.94 L264.00 273.60 L264.62 272.66 L265.23 271.48 L265.54 270.00 L265.85 269.16 L266.15 268.87 L266.46 267.78 L266.57 267.82 L266.68 265.95 L266.78 265.03 L266.89 264.18 L267.00 263.50 L267.11 262.45 L267.22 262.08 L267.32 260.77 L267.46 261.99 L267.60 262.64 L267.75 263.88 L267.89 263.98 L268.03 264.68 L268.17 266.92 L268.31 266.55 L268.92 266.89 L269.54 268.77 L270.77 268.15 L271.18 268.35 L271.59 268.85 L272.00 270.62 L272.41 271.58 L272.82 271.83 L273.23 273.08 L273.44 274.32 L273.64 273.88 L273.85 275.48 L274.05 276.20 L274.26 276.75 L274.46 278.45 L274.67 278.66 L274.87 279.82 L275.08 280.46 L275.54 281.08 L276.00 282.18 L276.46 282.77 L276.92 283.78 L277.74 284.39 L278.56 284.89 L279.38 285.51 L280.21 286.00 L281.03 286.49 L281.85 286.98 L282.67 286.92 L283.49 286.86 L284.31 286.80 L285.13 286.74 L285.95 286.68 L286.77 286.62 L287.59 286.62 L288.41 286.62 L289.23 286.62 L290.05 286.62 L290.87 286.62 L291.69 286.62 L292.51 286.62 L293.33 286.62 L294.15 286.62 L294.97 286.62 L295.79 286.62 L296.62 286.62 L297.44 286.62 L298.26 286.62 L299.08 286.62 L299.90 286.62 L300.72 286.62 L301.54 286.62" stroke="#342c98" stroke-width="1.0" fill="none" stroke-linejoin="round"/>
<path d="M244.06 272.46 L244.06 271.66 L244.06 270.79 L244.06 270.10 L244.06 269.23 L244.06 268.35 L244.06 267.54 L244.06 266.89 L244.06 266.17 L244.06 265.11 L244.06 264.39 L244.06 263.68 L244.06 262.93 L244.06 262.10 L244.06 261.11 L244.06 260.42 L244.06 259.71 L244.06 258.84 L244.06 257.99 L244.06 257.09 L244.06 256.42 L244.06 255.60 L244.06 254.81 L244.06 254.00 L244.11 254.99 L244.16 255.80 L244.22 256.44 L244.27 257.39 L244.32 258.17 L244.37 259.06 L244.42 260.05 L244.47 260.82 L244.52 261.57 L244.57 262.34 L244.63 263.23 L244.68 264.09 L245.05 263.14 L245.42 262.07 L245.78 261.25 L246.15 260.15 L246.33 259.31 L246.51 258.35 L246.68 257.83 L246.86 256.49 L247.03 255.91 L247.21 255.08 L247.38 254.25 L247.59 253.52 L247.79 252.72 L248.00 251.93 L248.21 251.12 L248.41 250.18 L248.62 249.32 L249.03 248.35 L249.44 247.46 L249.85 246.37 L251.08 247.85 L251.25 248.72 L251.43 249.48 L251.60 250.44 L251.78 251.43 L251.96 252.30 L252.13 253.01 L252.31 254.00 L252.44 254.94 L252.58 255.67 L252.72 256.31 L252.85 257.33 L252.99 258.20 L253.13 258.98 L253.26 259.71 L253.40 260.48 L253.54 261.38 L253.70 262.42 L253.87 263.25 L254.03 264.15 L254.19 265.04 L254.36 265.90 L254.52 266.92 L255.02 267.76 L255.51 268.94 L256.00 270.00 L256.82 270.73 L257.64 271.31 L258.46 271.85 L259.38 272.00 L260.31 272.15 L261.23 272.31 L262.15 272.46 L262.96 272.46 L263.76 272.46 L264.57 272.46 L265.37 272.46 L266.17 272.46 L266.98 272.46 L267.78 272.46 L268.58 272.46 L269.39 272.46 L270.19 272.46 L271.00 272.46 L271.80 272.46 L272.60 272.46 L273.41 272.46 L274.21 272.46 L275.01 272.46 L275.82 272.46 L276.62 272.46 L277.43 272.46 L278.23 272.46 L279.03 272.46 L279.84 272.46 L280.64 272.46 L281.44 272.46 L282.25 272.46 L283.05 272.46 L283.86 272.46 L284.66 272.46 L285.46 272.46 L286.27 272.46 L287.07 272.46 L287.87 272.46 L288.68 272.46 L289.48 272.46 L290.29 272.46 L291.09 272.46 L291.89 272.46 L292.70 272.46 L293.50 272.46 L294.30 272.46 L295.11 272.46 L295.91 272.46 L296.72 272.46 L297.52 272.46 L298.32 272.46 L299.13 272.46 L299.93 272.46 L300.73 272.46 L301.54 272.46" stroke="#dc4124" stroke-width="1.0" fill="none" stroke-linejoin="round"/>
</g>
<rect x="243.4" y="68.7" width="57.99999999999997" height="232.10000000000002" fill="none" stroke="#1a1a1a" stroke-width="1.1"/>
<line x1="243.4" y1="126.8" x2="301.4" y2="126.8" stroke="#333" stroke-width="1.3"/>
<line x1="243.4" y1="184.8" x2="301.4" y2="184.8" stroke="#333" stroke-width="1.3"/>
<line x1="243.4" y1="242.8" x2="301.4" y2="242.8" stroke="#333" stroke-width="1.3"/>
<line x1="249.20000000000002" y1="300.8" x2="249.20000000000002" y2="302.8" stroke="#111" stroke-width="0.8"/>
<line x1="256.4" y1="300.8" x2="256.4" y2="302.8" stroke="#111" stroke-width="0.8"/>
<line x1="269.2" y1="300.8" x2="269.2" y2="302.8" stroke="#111" stroke-width="0.8"/>
<line x1="283.0" y1="300.8" x2="283.0" y2="302.8" stroke="#111" stroke-width="0.8"/>
<line x1="295.9" y1="300.8" x2="295.9" y2="302.8" stroke="#111" stroke-width="0.8"/>
<line x1="245.4" y1="300.8" x2="245.4" y2="302.0" stroke="#333" stroke-width="0.5"/>
<line x1="247.4" y1="300.8" x2="247.4" y2="302.0" stroke="#333" stroke-width="0.5"/>
<line x1="251.4" y1="300.8" x2="251.4" y2="302.0" stroke="#333" stroke-width="0.5"/>
<line x1="253.4" y1="300.8" x2="253.4" y2="302.0" stroke="#333" stroke-width="0.5"/>
<line x1="254.9" y1="300.8" x2="254.9" y2="302.0" stroke="#333" stroke-width="0.5"/>
<line x1="259.4" y1="300.8" x2="259.4" y2="302.0" stroke="#333" stroke-width="0.5"/>
<line x1="262.4" y1="300.8" x2="262.4" y2="302.0" stroke="#333" stroke-width="0.5"/>
<line x1="264.4" y1="300.8" x2="264.4" y2="302.0" stroke="#333" stroke-width="0.5"/>
<line x1="266.4" y1="300.8" x2="266.4" y2="302.0" stroke="#333" stroke-width="0.5"/>
<line x1="267.9" y1="300.8" x2="267.9" y2="302.0" stroke="#333" stroke-width="0.5"/>
<line x1="272.4" y1="300.8" x2="272.4" y2="302.0" stroke="#333" stroke-width="0.5"/>
<line x1="275.4" y1="300.8" x2="275.4" y2="302.0" stroke="#333" stroke-width="0.5"/>
<line x1="277.9" y1="300.8" x2="277.9" y2="302.0" stroke="#333" stroke-width="0.5"/>
<line x1="279.9" y1="300.8" x2="279.9" y2="302.0" stroke="#333" stroke-width="0.5"/>
<line x1="281.4" y1="300.8" x2="281.4" y2="302.0" stroke="#333" stroke-width="0.5"/>
<line x1="286.4" y1="300.8" x2="286.4" y2="302.0" stroke="#333" stroke-width="0.5"/>
<line x1="289.4" y1="300.8" x2="289.4" y2="302.0" stroke="#333" stroke-width="0.5"/>
<line x1="291.4" y1="300.8" x2="291.4" y2="302.0" stroke="#333" stroke-width="0.5"/>
<line x1="293.4" y1="300.8" x2="293.4" y2="302.0" stroke="#333" stroke-width="0.5"/>
<line x1="294.9" y1="300.8" x2="294.9" y2="302.0" stroke="#333" stroke-width="0.5"/>
<line x1="298.4" y1="300.8" x2="298.4" y2="302.0" stroke="#333" stroke-width="0.5"/>
<text x="250.70000000000002" y="312.9" font-size="7.1" fill="#231f20" text-anchor="end" textLength="3.1" lengthAdjust="spacingAndGlyphs" stroke="#231f20" stroke-width="0.25">0</text>
<text x="253.7" y="312.9" font-size="7.1" fill="#231f20" textLength="5.6" lengthAdjust="spacingAndGlyphs" stroke="#231f20" stroke-width="0.25">10</text>
<text x="259.5" y="309.6" font-size="4.3" fill="#231f20" stroke="#231f20" stroke-width="0.18">2</text>
<text x="266.1" y="312.9" font-size="7.1" fill="#231f20" textLength="5.6" lengthAdjust="spacingAndGlyphs" stroke="#231f20" stroke-width="0.25">10</text>
<text x="271.9" y="309.6" font-size="4.3" fill="#231f20" stroke="#231f20" stroke-width="0.18">3</text>
<text x="279.5" y="312.9" font-size="7.1" fill="#231f20" textLength="5.6" lengthAdjust="spacingAndGlyphs" stroke="#231f20" stroke-width="0.25">10</text>
<text x="285.3" y="309.6" font-size="4.3" fill="#231f20" stroke="#231f20" stroke-width="0.18">4</text>
<text x="292.3" y="312.9" font-size="7.1" fill="#231f20" textLength="5.6" lengthAdjust="spacingAndGlyphs" stroke="#231f20" stroke-width="0.25">10</text>
<text x="298.1" y="309.6" font-size="4.3" fill="#231f20" stroke="#231f20" stroke-width="0.18">5</text>
<clipPath id="hc2"><rect x="315.4" y="68.7" width="58.10000000000002" height="232.10000000000002"/></clipPath>
<g clip-path="url(#hc2)">
<path d="M315.69 126.77 L316.50 126.76 L317.32 126.75 L318.13 126.74 L318.94 126.73 L319.75 126.72 L320.57 126.71 L321.38 126.70 L322.19 126.69 L323.00 126.68 L323.82 126.67 L324.63 126.66 L325.44 126.65 L326.25 126.64 L327.06 126.63 L327.88 126.62 L328.69 126.61 L329.50 126.60 L330.31 126.59 L331.13 126.58 L331.94 126.57 L332.75 126.56 L333.56 126.55 L334.38 126.54 L335.19 126.53 L336.00 126.52 L336.25 125.28 L336.49 125.34 L336.74 123.61 L336.98 122.33 L337.23 121.85 L337.35 121.43 L337.48 120.75 L337.60 119.09 L337.72 117.85 L337.85 117.51 L337.97 115.58 L338.09 115.84 L338.22 115.64 L338.34 114.22 L338.46 113.23 L338.57 112.06 L338.68 111.88 L338.79 110.50 L338.90 110.46 L339.02 108.88 L339.13 109.13 L339.24 107.21 L339.35 106.62 L339.46 105.27 L339.57 104.86 L339.77 103.37 L339.96 103.20 L340.16 102.29 L340.36 100.78 L340.55 100.31 L341.05 101.48 L341.54 102.15 L341.95 102.79 L342.36 103.55 L342.77 104.62 L343.02 105.44 L343.26 106.52 L343.51 107.53 L343.75 108.06 L344.74 107.08 L344.98 108.56 L345.23 109.10 L345.48 109.52 L345.72 110.77 L345.92 111.34 L346.11 112.69 L346.30 112.87 L346.50 114.21 L346.69 114.99 L346.88 116.00 L347.08 116.92 L348.31 118.15 L349.54 116.92 L350.77 118.15 L351.38 117.31 L352.00 116.31 L352.25 115.92 L352.49 115.32 L352.74 114.12 L352.98 113.32 L353.23 112.00 L353.44 110.59 L353.64 110.62 L353.85 109.82 L354.05 107.70 L354.26 108.53 L354.46 106.46 L355.69 105.85 L356.55 107.08 L356.80 105.92 L357.05 104.20 L357.29 104.37 L357.39 106.01 L357.48 106.09 L357.58 106.55 L357.68 107.50 L357.77 109.09 L357.87 109.57 L357.96 110.13 L358.06 111.67 L358.15 112.00 L358.35 112.46 L358.54 113.37 L358.73 114.38 L358.93 115.18 L359.12 116.71 L359.31 117.17 L359.51 118.15 L359.79 118.54 L360.08 119.67 L360.37 119.84 L360.66 121.67 L360.94 122.51 L361.23 123.32 L361.60 124.40 L361.97 124.82 L362.34 125.90 L362.71 126.52 L363.54 126.54 L364.37 126.56 L365.21 126.58 L366.04 126.60 L366.87 126.62 L367.71 126.64 L368.54 126.66 L369.37 126.67 L370.21 126.69 L371.04 126.71 L371.87 126.73 L372.71 126.75 L373.54 126.77" stroke="#449433" stroke-width="1.0" fill="none" stroke-linejoin="round"/>
<path d="M315.69 112.98 L316.54 112.96 L317.38 112.94 L318.23 112.92 L319.08 112.89 L319.92 112.87 L320.77 112.85 L321.62 112.82 L322.46 112.80 L323.31 112.78 L324.15 112.75 L325.00 112.73 L325.85 112.71 L326.69 112.68 L327.54 112.66 L328.38 112.64 L329.23 112.62 L330.05 112.21 L330.87 111.42 L331.69 111.38 L332.31 110.37 L332.92 109.40 L333.54 108.31 L333.74 107.00 L333.95 106.90 L334.15 105.90 L334.36 105.05 L334.56 104.01 L334.77 103.38 L334.95 103.34 L335.12 101.70 L335.30 100.54 L335.47 99.67 L335.65 99.40 L335.82 98.24 L336.00 97.48 L336.40 96.24 L336.80 95.34 L337.20 95.08 L337.60 93.78 L338.17 92.83 L338.75 92.24 L339.32 90.83 L339.73 90.00 L340.14 88.72 L340.55 88.37 L340.92 87.61 L341.29 86.15 L341.51 87.20 L341.72 87.74 L341.94 88.80 L342.15 89.85 L343.02 91.08 L343.43 91.51 L343.84 93.05 L344.25 93.54 L344.49 94.29 L344.74 95.58 L344.98 96.41 L345.23 97.23 L345.44 97.95 L345.64 99.02 L345.85 99.59 L346.05 100.04 L346.26 101.17 L346.46 102.15 L346.92 102.60 L347.38 104.30 L347.85 105.18 L348.31 105.85 L348.77 106.53 L349.23 107.94 L349.69 108.71 L350.15 109.54 L350.77 110.75 L351.38 110.81 L352.00 112.00 L352.92 112.49 L353.85 112.98 L354.67 112.98 L355.49 112.98 L356.31 112.98 L357.13 112.98 L357.95 112.98 L358.77 112.98 L359.59 112.98 L360.41 112.98 L361.23 112.98 L362.05 112.98 L362.87 112.98 L363.69 112.98 L364.51 112.98 L365.33 112.98 L366.15 112.98 L366.97 112.98 L367.79 112.98 L368.62 112.98 L369.44 112.98 L370.26 112.98 L371.08 112.98 L371.90 112.98 L372.72 112.98 L373.54 112.98" stroke="#342c98" stroke-width="1.0" fill="none" stroke-linejoin="round"/>
<path d="M315.69 98.46 L316.62 98.34 L317.54 98.22 L318.46 98.09 L319.38 97.97 L319.79 96.99 L320.21 95.90 L320.62 95.02 L320.74 94.09 L320.86 93.43 L320.98 92.23 L321.11 91.48 L321.23 90.76 L321.35 89.92 L321.48 88.91 L321.60 87.92 L321.72 87.09 L321.85 86.40 L321.93 85.62 L322.01 84.87 L322.09 84.03 L322.17 83.04 L322.26 82.43 L322.34 81.46 L322.42 80.72 L322.50 79.82 L322.58 79.17 L322.67 78.14 L322.75 77.16 L322.83 76.55 L323.00 75.69 L323.18 74.90 L323.35 74.07 L323.52 73.13 L323.69 72.37 L324.31 71.38 L324.80 72.28 L325.29 73.23 L325.39 73.92 L325.49 74.81 L325.59 75.64 L325.69 76.45 L325.78 77.40 L325.88 77.83 L325.98 78.88 L326.08 79.67 L326.18 80.32 L326.28 81.23 L326.37 82.08 L326.46 82.91 L326.55 83.65 L326.63 84.66 L326.72 85.62 L326.81 86.33 L326.90 87.18 L326.99 88.05 L327.08 88.77 L327.17 89.72 L327.26 90.46 L327.47 91.26 L327.67 92.24 L327.88 93.18 L328.08 94.12 L328.29 94.84 L328.49 95.75 L329.31 96.42 L330.13 97.20 L330.95 97.85 L331.84 97.97 L332.73 98.09 L333.61 98.22 L334.50 98.34 L335.38 98.46 L336.20 98.46 L337.01 98.46 L337.82 98.46 L338.63 98.46 L339.44 98.46 L340.26 98.46 L341.07 98.46 L341.88 98.46 L342.69 98.46 L343.50 98.46 L344.31 98.46 L345.13 98.46 L345.94 98.46 L346.75 98.46 L347.56 98.46 L348.37 98.46 L349.18 98.46 L350.00 98.46 L350.81 98.46 L351.62 98.46 L352.43 98.46 L353.24 98.46 L354.06 98.46 L354.87 98.46 L355.68 98.46 L356.49 98.46 L357.30 98.46 L358.11 98.46 L358.93 98.46 L359.74 98.46 L360.55 98.46 L361.36 98.46 L362.17 98.46 L362.99 98.46 L363.80 98.46 L364.61 98.46 L365.42 98.46 L366.23 98.46 L367.04 98.46 L367.86 98.46 L368.67 98.46 L369.48 98.46 L370.29 98.46 L371.10 98.46 L371.91 98.46 L372.73 98.46 L373.54 98.46" stroke="#dc4124" stroke-width="1.0" fill="none" stroke-linejoin="round"/>
<path d="M315.69 184.52 L316.51 184.52 L317.33 184.52 L318.15 184.52 L318.97 184.52 L319.79 184.52 L320.62 184.52 L321.44 184.52 L322.26 184.52 L323.08 184.52 L323.90 184.52 L324.72 184.52 L325.54 184.52 L326.36 184.52 L327.18 184.52 L328.00 184.52 L328.82 184.52 L329.64 184.52 L330.46 184.52 L331.28 184.52 L332.10 184.52 L332.92 184.52 L333.74 184.52 L334.56 184.52 L335.38 184.52 L335.69 183.66 L336.00 182.76 L336.31 182.00 L336.62 181.08 L336.77 180.62 L336.92 179.09 L337.08 179.01 L337.23 177.97 L337.38 176.86 L337.54 175.59 L337.69 175.05 L337.85 174.49 L338.00 174.11 L338.15 171.99 L338.31 172.37 L338.46 171.23 L338.62 170.46 L338.78 169.00 L338.94 169.03 L339.10 167.96 L339.26 167.12 L339.42 165.62 L339.58 164.70 L339.74 164.75 L339.90 164.11 L340.06 162.62 L340.31 161.92 L340.55 160.81 L340.80 159.83 L341.05 158.40 L341.29 158.31 L341.59 159.61 L341.88 159.99 L342.18 161.44 L342.47 161.43 L342.77 162.62 L342.98 163.97 L343.19 164.05 L343.40 165.51 L343.61 166.75 L343.82 166.70 L344.04 168.30 L344.25 168.77 L344.47 169.65 L344.70 170.11 L344.93 171.50 L345.16 172.57 L345.39 172.85 L345.62 173.92 L345.85 174.92 L346.11 175.55 L346.37 176.34 L346.64 177.47 L346.90 178.81 L347.16 179.10 L347.43 180.75 L347.69 181.08 L348.31 181.93 L348.92 182.82 L349.54 184.15 L350.46 184.34 L351.38 184.52 L352.21 184.52 L353.03 184.52 L353.85 184.52 L354.67 184.52 L355.49 184.52 L356.31 184.52 L357.13 184.52 L357.95 184.52 L358.77 184.52 L359.59 184.52 L360.41 184.52 L361.23 184.52 L362.05 184.52 L362.87 184.52 L363.69 184.52 L364.51 184.52 L365.33 184.52 L366.15 184.52 L366.97 184.52 L367.79 184.52 L368.62 184.52 L369.44 184.52 L370.26 184.52 L371.08 184.52 L371.90 184.52 L372.72 184.52 L373.54 184.52" stroke="#449433" stroke-width="1.0" fill="none" stroke-linejoin="round"/>
<path d="M315.69 170.62 L316.51 170.58 L317.33 170.55 L318.15 170.51 L318.97 170.48 L319.79 170.44 L320.62 170.41 L321.44 170.38 L322.26 170.34 L323.08 170.31 L323.90 170.27 L324.72 170.24 L325.54 170.21 L326.36 170.17 L327.18 170.14 L328.00 170.10 L328.82 170.07 L329.64 170.03 L330.46 170.00 L331.08 169.60 L331.69 168.92 L332.31 167.54 L332.54 166.40 L332.76 166.01 L332.99 164.44 L333.22 163.86 L333.45 162.99 L333.68 162.54 L333.91 161.38 L334.06 160.02 L334.20 159.46 L334.35 158.53 L334.50 157.98 L334.65 156.59 L334.79 155.68 L334.94 156.47 L335.09 154.58 L335.24 153.03 L335.38 152.77 L335.56 152.22 L335.74 150.49 L335.91 149.39 L336.09 149.91 L336.26 148.87 L336.44 147.16 L336.62 146.62 L337.11 145.36 L337.60 145.16 L338.09 144.15 L338.50 145.78 L338.91 146.03 L339.32 146.62 L339.50 147.76 L339.67 147.90 L339.85 148.55 L340.03 150.29 L340.20 151.41 L340.38 151.94 L340.55 152.77 L340.71 153.63 L340.87 155.04 L341.03 155.02 L341.19 156.65 L341.35 157.41 L341.51 157.69 L341.67 158.85 L341.83 159.70 L341.99 160.75 L342.15 161.38 L342.46 161.92 L342.77 163.14 L343.08 164.19 L343.38 165.09 L343.69 166.01 L344.00 166.92 L344.62 167.84 L345.23 168.49 L345.85 169.38 L346.67 169.79 L347.49 170.21 L348.31 170.62 L349.12 170.62 L349.94 170.62 L350.75 170.62 L351.56 170.62 L352.38 170.62 L353.19 170.62 L354.00 170.62 L354.82 170.62 L355.63 170.62 L356.45 170.62 L357.26 170.62 L358.07 170.62 L358.89 170.62 L359.70 170.62 L360.52 170.62 L361.33 170.62 L362.14 170.62 L362.96 170.62 L363.77 170.62 L364.59 170.62 L365.40 170.62 L366.21 170.62 L367.03 170.62 L367.84 170.62 L368.66 170.62 L369.47 170.62 L370.28 170.62 L371.10 170.62 L371.91 170.62 L372.72 170.62 L373.54 170.62" stroke="#342c98" stroke-width="1.0" fill="none" stroke-linejoin="round"/>
<path d="M315.69 156.46 L316.55 156.41 L317.42 156.36 L318.28 156.31 L319.14 156.26 L320.00 156.22 L320.41 155.22 L320.82 154.43 L321.23 153.38 L321.34 152.48 L321.45 151.67 L321.57 150.78 L321.68 149.91 L321.79 149.23 L321.90 148.35 L322.01 147.50 L322.13 146.72 L322.24 145.82 L322.35 145.06 L322.46 144.15 L322.58 143.47 L322.71 142.47 L322.83 141.54 L322.95 140.87 L323.08 139.92 L323.20 138.82 L323.32 138.25 L323.45 137.28 L323.57 136.48 L323.69 135.54 L323.86 134.50 L324.02 133.61 L324.18 132.71 L324.35 131.90 L324.51 130.81 L324.68 130.00 L325.05 130.96 L325.42 132.15 L325.78 133.08 L325.93 133.89 L326.07 134.85 L326.21 135.63 L326.35 136.43 L326.49 137.46 L326.63 138.34 L326.77 139.23 L326.88 139.91 L326.99 140.97 L327.10 141.77 L327.21 142.60 L327.32 143.28 L327.43 144.04 L327.54 144.97 L327.64 145.81 L327.75 146.62 L328.00 147.46 L328.25 148.28 L328.49 149.10 L328.74 149.99 L328.98 150.92 L329.72 151.84 L330.46 152.77 L331.38 153.64 L332.31 154.62 L333.13 155.19 L333.95 155.41 L334.77 155.85 L335.69 156.15 L336.62 156.46 L337.42 156.46 L338.22 156.46 L339.02 156.46 L339.83 156.46 L340.63 156.46 L341.43 156.46 L342.23 156.46 L343.04 156.46 L343.84 156.46 L344.64 156.46 L345.44 156.46 L346.25 156.46 L347.05 156.46 L347.85 156.46 L348.66 156.46 L349.46 156.46 L350.26 156.46 L351.06 156.46 L351.87 156.46 L352.67 156.46 L353.47 156.46 L354.27 156.46 L355.08 156.46 L355.88 156.46 L356.68 156.46 L357.48 156.46 L358.29 156.46 L359.09 156.46 L359.89 156.46 L360.70 156.46 L361.50 156.46 L362.30 156.46 L363.10 156.46 L363.91 156.46 L364.71 156.46 L365.51 156.46 L366.31 156.46 L367.12 156.46 L367.92 156.46 L368.72 156.46 L369.53 156.46 L370.33 156.46 L371.13 156.46 L371.93 156.46 L372.74 156.46 L373.54 156.46" stroke="#dc4124" stroke-width="1.0" fill="none" stroke-linejoin="round"/>
<path d="M315.69 242.15 L316.51 242.15 L317.33 242.15 L318.15 242.15 L318.97 242.15 L319.79 242.15 L320.62 242.15 L321.44 242.15 L322.26 242.15 L323.08 242.15 L323.90 242.15 L324.72 242.15 L325.54 242.15 L326.36 242.15 L327.18 242.15 L328.00 242.15 L328.82 242.15 L329.64 242.15 L330.46 242.15 L331.49 241.95 L332.51 241.74 L333.54 241.54 L334.00 240.82 L334.46 239.49 L334.92 238.69 L335.38 237.85 L335.69 236.49 L336.00 235.79 L336.31 234.41 L336.62 234.15 L337.23 232.42 L337.85 233.11 L338.46 231.69 L338.67 230.40 L338.87 230.24 L339.08 229.17 L339.28 228.16 L339.49 227.91 L339.69 226.77 L339.94 225.66 L340.18 225.24 L340.43 224.02 L340.68 223.75 L340.92 222.46 L341.13 223.81 L341.33 224.34 L341.54 225.71 L341.74 226.38 L341.95 227.76 L342.15 228.00 L342.46 227.02 L342.77 225.47 L343.08 225.32 L343.38 224.31 L343.52 223.59 L343.66 222.51 L343.79 221.75 L343.93 220.91 L344.07 219.65 L344.21 220.14 L344.34 218.22 L344.48 217.27 L344.62 216.92 L344.90 217.05 L345.19 218.19 L345.48 219.38 L345.58 220.25 L345.69 221.79 L345.79 222.29 L345.90 222.58 L346.00 223.23 L346.11 224.16 L346.22 225.54 L346.43 226.42 L346.65 227.77 L346.86 228.10 L347.08 229.23 L348.00 230.55 L348.92 230.46 L349.85 231.93 L350.77 231.69 L351.69 232.07 L352.62 232.31 L353.23 230.33 L353.85 230.74 L354.46 229.23 L355.69 230.46 L356.15 231.34 L356.62 232.60 L357.08 233.67 L357.54 234.15 L357.85 234.53 L358.15 235.82 L358.46 236.69 L358.77 237.10 L359.08 238.56 L359.38 239.08 L359.79 240.04 L360.21 240.95 L360.62 242.15 L361.42 242.15 L362.23 242.15 L363.04 242.15 L363.85 242.15 L364.65 242.15 L365.46 242.15 L366.27 242.15 L367.08 242.15 L367.88 242.15 L368.69 242.15 L369.50 242.15 L370.31 242.15 L371.12 242.15 L371.92 242.15 L372.73 242.15 L373.54 242.15" stroke="#449433" stroke-width="1.0" fill="none" stroke-linejoin="round"/>
<path d="M315.69 228.98 L316.72 228.86 L317.74 228.74 L318.77 228.62 L319.18 228.33 L319.59 226.63 L320.00 225.54 L320.12 225.32 L320.25 223.75 L320.37 223.36 L320.49 221.80 L320.62 221.29 L320.74 220.79 L320.86 218.66 L320.98 218.86 L321.11 217.68 L321.23 216.92 L321.37 216.53 L321.50 215.35 L321.64 214.43 L321.78 213.14 L321.91 213.97 L322.05 211.71 L322.19 211.05 L322.32 210.08 L322.46 209.54 L322.68 208.50 L322.89 207.78 L323.11 206.25 L323.32 205.85 L323.57 205.23 L323.82 203.69 L324.06 202.77 L324.35 204.03 L324.64 203.99 L324.92 205.85 L325.23 206.56 L325.54 207.57 L325.85 208.46 L326.15 209.54 L326.56 210.10 L326.97 211.30 L327.38 212.00 L327.69 213.08 L328.00 213.46 L328.31 214.00 L328.62 215.69 L329.85 216.92 L331.08 216.31 L332.31 216.92 L332.92 216.28 L333.54 215.08 L333.95 214.13 L334.36 213.85 L334.77 212.62 L336.00 213.23 L336.41 212.75 L336.82 211.55 L337.23 210.77 L337.44 209.18 L337.64 208.58 L337.85 207.69 L338.00 208.33 L338.15 210.02 L338.31 209.80 L338.46 211.38 L339.69 210.77 L340.92 210.15 L341.54 211.43 L342.15 212.00 L342.40 212.26 L342.65 213.50 L342.89 214.03 L343.14 215.17 L343.38 216.31 L343.59 217.06 L343.79 218.30 L344.00 218.84 L344.21 220.27 L344.41 221.61 L344.62 221.85 L344.82 222.73 L345.03 223.04 L345.23 224.24 L345.44 225.09 L345.64 225.81 L345.85 226.77 L346.77 227.52 L347.69 227.38 L348.51 228.04 L349.33 228.58 L350.15 228.00 L350.97 228.41 L351.79 228.82 L352.62 229.23 L353.42 229.22 L354.22 229.21 L355.03 229.20 L355.83 229.19 L356.64 229.18 L357.44 229.17 L358.25 229.16 L359.05 229.16 L359.86 229.15 L360.66 229.14 L361.47 229.13 L362.27 229.12 L363.08 229.11 L363.88 229.10 L364.69 229.09 L365.49 229.08 L366.30 229.07 L367.10 229.06 L367.91 229.05 L368.71 229.04 L369.51 229.03 L370.32 229.02 L371.12 229.01 L371.93 229.00 L372.73 228.99 L373.54 228.98" stroke="#342c98" stroke-width="1.0" fill="none" stroke-linejoin="round"/>
<path d="M315.69 214.46 L316.72 214.26 L317.74 214.05 L318.77 213.85 L319.02 213.04 L319.26 211.86 L319.51 211.25 L319.75 210.46 L320.00 209.54 L320.10 208.64 L320.21 207.84 L320.31 207.17 L320.41 206.27 L320.51 205.33 L320.62 204.56 L320.72 203.49 L320.82 202.97 L320.92 202.03 L321.03 201.33 L321.13 200.40 L321.23 199.69 L321.34 198.78 L321.45 198.00 L321.56 197.50 L321.67 196.29 L321.78 195.47 L321.89 194.72 L322.00 194.05 L322.11 193.21 L322.22 192.31 L322.49 191.39 L322.77 190.31 L323.05 189.37 L323.32 188.37 L323.57 189.28 L323.82 190.32 L324.06 191.24 L324.31 192.31 L324.42 192.99 L324.53 193.85 L324.64 194.96 L324.75 195.63 L324.85 196.34 L324.96 197.22 L325.07 198.01 L325.18 198.99 L325.29 199.69 L325.43 200.51 L325.57 201.27 L325.70 202.22 L325.84 203.01 L325.98 203.73 L326.11 204.54 L326.25 205.45 L326.39 206.10 L326.52 207.08 L326.82 207.85 L327.11 208.90 L327.41 209.75 L327.70 210.63 L328.00 211.38 L328.82 211.96 L329.64 212.56 L330.46 213.23 L331.49 213.56 L332.51 213.89 L333.54 214.22 L334.34 214.22 L335.14 214.22 L335.94 214.22 L336.74 214.22 L337.54 214.22 L338.34 214.22 L339.14 214.22 L339.94 214.22 L340.74 214.22 L341.54 214.22 L342.34 214.22 L343.14 214.22 L343.94 214.22 L344.74 214.22 L345.54 214.22 L346.34 214.22 L347.14 214.22 L347.94 214.22 L348.74 214.22 L349.54 214.22 L350.34 214.22 L351.14 214.22 L351.94 214.22 L352.74 214.22 L353.54 214.22 L354.34 214.22 L355.14 214.22 L355.94 214.22 L356.74 214.22 L357.54 214.22 L358.34 214.22 L359.14 214.22 L359.94 214.22 L360.74 214.22 L361.54 214.22 L362.34 214.22 L363.14 214.22 L363.94 214.22 L364.74 214.22 L365.54 214.22 L366.34 214.22 L367.14 214.22 L367.94 214.22 L368.74 214.22 L369.54 214.22 L370.34 214.22 L371.14 214.22 L371.94 214.22 L372.74 214.22 L373.54 214.22" stroke="#dc4124" stroke-width="1.0" fill="none" stroke-linejoin="round"/>
<path d="M315.69 300.15 L316.50 300.15 L317.31 300.15 L318.13 300.15 L318.94 300.15 L319.75 300.15 L320.56 300.15 L321.37 300.15 L322.18 300.15 L322.99 300.15 L323.80 300.15 L324.62 300.15 L325.43 300.15 L326.24 300.15 L327.05 300.15 L327.86 300.15 L328.67 300.15 L329.48 300.15 L330.29 300.15 L331.10 300.15 L331.92 300.15 L332.73 300.15 L333.54 300.15 L334.15 299.00 L334.77 297.89 L335.38 297.08 L335.65 296.76 L335.91 295.22 L336.18 295.03 L336.44 293.25 L336.70 292.84 L336.97 292.51 L337.23 290.92 L337.46 289.71 L337.69 288.88 L337.92 288.02 L338.15 286.69 L338.37 286.39 L338.60 285.36 L338.83 284.77 L339.08 284.91 L339.32 282.92 L339.57 281.37 L339.82 281.90 L340.06 281.08 L340.31 279.85 L340.55 278.97 L340.80 278.24 L341.05 277.58 L341.29 276.15 L341.54 275.54 L342.77 274.31 L343.26 275.25 L343.75 276.15 L344.62 274.92 L345.23 274.31 L345.44 275.29 L345.64 276.88 L345.85 277.69 L346.05 278.07 L346.26 278.33 L346.46 279.85 L346.64 281.11 L346.81 281.58 L346.99 283.00 L347.16 283.38 L347.34 284.32 L347.52 285.40 L347.69 286.00 L347.90 286.50 L348.10 287.35 L348.31 289.47 L348.51 288.90 L348.72 290.51 L348.92 290.92 L349.74 291.83 L350.56 292.51 L351.38 292.77 L352.41 293.77 L353.44 293.00 L354.46 294.00 L355.49 295.03 L356.51 294.32 L357.54 295.85 L358.56 296.68 L359.59 297.63 L360.62 298.31 L361.64 299.37 L362.67 299.54 L363.69 300.15 L364.51 300.15 L365.33 300.15 L366.15 300.15 L366.97 300.15 L367.79 300.15 L368.62 300.15 L369.44 300.15 L370.26 300.15 L371.08 300.15 L371.90 300.15 L372.72 300.15 L373.54 300.15" stroke="#449433" stroke-width="1.0" fill="none" stroke-linejoin="round"/>
<path d="M315.69 286.62 L316.51 286.21 L317.33 285.79 L318.15 285.38 L318.40 284.95 L318.65 283.29 L318.89 282.69 L319.14 281.87 L319.38 281.08 L319.52 279.98 L319.66 279.11 L319.79 278.35 L319.93 278.24 L320.07 277.51 L320.21 276.44 L320.34 275.99 L320.48 274.54 L320.62 273.69 L320.75 272.44 L320.89 271.79 L321.03 271.31 L321.16 270.81 L321.30 270.06 L321.44 268.42 L321.57 268.32 L321.71 266.92 L321.85 266.31 L322.05 265.62 L322.26 264.81 L322.46 264.12 L322.67 262.41 L322.87 261.79 L323.08 260.77 L323.49 261.96 L323.90 262.66 L324.31 263.85 L324.55 264.80 L324.80 265.92 L325.05 265.97 L325.29 267.54 L325.42 268.16 L325.54 270.19 L325.66 270.35 L325.78 270.83 L325.91 271.21 L326.03 272.44 L326.15 273.69 L327.38 274.92 L328.31 276.05 L329.23 276.77 L329.85 277.85 L330.46 278.58 L331.08 279.23 L331.32 278.59 L331.57 277.27 L331.82 277.26 L332.06 275.34 L332.31 274.92 L332.62 274.19 L332.92 272.97 L333.23 271.48 L333.54 271.23 L334.15 272.51 L334.77 273.08 L335.18 271.94 L335.59 271.30 L336.00 270.00 L336.41 269.67 L336.82 268.42 L337.23 267.54 L337.85 268.20 L338.46 269.38 L339.69 270.62 L340.12 269.61 L340.55 268.77 L340.88 269.56 L341.21 270.98 L341.54 271.23 L341.85 272.48 L342.15 273.70 L342.46 274.29 L342.77 274.92 L343.08 275.55 L343.38 277.12 L343.69 278.07 L344.00 278.62 L344.46 279.49 L344.92 280.64 L345.38 281.26 L345.85 282.31 L346.46 282.63 L347.08 283.91 L347.69 284.77 L348.51 285.27 L349.33 285.03 L350.15 285.38 L350.97 285.79 L351.79 286.21 L352.62 286.62 L353.42 286.62 L354.22 286.62 L355.03 286.62 L355.83 286.62 L356.64 286.62 L357.44 286.62 L358.25 286.62 L359.05 286.62 L359.86 286.62 L360.66 286.62 L361.47 286.62 L362.27 286.62 L363.08 286.62 L363.88 286.62 L364.69 286.62 L365.49 286.62 L366.30 286.62 L367.10 286.62 L367.91 286.62 L368.71 286.62 L369.51 286.62 L370.32 286.62 L371.12 286.62 L371.93 286.62 L372.73 286.62 L373.54 286.62" stroke="#342c98" stroke-width="1.0" fill="none" stroke-linejoin="round"/>
<path d="M315.69 272.46 L316.51 272.26 L317.33 272.05 L318.15 271.85 L318.45 270.76 L318.74 270.04 L319.04 269.37 L319.34 268.42 L319.63 267.54 L319.75 266.79 L319.88 265.74 L320.00 264.91 L320.12 263.99 L320.25 263.15 L320.37 262.42 L320.49 261.52 L320.62 260.60 L320.74 259.81 L320.86 258.92 L320.96 257.93 L321.06 257.16 L321.16 256.19 L321.26 255.33 L321.35 254.48 L321.45 253.65 L321.55 253.04 L321.65 252.17 L321.75 251.29 L321.85 250.31 L322.09 249.39 L322.34 248.64 L322.58 247.61 L322.83 246.81 L323.08 246.00 L323.49 247.05 L323.90 247.89 L324.31 249.08 L324.42 249.92 L324.53 250.78 L324.64 251.33 L324.75 252.12 L324.85 253.15 L324.96 253.99 L325.07 254.83 L325.18 255.53 L325.29 256.46 L325.43 257.34 L325.57 258.11 L325.70 258.85 L325.84 259.90 L325.98 260.59 L326.11 261.46 L326.25 262.39 L326.39 262.98 L326.52 263.85 L326.77 264.64 L327.02 265.32 L327.26 266.29 L327.51 267.17 L327.75 268.20 L328.00 268.77 L328.82 269.64 L329.64 270.43 L330.46 271.23 L331.28 271.56 L332.10 271.89 L332.92 272.22 L333.74 272.22 L334.55 272.22 L335.36 272.22 L336.17 272.22 L336.98 272.22 L337.80 272.22 L338.61 272.22 L339.42 272.22 L340.23 272.22 L341.05 272.22 L341.86 272.22 L342.67 272.22 L343.48 272.22 L344.30 272.22 L345.11 272.22 L345.92 272.22 L346.73 272.22 L347.54 272.22 L348.36 272.22 L349.17 272.22 L349.98 272.22 L350.79 272.22 L351.61 272.22 L352.42 272.22 L353.23 272.22 L354.04 272.22 L354.86 272.22 L355.67 272.22 L356.48 272.22 L357.29 272.22 L358.10 272.22 L358.92 272.22 L359.73 272.22 L360.54 272.22 L361.35 272.22 L362.17 272.22 L362.98 272.22 L363.79 272.22 L364.60 272.22 L365.42 272.22 L366.23 272.22 L367.04 272.22 L367.85 272.22 L368.66 272.22 L369.48 272.22 L370.29 272.22 L371.10 272.22 L371.91 272.22 L372.73 272.22 L373.54 272.22" stroke="#dc4124" stroke-width="1.0" fill="none" stroke-linejoin="round"/>
</g>
<rect x="315.4" y="68.7" width="58.10000000000002" height="232.10000000000002" fill="none" stroke="#1a1a1a" stroke-width="1.1"/>
<line x1="315.4" y1="126.8" x2="373.5" y2="126.8" stroke="#333" stroke-width="1.3"/>
<line x1="315.4" y1="184.8" x2="373.5" y2="184.8" stroke="#333" stroke-width="1.3"/>
<line x1="315.4" y1="242.8" x2="373.5" y2="242.8" stroke="#333" stroke-width="1.3"/>
<line x1="321.2" y1="300.8" x2="321.2" y2="302.8" stroke="#111" stroke-width="0.8"/>
<line x1="328.4" y1="300.8" x2="328.4" y2="302.8" stroke="#111" stroke-width="0.8"/>
<line x1="341.2" y1="300.8" x2="341.2" y2="302.8" stroke="#111" stroke-width="0.8"/>
<line x1="355.0" y1="300.8" x2="355.0" y2="302.8" stroke="#111" stroke-width="0.8"/>
<line x1="367.9" y1="300.8" x2="367.9" y2="302.8" stroke="#111" stroke-width="0.8"/>
<line x1="317.4" y1="300.8" x2="317.4" y2="302.0" stroke="#333" stroke-width="0.5"/>
<line x1="319.4" y1="300.8" x2="319.4" y2="302.0" stroke="#333" stroke-width="0.5"/>
<line x1="323.4" y1="300.8" x2="323.4" y2="302.0" stroke="#333" stroke-width="0.5"/>
<line x1="325.4" y1="300.8" x2="325.4" y2="302.0" stroke="#333" stroke-width="0.5"/>
<line x1="326.9" y1="300.8" x2="326.9" y2="302.0" stroke="#333" stroke-width="0.5"/>
<line x1="331.4" y1="300.8" x2="331.4" y2="302.0" stroke="#333" stroke-width="0.5"/>
<line x1="334.4" y1="300.8" x2="334.4" y2="302.0" stroke="#333" stroke-width="0.5"/>
<line x1="336.4" y1="300.8" x2="336.4" y2="302.0" stroke="#333" stroke-width="0.5"/>
<line x1="338.4" y1="300.8" x2="338.4" y2="302.0" stroke="#333" stroke-width="0.5"/>
<line x1="339.9" y1="300.8" x2="339.9" y2="302.0" stroke="#333" stroke-width="0.5"/>
<line x1="344.4" y1="300.8" x2="344.4" y2="302.0" stroke="#333" stroke-width="0.5"/>
<line x1="347.4" y1="300.8" x2="347.4" y2="302.0" stroke="#333" stroke-width="0.5"/>
<line x1="349.9" y1="300.8" x2="349.9" y2="302.0" stroke="#333" stroke-width="0.5"/>
<line x1="351.9" y1="300.8" x2="351.9" y2="302.0" stroke="#333" stroke-width="0.5"/>
<line x1="353.4" y1="300.8" x2="353.4" y2="302.0" stroke="#333" stroke-width="0.5"/>
<line x1="358.4" y1="300.8" x2="358.4" y2="302.0" stroke="#333" stroke-width="0.5"/>
<line x1="361.4" y1="300.8" x2="361.4" y2="302.0" stroke="#333" stroke-width="0.5"/>
<line x1="363.4" y1="300.8" x2="363.4" y2="302.0" stroke="#333" stroke-width="0.5"/>
<line x1="365.4" y1="300.8" x2="365.4" y2="302.0" stroke="#333" stroke-width="0.5"/>
<line x1="366.9" y1="300.8" x2="366.9" y2="302.0" stroke="#333" stroke-width="0.5"/>
<line x1="370.4" y1="300.8" x2="370.4" y2="302.0" stroke="#333" stroke-width="0.5"/>
<text x="322.7" y="312.9" font-size="7.1" fill="#231f20" text-anchor="end" textLength="3.1" lengthAdjust="spacingAndGlyphs" stroke="#231f20" stroke-width="0.25">0</text>
<text x="325.7" y="312.9" font-size="7.1" fill="#231f20" textLength="5.6" lengthAdjust="spacingAndGlyphs" stroke="#231f20" stroke-width="0.25">10</text>
<text x="331.5" y="309.6" font-size="4.3" fill="#231f20" stroke="#231f20" stroke-width="0.18">2</text>
<text x="338.1" y="312.9" font-size="7.1" fill="#231f20" textLength="5.6" lengthAdjust="spacingAndGlyphs" stroke="#231f20" stroke-width="0.25">10</text>
<text x="343.9" y="309.6" font-size="4.3" fill="#231f20" stroke="#231f20" stroke-width="0.18">3</text>
<text x="351.5" y="312.9" font-size="7.1" fill="#231f20" textLength="5.6" lengthAdjust="spacingAndGlyphs" stroke="#231f20" stroke-width="0.25">10</text>
<text x="357.3" y="309.6" font-size="4.3" fill="#231f20" stroke="#231f20" stroke-width="0.18">4</text>
<text x="364.3" y="312.9" font-size="7.1" fill="#231f20" textLength="5.6" lengthAdjust="spacingAndGlyphs" stroke="#231f20" stroke-width="0.25">10</text>
<text x="370.1" y="309.6" font-size="4.3" fill="#231f20" stroke="#231f20" stroke-width="0.18">5</text>
<text x="192.2" y="81.6" font-size="7.8" fill="#231f20" text-anchor="middle" stroke="#231f20" stroke-width="0.18">1</text>
<text x="196.5" y="106.8" font-size="7.8" fill="#231f20" text-anchor="middle" stroke="#231f20" stroke-width="0.18">2</text>
<text x="219.2" y="122.8" font-size="7.8" fill="#231f20" text-anchor="middle" stroke="#231f20" stroke-width="0.18">3</text>
<text x="257.8" y="81.6" font-size="7.8" fill="#231f20" text-anchor="middle" stroke="#231f20" stroke-width="0.18">1</text>
<text x="276.3" y="93.3" font-size="7.8" fill="#231f20" text-anchor="middle" stroke="#231f20" stroke-width="0.18">2</text>
<text x="290.5" y="124.0" font-size="7.8" fill="#231f20" text-anchor="middle" stroke="#231f20" stroke-width="0.18">3</text>
<text x="329.2" y="79.1" font-size="7.8" fill="#231f20" text-anchor="middle" stroke="#231f20" stroke-width="0.18">1</text>
<text x="346.7" y="93.8" font-size="7.8" fill="#231f20" text-anchor="middle" stroke="#231f20" stroke-width="0.18">2</text>
<text x="363.1" y="121.89999999999999" font-size="7.8" fill="#231f20" text-anchor="middle" stroke="#231f20" stroke-width="0.18">3</text>
<text x="193.2" y="327.8" font-size="10.6" fill="#231f20" text-anchor="start" textLength="16.7" lengthAdjust="spacingAndGlyphs" stroke="#231f20" stroke-width="0.18">CRT</text>
<text x="258.7" y="327.3" font-size="10.6" fill="#231f20" text-anchor="start" textLength="27.6" lengthAdjust="spacingAndGlyphs" stroke="#231f20" stroke-width="0.18">Hsp70</text>
<text x="331" y="325.9" font-size="10.6" fill="#231f20" text-anchor="start" textLength="27.5" lengthAdjust="spacingAndGlyphs" stroke="#231f20" stroke-width="0.18">Hsp90</text>
<text x="396.1" y="32.8" font-size="9.7" fill="#231f20" text-anchor="start" textLength="117.2" lengthAdjust="spacingAndGlyphs" stroke="#231f20" stroke-width="0.18">Lymphoma cell distribution</text>
<text x="416.6" y="44.9" font-size="9.7" fill="#231f20" text-anchor="start" textLength="75.9" lengthAdjust="spacingAndGlyphs" stroke="#231f20" stroke-width="0.18">in boxes 1,2,3 of A</text>
<line x1="400.7" y1="61.2" x2="400.7" y2="153.3" stroke="#231f20" stroke-width="1.1"/>
<line x1="400.7" y1="227.2" x2="400.7" y2="304" stroke="#231f20" stroke-width="1.1"/>
<text transform="translate(404.1,218.6) rotate(-90)" font-size="9.6" fill="#231f20" textLength="58.6" lengthAdjust="spacingAndGlyphs" stroke="#231f20" stroke-width="0.18">% tumor cells</text>
<line x1="444.7" y1="64.519" x2="444.7" y2="66.1217" stroke="#d2391c" stroke-width="1.1"/>
<line x1="441.2" y1="64.519" x2="448.2" y2="64.519" stroke="#d2391c" stroke-width="1.1"/>
<rect x="437.99999999999994" y="66.52170000000001" width="13.399999999999999" height="46.07829999999999" fill="#d2391c" stroke="#d2391c" stroke-width="0.8"/>
<line x1="465.2" y1="111.04899999999999" x2="465.2" y2="111.6694" stroke="#2d2888" stroke-width="1.1"/>
<line x1="461.7" y1="111.04899999999999" x2="468.7" y2="111.04899999999999" stroke="#2d2888" stroke-width="1.1"/>
<rect x="458.49999999999994" y="112.0694" width="13.399999999999999" height="0.5305999999999983" fill="#2d2888" stroke="#2d2888" stroke-width="0.8"/>
<line x1="485.7" y1="111.04899999999999" x2="485.7" y2="111.6694" stroke="#4a8a3b" stroke-width="1.1"/>
<line x1="482.2" y1="111.04899999999999" x2="489.2" y2="111.04899999999999" stroke="#4a8a3b" stroke-width="1.1"/>
<rect x="478.99999999999994" y="112.0694" width="13.399999999999999" height="0.5305999999999983" fill="#4a8a3b" stroke="#4a8a3b" stroke-width="0.8"/>
<line x1="430.6" y1="58.6" x2="430.6" y2="113.1" stroke="#111" stroke-width="1.25"/>
<line x1="430.1" y1="112.6" x2="498.5" y2="112.6" stroke="#111" stroke-width="1.2"/>
<line x1="427.6" y1="112.6" x2="430.6" y2="112.6" stroke="#111" stroke-width="1"/>
<text x="424.2" y="115.5" font-size="8.2" fill="#231f20" text-anchor="end" textLength="4.0" lengthAdjust="spacingAndGlyphs" stroke="#231f20" stroke-width="0.18">0</text>
<line x1="427.6" y1="102.25999999999999" x2="430.6" y2="102.25999999999999" stroke="#111" stroke-width="1"/>
<text x="424.2" y="105.16" font-size="8.2" fill="#231f20" text-anchor="end" textLength="7.9" lengthAdjust="spacingAndGlyphs" stroke="#231f20" stroke-width="0.18">20</text>
<line x1="427.6" y1="91.92" x2="430.6" y2="91.92" stroke="#111" stroke-width="1"/>
<text x="424.2" y="94.82000000000001" font-size="8.2" fill="#231f20" text-anchor="end" textLength="7.9" lengthAdjust="spacingAndGlyphs" stroke="#231f20" stroke-width="0.18">40</text>
<line x1="427.6" y1="81.58" x2="430.6" y2="81.58" stroke="#111" stroke-width="1"/>
<text x="424.2" y="84.48" font-size="8.2" fill="#231f20" text-anchor="end" textLength="7.9" lengthAdjust="spacingAndGlyphs" stroke="#231f20" stroke-width="0.18">60</text>
<line x1="427.6" y1="71.24000000000001" x2="430.6" y2="71.24000000000001" stroke="#111" stroke-width="1"/>
<text x="424.2" y="74.14000000000001" font-size="8.2" fill="#231f20" text-anchor="end" textLength="7.9" lengthAdjust="spacingAndGlyphs" stroke="#231f20" stroke-width="0.18">80</text>
<line x1="427.6" y1="60.900000000000006" x2="430.6" y2="60.900000000000006" stroke="#111" stroke-width="1"/>
<text x="424.2" y="63.800000000000004" font-size="8.2" fill="#231f20" text-anchor="end" textLength="11.9" lengthAdjust="spacingAndGlyphs" stroke="#231f20" stroke-width="0.18">100</text>
<line x1="444.7" y1="112.6" x2="444.7" y2="115.6" stroke="#111" stroke-width="0.9"/>
<line x1="465.2" y1="112.6" x2="465.2" y2="115.6" stroke="#111" stroke-width="0.9"/>
<line x1="485.7" y1="112.6" x2="485.7" y2="115.6" stroke="#111" stroke-width="0.9"/>
<line x1="444.7" y1="157.5856" x2="444.7" y2="160.8034" stroke="#d2391c" stroke-width="1.1"/>
<line x1="441.2" y1="157.5856" x2="448.2" y2="157.5856" stroke="#d2391c" stroke-width="1.1"/>
<rect x="437.99999999999994" y="161.20340000000002" width="13.399999999999999" height="15.896599999999983" fill="#d2391c" stroke="#d2391c" stroke-width="0.8"/>
<line x1="465.2" y1="164.3845" x2="465.2" y2="167.0833" stroke="#2d2888" stroke-width="1.1"/>
<line x1="461.7" y1="164.3845" x2="468.7" y2="164.3845" stroke="#2d2888" stroke-width="1.1"/>
<rect x="458.49999999999994" y="167.4833" width="13.399999999999999" height="9.616699999999986" fill="#2d2888" stroke="#2d2888" stroke-width="0.8"/>
<line x1="485.7" y1="151.3057" x2="485.7" y2="155.9248" stroke="#4a8a3b" stroke-width="1.1"/>
<line x1="482.2" y1="151.3057" x2="489.2" y2="151.3057" stroke="#4a8a3b" stroke-width="1.1"/>
<rect x="478.99999999999994" y="156.3248" width="13.399999999999999" height="20.77519999999999" fill="#4a8a3b" stroke="#4a8a3b" stroke-width="0.8"/>
<line x1="430.6" y1="122.7" x2="430.6" y2="177.6" stroke="#111" stroke-width="1.25"/>
<line x1="430.1" y1="177.1" x2="498.5" y2="177.1" stroke="#111" stroke-width="1.2"/>
<line x1="427.6" y1="177.1" x2="430.6" y2="177.1" stroke="#111" stroke-width="1"/>
<text x="424.2" y="180.0" font-size="8.2" fill="#231f20" text-anchor="end" textLength="4.0" lengthAdjust="spacingAndGlyphs" stroke="#231f20" stroke-width="0.18">0</text>
<line x1="427.6" y1="166.72" x2="430.6" y2="166.72" stroke="#111" stroke-width="1"/>
<text x="424.2" y="169.62" font-size="8.2" fill="#231f20" text-anchor="end" textLength="7.9" lengthAdjust="spacingAndGlyphs" stroke="#231f20" stroke-width="0.18">20</text>
<line x1="427.6" y1="156.34" x2="430.6" y2="156.34" stroke="#111" stroke-width="1"/>
<text x="424.2" y="159.24" font-size="8.2" fill="#231f20" text-anchor="end" textLength="7.9" lengthAdjust="spacingAndGlyphs" stroke="#231f20" stroke-width="0.18">40</text>
<line x1="427.6" y1="145.96" x2="430.6" y2="145.96" stroke="#111" stroke-width="1"/>
<text x="424.2" y="148.86" font-size="8.2" fill="#231f20" text-anchor="end" textLength="7.9" lengthAdjust="spacingAndGlyphs" stroke="#231f20" stroke-width="0.18">60</text>
<line x1="427.6" y1="135.57999999999998" x2="430.6" y2="135.57999999999998" stroke="#111" stroke-width="1"/>
<text x="424.2" y="138.48" font-size="8.2" fill="#231f20" text-anchor="end" textLength="7.9" lengthAdjust="spacingAndGlyphs" stroke="#231f20" stroke-width="0.18">80</text>
<line x1="427.6" y1="125.2" x2="430.6" y2="125.2" stroke="#111" stroke-width="1"/>
<text x="424.2" y="128.1" font-size="8.2" fill="#231f20" text-anchor="end" textLength="11.9" lengthAdjust="spacingAndGlyphs" stroke="#231f20" stroke-width="0.18">100</text>
<line x1="444.7" y1="177.1" x2="444.7" y2="180.1" stroke="#111" stroke-width="0.9"/>
<line x1="465.2" y1="177.1" x2="465.2" y2="180.1" stroke="#111" stroke-width="0.9"/>
<line x1="485.7" y1="177.1" x2="485.7" y2="180.1" stroke="#111" stroke-width="0.9"/>
<line x1="444.7" y1="199.51160000000002" x2="444.7" y2="200.703" stroke="#d2391c" stroke-width="1.1"/>
<line x1="441.2" y1="199.51160000000002" x2="448.2" y2="199.51160000000002" stroke="#d2391c" stroke-width="1.1"/>
<rect x="437.99999999999994" y="201.103" width="13.399999999999999" height="46.99699999999999" fill="#d2391c" stroke="#d2391c" stroke-width="0.8"/>
<line x1="465.2" y1="246.546" x2="465.2" y2="247.1676" stroke="#2d2888" stroke-width="1.1"/>
<line x1="461.7" y1="246.546" x2="468.7" y2="246.546" stroke="#2d2888" stroke-width="1.1"/>
<rect x="458.49999999999994" y="247.5676" width="13.399999999999999" height="0.5324000000000012" fill="#2d2888" stroke="#2d2888" stroke-width="0.8"/>
<line x1="485.7" y1="247.323" x2="485.7" y2="247.6856" stroke="#4a8a3b" stroke-width="1.1"/>
<line x1="482.2" y1="247.323" x2="489.2" y2="247.323" stroke="#4a8a3b" stroke-width="1.1"/>
<rect x="478.99999999999994" y="248.0856" width="13.399999999999999" height="0.4" fill="#4a8a3b" stroke="#4a8a3b" stroke-width="0.8"/>
<line x1="430.6" y1="193.8" x2="430.6" y2="248.6" stroke="#111" stroke-width="1.25"/>
<line x1="430.1" y1="248.1" x2="498.5" y2="248.1" stroke="#111" stroke-width="1.2"/>
<line x1="427.6" y1="248.1" x2="430.6" y2="248.1" stroke="#111" stroke-width="1"/>
<text x="424.2" y="251.0" font-size="8.2" fill="#231f20" text-anchor="end" textLength="4.0" lengthAdjust="spacingAndGlyphs" stroke="#231f20" stroke-width="0.18">0</text>
<line x1="427.6" y1="237.74" x2="430.6" y2="237.74" stroke="#111" stroke-width="1"/>
<text x="424.2" y="240.64000000000001" font-size="8.2" fill="#231f20" text-anchor="end" textLength="7.9" lengthAdjust="spacingAndGlyphs" stroke="#231f20" stroke-width="0.18">20</text>
<line x1="427.6" y1="227.38" x2="430.6" y2="227.38" stroke="#111" stroke-width="1"/>
<text x="424.2" y="230.28" font-size="8.2" fill="#231f20" text-anchor="end" textLength="7.9" lengthAdjust="spacingAndGlyphs" stroke="#231f20" stroke-width="0.18">40</text>
<line x1="427.6" y1="217.02" x2="430.6" y2="217.02" stroke="#111" stroke-width="1"/>
<text x="424.2" y="219.92000000000002" font-size="8.2" fill="#231f20" text-anchor="end" textLength="7.9" lengthAdjust="spacingAndGlyphs" stroke="#231f20" stroke-width="0.18">60</text>
<line x1="427.6" y1="206.66000000000003" x2="430.6" y2="206.66000000000003" stroke="#111" stroke-width="1"/>
<text x="424.2" y="209.56000000000003" font-size="8.2" fill="#231f20" text-anchor="end" textLength="7.9" lengthAdjust="spacingAndGlyphs" stroke="#231f20" stroke-width="0.18">80</text>
<line x1="427.6" y1="196.3" x2="430.6" y2="196.3" stroke="#111" stroke-width="1"/>
<text x="424.2" y="199.20000000000002" font-size="8.2" fill="#231f20" text-anchor="end" textLength="11.9" lengthAdjust="spacingAndGlyphs" stroke="#231f20" stroke-width="0.18">100</text>
<line x1="444.7" y1="248.1" x2="444.7" y2="251.1" stroke="#111" stroke-width="0.9"/>
<line x1="465.2" y1="248.1" x2="465.2" y2="251.1" stroke="#111" stroke-width="0.9"/>
<line x1="485.7" y1="248.1" x2="485.7" y2="251.1" stroke="#111" stroke-width="0.9"/>
<line x1="444.7" y1="270.11440000000005" x2="444.7" y2="275.0296" stroke="#d2391c" stroke-width="1.1"/>
<line x1="441.2" y1="270.11440000000005" x2="448.2" y2="270.11440000000005" stroke="#d2391c" stroke-width="1.1"/>
<rect x="437.99999999999994" y="275.4296" width="13.399999999999999" height="38.8704" fill="#d2391c" stroke="#d2391c" stroke-width="0.8"/>
<line x1="465.2" y1="310.716" x2="465.2" y2="311.48400000000004" stroke="#2d2888" stroke-width="1.1"/>
<line x1="461.7" y1="310.716" x2="468.7" y2="310.716" stroke="#2d2888" stroke-width="1.1"/>
<rect x="458.49999999999994" y="311.884" width="13.399999999999999" height="2.415999999999974" fill="#2d2888" stroke="#2d2888" stroke-width="0.8"/>
<line x1="485.7" y1="311.7912" x2="485.7" y2="312.6104" stroke="#4a8a3b" stroke-width="1.1"/>
<line x1="482.2" y1="311.7912" x2="489.2" y2="311.7912" stroke="#4a8a3b" stroke-width="1.1"/>
<rect x="478.99999999999994" y="313.0104" width="13.399999999999999" height="1.2895999999999845" fill="#4a8a3b" stroke="#4a8a3b" stroke-width="0.8"/>
<line x1="430.6" y1="260.3" x2="430.6" y2="314.8" stroke="#111" stroke-width="1.25"/>
<line x1="430.1" y1="314.3" x2="498.5" y2="314.3" stroke="#111" stroke-width="1.2"/>
<line x1="427.6" y1="314.3" x2="430.6" y2="314.3" stroke="#111" stroke-width="1"/>
<text x="424.2" y="317.2" font-size="8.2" fill="#231f20" text-anchor="end" textLength="4.0" lengthAdjust="spacingAndGlyphs" stroke="#231f20" stroke-width="0.18">0</text>
<line x1="427.6" y1="304.06" x2="430.6" y2="304.06" stroke="#111" stroke-width="1"/>
<text x="424.2" y="306.96" font-size="8.2" fill="#231f20" text-anchor="end" textLength="7.9" lengthAdjust="spacingAndGlyphs" stroke="#231f20" stroke-width="0.18">20</text>
<line x1="427.6" y1="293.82" x2="430.6" y2="293.82" stroke="#111" stroke-width="1"/>
<text x="424.2" y="296.71999999999997" font-size="8.2" fill="#231f20" text-anchor="end" textLength="7.9" lengthAdjust="spacingAndGlyphs" stroke="#231f20" stroke-width="0.18">40</text>
<line x1="427.6" y1="283.58000000000004" x2="430.6" y2="283.58000000000004" stroke="#111" stroke-width="1"/>
<text x="424.2" y="286.48" font-size="8.2" fill="#231f20" text-anchor="end" textLength="7.9" lengthAdjust="spacingAndGlyphs" stroke="#231f20" stroke-width="0.18">60</text>
<line x1="427.6" y1="273.34000000000003" x2="430.6" y2="273.34000000000003" stroke="#111" stroke-width="1"/>
<text x="424.2" y="276.24" font-size="8.2" fill="#231f20" text-anchor="end" textLength="7.9" lengthAdjust="spacingAndGlyphs" stroke="#231f20" stroke-width="0.18">80</text>
<line x1="427.6" y1="263.1" x2="430.6" y2="263.1" stroke="#111" stroke-width="1"/>
<text x="424.2" y="266.0" font-size="8.2" fill="#231f20" text-anchor="end" textLength="11.9" lengthAdjust="spacingAndGlyphs" stroke="#231f20" stroke-width="0.18">100</text>
<line x1="444.7" y1="314.3" x2="444.7" y2="317.3" stroke="#111" stroke-width="0.9"/>
<line x1="465.2" y1="314.3" x2="465.2" y2="317.3" stroke="#111" stroke-width="0.9"/>
<line x1="485.7" y1="314.3" x2="485.7" y2="317.3" stroke="#111" stroke-width="0.9"/>
<text x="444.5" y="328.7" font-size="7.6" fill="#231f20" text-anchor="middle" stroke="#231f20" stroke-width="0.18">1</text>
<text x="465.6" y="328.7" font-size="7.6" fill="#231f20" text-anchor="middle" stroke="#231f20" stroke-width="0.18">2</text>
<text x="485.9" y="328.7" font-size="7.6" fill="#231f20" text-anchor="middle" stroke="#231f20" stroke-width="0.18">3</text>
<line x1="443.8" y1="56.2" x2="497" y2="56.2" stroke="#333" stroke-width="1.1"/>
<path d="M469.15 52.32L469.15 54.28M468.30 52.81L470.00 53.79M470.00 52.81L468.30 53.79" stroke="#231f20" stroke-width="0.75" stroke-linecap="round"/>
<path d="M472.05 52.32L472.05 54.28M471.20 52.81L472.90 53.79M472.90 52.81L471.20 53.79" stroke="#231f20" stroke-width="0.75" stroke-linecap="round"/>
<line x1="443.8" y1="63.5" x2="465" y2="63.5" stroke="#333" stroke-width="1.1"/>
<path d="M452.65 59.52L452.65 61.48M451.80 60.01L453.50 60.99M453.50 60.01L451.80 60.99" stroke="#231f20" stroke-width="0.75" stroke-linecap="round"/>
<path d="M455.55 59.52L455.55 61.48M454.70 60.01L456.40 60.99M456.40 60.01L454.70 60.99" stroke="#231f20" stroke-width="0.75" stroke-linecap="round"/>
<line x1="440.4" y1="190.6" x2="493.8" y2="190.6" stroke="#333" stroke-width="1.1"/>
<path d="M465.55 186.82L465.55 188.78M464.70 187.31L466.40 188.29M466.40 187.31L464.70 188.29" stroke="#231f20" stroke-width="0.75" stroke-linecap="round"/>
<path d="M468.45 186.82L468.45 188.78M467.60 187.31L469.30 188.29M469.30 187.31L467.60 188.29" stroke="#231f20" stroke-width="0.75" stroke-linecap="round"/>
<line x1="440.4" y1="198" x2="461.6" y2="198" stroke="#333" stroke-width="1.1"/>
<path d="M449.35 194.02L449.35 195.98M448.50 194.51L450.20 195.49M450.20 194.51L448.50 195.49" stroke="#231f20" stroke-width="0.75" stroke-linecap="round"/>
<path d="M452.25 194.02L452.25 195.98M451.40 194.51L453.10 195.49M453.10 194.51L451.40 195.49" stroke="#231f20" stroke-width="0.75" stroke-linecap="round"/>
<line x1="443.2" y1="261.7" x2="496.1" y2="261.7" stroke="#333" stroke-width="1.1"/>
<path d="M468.35 257.82L468.35 259.78M467.50 258.31L469.20 259.29M469.20 258.31L467.50 259.29" stroke="#231f20" stroke-width="0.75" stroke-linecap="round"/>
<path d="M471.25 257.82L471.25 259.78M470.40 258.31L472.10 259.29M472.10 258.31L470.40 259.29" stroke="#231f20" stroke-width="0.75" stroke-linecap="round"/>
<line x1="443.2" y1="268.9" x2="463.9" y2="268.9" stroke="#333" stroke-width="1.1"/>
<path d="M451.95 264.82L451.95 266.78M451.10 265.31L452.80 266.29M452.80 265.31L451.10 266.29" stroke="#231f20" stroke-width="0.75" stroke-linecap="round"/>
<path d="M454.85 264.82L454.85 266.78M454.00 265.31L455.70 266.29M455.70 265.31L454.00 266.29" stroke="#231f20" stroke-width="0.75" stroke-linecap="round"/>
<text x="96.2" y="348.8" font-size="9.3" fill="#231f20" text-anchor="start" textLength="21.9" lengthAdjust="spacingAndGlyphs" stroke="#231f20" stroke-width="0.18">Box 1</text>
<text x="64.6" y="361" font-size="9.6" fill="#231f20" text-anchor="start" textLength="85.5" lengthAdjust="spacingAndGlyphs" stroke="#231f20" stroke-width="0.18">Early apoptotic cells</text>
<text x="260" y="348.8" font-size="9.3" fill="#231f20" text-anchor="start" textLength="23.1" lengthAdjust="spacingAndGlyphs" stroke="#231f20" stroke-width="0.18">Box 2</text>
<text x="230" y="361" font-size="9.6" fill="#231f20" text-anchor="start" textLength="83.3" lengthAdjust="spacingAndGlyphs" stroke="#231f20" stroke-width="0.18">Late apoptotic cells</text>
<text x="423.3" y="348.8" font-size="9.3" fill="#231f20" text-anchor="start" textLength="23" lengthAdjust="spacingAndGlyphs" stroke="#231f20" stroke-width="0.18">Box 3</text>
<text x="406.9" y="361" font-size="9.6" fill="#231f20" text-anchor="start" textLength="56.2" lengthAdjust="spacingAndGlyphs" stroke="#231f20" stroke-width="0.18">Necrotic cells</text>
<line x1="95.8" y1="482.1392" x2="95.8" y2="484.071" stroke="#df8a1b" stroke-width="1.1"/>
<line x1="92.05" y1="482.1392" x2="99.55" y2="482.1392" stroke="#df8a1b" stroke-width="1.1"/>
<rect x="88.45" y="484.471" width="14.7" height="1.828999999999985" fill="#df8a1b" stroke="#df8a1b" stroke-width="0.8"/>
<line x1="57.7" y1="409.3" x2="57.7" y2="486.8" stroke="#111" stroke-width="1.25"/>
<line x1="57.2" y1="486.3" x2="156" y2="486.3" stroke="#111" stroke-width="1.2"/>
<line x1="54.7" y1="486.3" x2="57.7" y2="486.3" stroke="#111" stroke-width="1"/>
<text x="51.900000000000006" y="489.2" font-size="8.2" fill="#231f20" text-anchor="end" textLength="4.0" lengthAdjust="spacingAndGlyphs" stroke="#231f20" stroke-width="0.18">0</text>
<line x1="54.7" y1="471.44" x2="57.7" y2="471.44" stroke="#111" stroke-width="1"/>
<text x="51.900000000000006" y="474.34" font-size="8.2" fill="#231f20" text-anchor="end" textLength="7.9" lengthAdjust="spacingAndGlyphs" stroke="#231f20" stroke-width="0.18">20</text>
<line x1="54.7" y1="456.58" x2="57.7" y2="456.58" stroke="#111" stroke-width="1"/>
<text x="51.900000000000006" y="459.47999999999996" font-size="8.2" fill="#231f20" text-anchor="end" textLength="7.9" lengthAdjust="spacingAndGlyphs" stroke="#231f20" stroke-width="0.18">40</text>
<line x1="54.7" y1="441.72" x2="57.7" y2="441.72" stroke="#111" stroke-width="1"/>
<text x="51.900000000000006" y="444.62" font-size="8.2" fill="#231f20" text-anchor="end" textLength="7.9" lengthAdjust="spacingAndGlyphs" stroke="#231f20" stroke-width="0.18">60</text>
<line x1="54.7" y1="426.86" x2="57.7" y2="426.86" stroke="#111" stroke-width="1"/>
<text x="51.900000000000006" y="429.76" font-size="8.2" fill="#231f20" text-anchor="end" textLength="7.9" lengthAdjust="spacingAndGlyphs" stroke="#231f20" stroke-width="0.18">80</text>
<line x1="54.7" y1="412.0" x2="57.7" y2="412.0" stroke="#111" stroke-width="1"/>
<text x="51.900000000000006" y="414.9" font-size="8.2" fill="#231f20" text-anchor="end" textLength="11.9" lengthAdjust="spacingAndGlyphs" stroke="#231f20" stroke-width="0.18">100</text>
<line x1="73.0" y1="486.3" x2="73.0" y2="489.3" stroke="#111" stroke-width="0.9"/>
<line x1="95.8" y1="486.3" x2="95.8" y2="489.3" stroke="#111" stroke-width="0.9"/>
<line x1="118.7" y1="486.3" x2="118.7" y2="489.3" stroke="#111" stroke-width="0.9"/>
<line x1="141.6" y1="486.3" x2="141.6" y2="489.3" stroke="#111" stroke-width="0.9"/>
<line x1="236.8" y1="442.6859" x2="236.8" y2="450.636" stroke="#52215f" stroke-width="1.1"/>
<line x1="233.05" y1="442.6859" x2="240.55" y2="442.6859" stroke="#52215f" stroke-width="1.1"/>
<rect x="229.45000000000002" y="451.036" width="14.7" height="35.26399999999999" fill="#52215f" stroke="#52215f" stroke-width="0.8"/>
<line x1="259.6" y1="418.2412" x2="259.6" y2="421.21320000000003" stroke="#df8a1b" stroke-width="1.1"/>
<line x1="255.85000000000002" y1="418.2412" x2="263.35" y2="418.2412" stroke="#df8a1b" stroke-width="1.1"/>
<rect x="252.25000000000003" y="421.6132" width="14.7" height="64.68679999999998" fill="#df8a1b" stroke="#df8a1b" stroke-width="0.8"/>
<line x1="282.3" y1="463.3413" x2="282.3" y2="469.0624" stroke="#2f6a4e" stroke-width="1.1"/>
<line x1="278.55" y1="463.3413" x2="286.05" y2="463.3413" stroke="#2f6a4e" stroke-width="1.1"/>
<rect x="274.95" y="469.4624" width="14.7" height="16.837599999999988" fill="#2f6a4e" stroke="#2f6a4e" stroke-width="0.8"/>
<line x1="305.1" y1="445.8808" x2="305.1" y2="452.6421" stroke="#8a82be" stroke-width="1.1"/>
<line x1="301.35" y1="445.8808" x2="308.85" y2="445.8808" stroke="#8a82be" stroke-width="1.1"/>
<rect x="297.75" y="453.0421" width="14.7" height="33.257899999999985" fill="#8a82be" stroke="#8a82be" stroke-width="0.8"/>
<line x1="221.4" y1="409.3" x2="221.4" y2="486.8" stroke="#111" stroke-width="1.25"/>
<line x1="220.9" y1="486.3" x2="319.5" y2="486.3" stroke="#111" stroke-width="1.2"/>
<line x1="218.4" y1="486.3" x2="221.4" y2="486.3" stroke="#111" stroke-width="1"/>
<text x="214.3" y="489.2" font-size="8.2" fill="#231f20" text-anchor="end" textLength="4.0" lengthAdjust="spacingAndGlyphs" stroke="#231f20" stroke-width="0.18">0</text>
<line x1="218.4" y1="471.44" x2="221.4" y2="471.44" stroke="#111" stroke-width="1"/>
<text x="214.3" y="474.34" font-size="8.2" fill="#231f20" text-anchor="end" textLength="7.9" lengthAdjust="spacingAndGlyphs" stroke="#231f20" stroke-width="0.18">20</text>
<line x1="218.4" y1="456.58" x2="221.4" y2="456.58" stroke="#111" stroke-width="1"/>
<text x="214.3" y="459.47999999999996" font-size="8.2" fill="#231f20" text-anchor="end" textLength="7.9" lengthAdjust="spacingAndGlyphs" stroke="#231f20" stroke-width="0.18">40</text>
<line x1="218.4" y1="441.72" x2="221.4" y2="441.72" stroke="#111" stroke-width="1"/>
<text x="214.3" y="444.62" font-size="8.2" fill="#231f20" text-anchor="end" textLength="7.9" lengthAdjust="spacingAndGlyphs" stroke="#231f20" stroke-width="0.18">60</text>
<line x1="218.4" y1="426.86" x2="221.4" y2="426.86" stroke="#111" stroke-width="1"/>
<text x="214.3" y="429.76" font-size="8.2" fill="#231f20" text-anchor="end" textLength="7.9" lengthAdjust="spacingAndGlyphs" stroke="#231f20" stroke-width="0.18">80</text>
<line x1="218.4" y1="412.0" x2="221.4" y2="412.0" stroke="#111" stroke-width="1"/>
<text x="214.3" y="414.9" font-size="8.2" fill="#231f20" text-anchor="end" textLength="11.9" lengthAdjust="spacingAndGlyphs" stroke="#231f20" stroke-width="0.18">100</text>
<line x1="236.8" y1="486.3" x2="236.8" y2="489.3" stroke="#111" stroke-width="0.9"/>
<line x1="259.6" y1="486.3" x2="259.6" y2="489.3" stroke="#111" stroke-width="0.9"/>
<line x1="282.3" y1="486.3" x2="282.3" y2="489.3" stroke="#111" stroke-width="0.9"/>
<line x1="305.1" y1="486.3" x2="305.1" y2="489.3" stroke="#111" stroke-width="0.9"/>
<line x1="400.4" y1="414.229" x2="400.4" y2="416.0122" stroke="#52215f" stroke-width="1.1"/>
<line x1="396.65" y1="414.229" x2="404.15" y2="414.229" stroke="#52215f" stroke-width="1.1"/>
<rect x="393.04999999999995" y="416.4122" width="14.7" height="69.8878" fill="#52215f" stroke="#52215f" stroke-width="0.8"/>
<line x1="423.2" y1="413.1888" x2="423.2" y2="413.7832" stroke="#df8a1b" stroke-width="1.1"/>
<line x1="419.45" y1="413.1888" x2="426.95" y2="413.1888" stroke="#df8a1b" stroke-width="1.1"/>
<rect x="415.84999999999997" y="414.1832" width="14.7" height="72.11679999999998" fill="#df8a1b" stroke="#df8a1b" stroke-width="0.8"/>
<line x1="446.0" y1="419.5043" x2="446.0" y2="426.9343" stroke="#2f6a4e" stroke-width="1.1"/>
<line x1="442.25" y1="419.5043" x2="449.75" y2="419.5043" stroke="#2f6a4e" stroke-width="1.1"/>
<rect x="438.65" y="427.3343" width="14.7" height="58.965700000000005" fill="#2f6a4e" stroke="#2f6a4e" stroke-width="0.8"/>
<line x1="469.1" y1="416.2351" x2="469.1" y2="417.4982" stroke="#8a82be" stroke-width="1.1"/>
<line x1="465.35" y1="416.2351" x2="472.85" y2="416.2351" stroke="#8a82be" stroke-width="1.1"/>
<rect x="461.75" y="417.8982" width="14.7" height="68.40180000000001" fill="#8a82be" stroke="#8a82be" stroke-width="0.8"/>
<line x1="385.1" y1="409.3" x2="385.1" y2="486.8" stroke="#111" stroke-width="1.25"/>
<line x1="384.6" y1="486.3" x2="484" y2="486.3" stroke="#111" stroke-width="1.2"/>
<line x1="382.1" y1="486.3" x2="385.1" y2="486.3" stroke="#111" stroke-width="1"/>
<text x="378.6" y="489.2" font-size="8.2" fill="#231f20" text-anchor="end" textLength="4.0" lengthAdjust="spacingAndGlyphs" stroke="#231f20" stroke-width="0.18">0</text>
<line x1="382.1" y1="471.44" x2="385.1" y2="471.44" stroke="#111" stroke-width="1"/>
<text x="378.6" y="474.34" font-size="8.2" fill="#231f20" text-anchor="end" textLength="7.9" lengthAdjust="spacingAndGlyphs" stroke="#231f20" stroke-width="0.18">20</text>
<line x1="382.1" y1="456.58" x2="385.1" y2="456.58" stroke="#111" stroke-width="1"/>
<text x="378.6" y="459.47999999999996" font-size="8.2" fill="#231f20" text-anchor="end" textLength="7.9" lengthAdjust="spacingAndGlyphs" stroke="#231f20" stroke-width="0.18">40</text>
<line x1="382.1" y1="441.72" x2="385.1" y2="441.72" stroke="#111" stroke-width="1"/>
<text x="378.6" y="444.62" font-size="8.2" fill="#231f20" text-anchor="end" textLength="7.9" lengthAdjust="spacingAndGlyphs" stroke="#231f20" stroke-width="0.18">60</text>
<line x1="382.1" y1="426.86" x2="385.1" y2="426.86" stroke="#111" stroke-width="1"/>
<text x="378.6" y="429.76" font-size="8.2" fill="#231f20" text-anchor="end" textLength="7.9" lengthAdjust="spacingAndGlyphs" stroke="#231f20" stroke-width="0.18">80</text>
<line x1="382.1" y1="412.0" x2="385.1" y2="412.0" stroke="#111" stroke-width="1"/>
<text x="378.6" y="414.9" font-size="8.2" fill="#231f20" text-anchor="end" textLength="11.9" lengthAdjust="spacingAndGlyphs" stroke="#231f20" stroke-width="0.18">100</text>
<line x1="400.4" y1="486.3" x2="400.4" y2="489.3" stroke="#111" stroke-width="0.9"/>
<line x1="423.2" y1="486.3" x2="423.2" y2="489.3" stroke="#111" stroke-width="0.9"/>
<line x1="446.0" y1="486.3" x2="446.0" y2="489.3" stroke="#111" stroke-width="0.9"/>
<line x1="469.1" y1="486.3" x2="469.1" y2="489.3" stroke="#111" stroke-width="0.9"/>
<line x1="73.0" y1="590.3672" x2="73.0" y2="591.2528" stroke="#52215f" stroke-width="1.1"/>
<line x1="69.25" y1="590.3672" x2="76.75" y2="590.3672" stroke="#52215f" stroke-width="1.1"/>
<rect x="65.65" y="591.6528" width="14.7" height="2.847200000000021" fill="#52215f" stroke="#52215f" stroke-width="0.8"/>
<line x1="95.8" y1="571.8434" x2="95.8" y2="575.5334" stroke="#df8a1b" stroke-width="1.1"/>
<line x1="92.05" y1="571.8434" x2="99.55" y2="571.8434" stroke="#df8a1b" stroke-width="1.1"/>
<rect x="88.45" y="575.9334" width="14.7" height="18.566599999999973" fill="#df8a1b" stroke="#df8a1b" stroke-width="0.8"/>
<line x1="141.6" y1="588.3008" x2="141.6" y2="590.072" stroke="#8a82be" stroke-width="1.1"/>
<line x1="137.85" y1="588.3008" x2="145.35" y2="588.3008" stroke="#8a82be" stroke-width="1.1"/>
<rect x="134.25" y="590.472" width="14.7" height="4.027999999999997" fill="#8a82be" stroke="#8a82be" stroke-width="0.8"/>
<line x1="57.7" y1="518.0" x2="57.7" y2="595.0" stroke="#111" stroke-width="1.25"/>
<line x1="57.2" y1="594.5" x2="156" y2="594.5" stroke="#111" stroke-width="1.2"/>
<line x1="54.7" y1="594.5" x2="57.7" y2="594.5" stroke="#111" stroke-width="1"/>
<text x="51.900000000000006" y="597.4" font-size="8.2" fill="#231f20" text-anchor="end" textLength="4.0" lengthAdjust="spacingAndGlyphs" stroke="#231f20" stroke-width="0.18">0</text>
<line x1="54.7" y1="579.74" x2="57.7" y2="579.74" stroke="#111" stroke-width="1"/>
<text x="51.900000000000006" y="582.64" font-size="8.2" fill="#231f20" text-anchor="end" textLength="7.9" lengthAdjust="spacingAndGlyphs" stroke="#231f20" stroke-width="0.18">20</text>
<line x1="54.7" y1="564.98" x2="57.7" y2="564.98" stroke="#111" stroke-width="1"/>
<text x="51.900000000000006" y="567.88" font-size="8.2" fill="#231f20" text-anchor="end" textLength="7.9" lengthAdjust="spacingAndGlyphs" stroke="#231f20" stroke-width="0.18">40</text>
<line x1="54.7" y1="550.22" x2="57.7" y2="550.22" stroke="#111" stroke-width="1"/>
<text x="51.900000000000006" y="553.12" font-size="8.2" fill="#231f20" text-anchor="end" textLength="7.9" lengthAdjust="spacingAndGlyphs" stroke="#231f20" stroke-width="0.18">60</text>
<line x1="54.7" y1="535.46" x2="57.7" y2="535.46" stroke="#111" stroke-width="1"/>
<text x="51.900000000000006" y="538.36" font-size="8.2" fill="#231f20" text-anchor="end" textLength="7.9" lengthAdjust="spacingAndGlyphs" stroke="#231f20" stroke-width="0.18">80</text>
<line x1="54.7" y1="520.7" x2="57.7" y2="520.7" stroke="#111" stroke-width="1"/>
<text x="51.900000000000006" y="523.6" font-size="8.2" fill="#231f20" text-anchor="end" textLength="11.9" lengthAdjust="spacingAndGlyphs" stroke="#231f20" stroke-width="0.18">100</text>
<line x1="73.0" y1="594.5" x2="73.0" y2="597.5" stroke="#111" stroke-width="0.9"/>
<line x1="95.8" y1="594.5" x2="95.8" y2="597.5" stroke="#111" stroke-width="0.9"/>
<line x1="118.7" y1="594.5" x2="118.7" y2="597.5" stroke="#111" stroke-width="0.9"/>
<line x1="141.6" y1="594.5" x2="141.6" y2="597.5" stroke="#111" stroke-width="0.9"/>
<line x1="236.8" y1="525.4232000000001" x2="236.8" y2="528.2276" stroke="#52215f" stroke-width="1.1"/>
<line x1="233.05" y1="525.4232000000001" x2="240.55" y2="525.4232000000001" stroke="#52215f" stroke-width="1.1"/>
<rect x="229.45000000000002" y="528.6276" width="14.7" height="65.87239999999994" fill="#52215f" stroke="#52215f" stroke-width="0.8"/>
<line x1="259.6" y1="521.2166000000001" x2="259.6" y2="522.4712000000001" stroke="#df8a1b" stroke-width="1.1"/>
<line x1="255.85000000000002" y1="521.2166000000001" x2="263.35" y2="521.2166000000001" stroke="#df8a1b" stroke-width="1.1"/>
<rect x="252.25000000000003" y="522.8712" width="14.7" height="71.62879999999993" fill="#df8a1b" stroke="#df8a1b" stroke-width="0.8"/>
<line x1="282.3" y1="533.4674" x2="282.3" y2="538.1906" stroke="#2f6a4e" stroke-width="1.1"/>
<line x1="278.55" y1="533.4674" x2="286.05" y2="533.4674" stroke="#2f6a4e" stroke-width="1.1"/>
<rect x="274.95" y="538.5906" width="14.7" height="55.909399999999984" fill="#2f6a4e" stroke="#2f6a4e" stroke-width="0.8"/>
<line x1="305.1" y1="527.9324" x2="305.1" y2="531.1796" stroke="#8a82be" stroke-width="1.1"/>
<line x1="301.35" y1="527.9324" x2="308.85" y2="527.9324" stroke="#8a82be" stroke-width="1.1"/>
<rect x="297.75" y="531.5796" width="14.7" height="62.92039999999995" fill="#8a82be" stroke="#8a82be" stroke-width="0.8"/>
<line x1="221.4" y1="518.0" x2="221.4" y2="595.0" stroke="#111" stroke-width="1.25"/>
<line x1="220.9" y1="594.5" x2="319.5" y2="594.5" stroke="#111" stroke-width="1.2"/>
<line x1="218.4" y1="594.5" x2="221.4" y2="594.5" stroke="#111" stroke-width="1"/>
<text x="214.3" y="597.4" font-size="8.2" fill="#231f20" text-anchor="end" textLength="4.0" lengthAdjust="spacingAndGlyphs" stroke="#231f20" stroke-width="0.18">0</text>
<line x1="218.4" y1="579.74" x2="221.4" y2="579.74" stroke="#111" stroke-width="1"/>
<text x="214.3" y="582.64" font-size="8.2" fill="#231f20" text-anchor="end" textLength="7.9" lengthAdjust="spacingAndGlyphs" stroke="#231f20" stroke-width="0.18">20</text>
<line x1="218.4" y1="564.98" x2="221.4" y2="564.98" stroke="#111" stroke-width="1"/>
<text x="214.3" y="567.88" font-size="8.2" fill="#231f20" text-anchor="end" textLength="7.9" lengthAdjust="spacingAndGlyphs" stroke="#231f20" stroke-width="0.18">40</text>
<line x1="218.4" y1="550.22" x2="221.4" y2="550.22" stroke="#111" stroke-width="1"/>
<text x="214.3" y="553.12" font-size="8.2" fill="#231f20" text-anchor="end" textLength="7.9" lengthAdjust="spacingAndGlyphs" stroke="#231f20" stroke-width="0.18">60</text>
<line x1="218.4" y1="535.46" x2="221.4" y2="535.46" stroke="#111" stroke-width="1"/>
<text x="214.3" y="538.36" font-size="8.2" fill="#231f20" text-anchor="end" textLength="7.9" lengthAdjust="spacingAndGlyphs" stroke="#231f20" stroke-width="0.18">80</text>
<line x1="218.4" y1="520.7" x2="221.4" y2="520.7" stroke="#111" stroke-width="1"/>
<text x="214.3" y="523.6" font-size="8.2" fill="#231f20" text-anchor="end" textLength="11.9" lengthAdjust="spacingAndGlyphs" stroke="#231f20" stroke-width="0.18">100</text>
<line x1="236.8" y1="594.5" x2="236.8" y2="597.5" stroke="#111" stroke-width="0.9"/>
<line x1="259.6" y1="594.5" x2="259.6" y2="597.5" stroke="#111" stroke-width="0.9"/>
<line x1="282.3" y1="594.5" x2="282.3" y2="597.5" stroke="#111" stroke-width="0.9"/>
<line x1="305.1" y1="594.5" x2="305.1" y2="597.5" stroke="#111" stroke-width="0.9"/>
<line x1="400.4" y1="520.4786" x2="400.4" y2="520.9214000000001" stroke="#52215f" stroke-width="1.1"/>
<line x1="396.65" y1="520.4786" x2="404.15" y2="520.4786" stroke="#52215f" stroke-width="1.1"/>
<rect x="393.04999999999995" y="521.3214" width="14.7" height="73.17859999999993" fill="#52215f" stroke="#52215f" stroke-width="0.8"/>
<line x1="423.2" y1="520.4786" x2="423.2" y2="520.9214000000001" stroke="#df8a1b" stroke-width="1.1"/>
<line x1="419.45" y1="520.4786" x2="426.95" y2="520.4786" stroke="#df8a1b" stroke-width="1.1"/>
<rect x="415.84999999999997" y="521.3214" width="14.7" height="73.17859999999993" fill="#df8a1b" stroke="#df8a1b" stroke-width="0.8"/>
<line x1="446.0" y1="527.9324" x2="446.0" y2="535.6814" stroke="#2f6a4e" stroke-width="1.1"/>
<line x1="442.25" y1="527.9324" x2="449.75" y2="527.9324" stroke="#2f6a4e" stroke-width="1.1"/>
<rect x="438.65" y="536.0814" width="14.7" height="58.41859999999995" fill="#2f6a4e" stroke="#2f6a4e" stroke-width="0.8"/>
<line x1="469.1" y1="521.4380000000001" x2="469.1" y2="522.914" stroke="#8a82be" stroke-width="1.1"/>
<line x1="465.35" y1="521.4380000000001" x2="472.85" y2="521.4380000000001" stroke="#8a82be" stroke-width="1.1"/>
<rect x="461.75" y="523.314" width="14.7" height="71.186" fill="#8a82be" stroke="#8a82be" stroke-width="0.8"/>
<line x1="385.1" y1="518.0" x2="385.1" y2="595.0" stroke="#111" stroke-width="1.25"/>
<line x1="384.6" y1="594.5" x2="484" y2="594.5" stroke="#111" stroke-width="1.2"/>
<line x1="382.1" y1="594.5" x2="385.1" y2="594.5" stroke="#111" stroke-width="1"/>
<text x="378.6" y="597.4" font-size="8.2" fill="#231f20" text-anchor="end" textLength="4.0" lengthAdjust="spacingAndGlyphs" stroke="#231f20" stroke-width="0.18">0</text>
<line x1="382.1" y1="579.74" x2="385.1" y2="579.74" stroke="#111" stroke-width="1"/>
<text x="378.6" y="582.64" font-size="8.2" fill="#231f20" text-anchor="end" textLength="7.9" lengthAdjust="spacingAndGlyphs" stroke="#231f20" stroke-width="0.18">20</text>
<line x1="382.1" y1="564.98" x2="385.1" y2="564.98" stroke="#111" stroke-width="1"/>
<text x="378.6" y="567.88" font-size="8.2" fill="#231f20" text-anchor="end" textLength="7.9" lengthAdjust="spacingAndGlyphs" stroke="#231f20" stroke-width="0.18">40</text>
<line x1="382.1" y1="550.22" x2="385.1" y2="550.22" stroke="#111" stroke-width="1"/>
<text x="378.6" y="553.12" font-size="8.2" fill="#231f20" text-anchor="end" textLength="7.9" lengthAdjust="spacingAndGlyphs" stroke="#231f20" stroke-width="0.18">60</text>
<line x1="382.1" y1="535.46" x2="385.1" y2="535.46" stroke="#111" stroke-width="1"/>
<text x="378.6" y="538.36" font-size="8.2" fill="#231f20" text-anchor="end" textLength="7.9" lengthAdjust="spacingAndGlyphs" stroke="#231f20" stroke-width="0.18">80</text>
<line x1="382.1" y1="520.7" x2="385.1" y2="520.7" stroke="#111" stroke-width="1"/>
<text x="378.6" y="523.6" font-size="8.2" fill="#231f20" text-anchor="end" textLength="11.9" lengthAdjust="spacingAndGlyphs" stroke="#231f20" stroke-width="0.18">100</text>
<line x1="400.4" y1="594.5" x2="400.4" y2="597.5" stroke="#111" stroke-width="0.9"/>
<line x1="423.2" y1="594.5" x2="423.2" y2="597.5" stroke="#111" stroke-width="0.9"/>
<line x1="446.0" y1="594.5" x2="446.0" y2="597.5" stroke="#111" stroke-width="0.9"/>
<line x1="469.1" y1="594.5" x2="469.1" y2="597.5" stroke="#111" stroke-width="0.9"/>
<line x1="73.0" y1="710.3507999999999" x2="73.0" y2="712.3407" stroke="#52215f" stroke-width="1.1"/>
<line x1="69.25" y1="710.3507999999999" x2="76.75" y2="710.3507999999999" stroke="#52215f" stroke-width="1.1"/>
<rect x="65.65" y="712.7407" width="14.7" height="6.159300000000007" fill="#52215f" stroke="#52215f" stroke-width="0.8"/>
<line x1="95.8" y1="690.0833" x2="95.8" y2="695.2423" stroke="#df8a1b" stroke-width="1.1"/>
<line x1="92.05" y1="690.0833" x2="99.55" y2="690.0833" stroke="#df8a1b" stroke-width="1.1"/>
<rect x="88.45" y="695.6423" width="14.7" height="23.25769999999998" fill="#df8a1b" stroke="#df8a1b" stroke-width="0.8"/>
<line x1="118.7" y1="712.0459" x2="118.7" y2="713.741" stroke="#2f6a4e" stroke-width="1.1"/>
<line x1="114.95" y1="712.0459" x2="122.45" y2="712.0459" stroke="#2f6a4e" stroke-width="1.1"/>
<rect x="111.35000000000001" y="714.141" width="14.7" height="4.7589999999999915" fill="#2f6a4e" stroke="#2f6a4e" stroke-width="0.8"/>
<line x1="141.6" y1="705.8551" x2="141.6" y2="707.4765" stroke="#8a82be" stroke-width="1.1"/>
<line x1="137.85" y1="705.8551" x2="145.35" y2="705.8551" stroke="#8a82be" stroke-width="1.1"/>
<rect x="134.25" y="707.8765" width="14.7" height="11.02349999999999" fill="#8a82be" stroke="#8a82be" stroke-width="0.8"/>
<line x1="57.7" y1="642.3" x2="57.7" y2="719.4" stroke="#111" stroke-width="1.25"/>
<line x1="57.2" y1="718.9" x2="156" y2="718.9" stroke="#111" stroke-width="1.2"/>
<line x1="54.7" y1="718.9" x2="57.7" y2="718.9" stroke="#111" stroke-width="1"/>
<text x="51.900000000000006" y="721.8" font-size="8.2" fill="#231f20" text-anchor="end" textLength="4.0" lengthAdjust="spacingAndGlyphs" stroke="#231f20" stroke-width="0.18">0</text>
<line x1="54.7" y1="704.16" x2="57.7" y2="704.16" stroke="#111" stroke-width="1"/>
<text x="51.900000000000006" y="707.06" font-size="8.2" fill="#231f20" text-anchor="end" textLength="7.9" lengthAdjust="spacingAndGlyphs" stroke="#231f20" stroke-width="0.18">20</text>
<line x1="54.7" y1="689.42" x2="57.7" y2="689.42" stroke="#111" stroke-width="1"/>
<text x="51.900000000000006" y="692.3199999999999" font-size="8.2" fill="#231f20" text-anchor="end" textLength="7.9" lengthAdjust="spacingAndGlyphs" stroke="#231f20" stroke-width="0.18">40</text>
<line x1="54.7" y1="674.6800000000001" x2="57.7" y2="674.6800000000001" stroke="#111" stroke-width="1"/>
<text x="51.900000000000006" y="677.58" font-size="8.2" fill="#231f20" text-anchor="end" textLength="7.9" lengthAdjust="spacingAndGlyphs" stroke="#231f20" stroke-width="0.18">60</text>
<line x1="54.7" y1="659.94" x2="57.7" y2="659.94" stroke="#111" stroke-width="1"/>
<text x="51.900000000000006" y="662.84" font-size="8.2" fill="#231f20" text-anchor="end" textLength="7.9" lengthAdjust="spacingAndGlyphs" stroke="#231f20" stroke-width="0.18">80</text>
<line x1="54.7" y1="645.2" x2="57.7" y2="645.2" stroke="#111" stroke-width="1"/>
<text x="51.900000000000006" y="648.1" font-size="8.2" fill="#231f20" text-anchor="end" textLength="11.9" lengthAdjust="spacingAndGlyphs" stroke="#231f20" stroke-width="0.18">100</text>
<line x1="73.0" y1="718.9" x2="73.0" y2="721.9" stroke="#111" stroke-width="0.9"/>
<line x1="95.8" y1="718.9" x2="95.8" y2="721.9" stroke="#111" stroke-width="0.9"/>
<line x1="118.7" y1="718.9" x2="118.7" y2="721.9" stroke="#111" stroke-width="0.9"/>
<line x1="141.6" y1="718.9" x2="141.6" y2="721.9" stroke="#111" stroke-width="0.9"/>
<line x1="236.8" y1="650.2116000000001" x2="236.8" y2="652.9385" stroke="#52215f" stroke-width="1.1"/>
<line x1="233.05" y1="650.2116000000001" x2="240.55" y2="650.2116000000001" stroke="#52215f" stroke-width="1.1"/>
<rect x="229.45000000000002" y="653.3385" width="14.7" height="65.5615" fill="#52215f" stroke="#52215f" stroke-width="0.8"/>
<line x1="259.6" y1="645.7159" x2="259.6" y2="646.2318" stroke="#df8a1b" stroke-width="1.1"/>
<line x1="255.85000000000002" y1="645.7159" x2="263.35" y2="645.7159" stroke="#df8a1b" stroke-width="1.1"/>
<rect x="252.25000000000003" y="646.6318" width="14.7" height="72.26819999999995" fill="#df8a1b" stroke="#df8a1b" stroke-width="0.8"/>
<line x1="282.3" y1="657.9501" x2="282.3" y2="662.2247" stroke="#2f6a4e" stroke-width="1.1"/>
<line x1="278.55" y1="657.9501" x2="286.05" y2="657.9501" stroke="#2f6a4e" stroke-width="1.1"/>
<rect x="274.95" y="662.6247" width="14.7" height="56.275299999999994" fill="#2f6a4e" stroke="#2f6a4e" stroke-width="0.8"/>
<line x1="305.1" y1="650.2116000000001" x2="305.1" y2="654.1914" stroke="#8a82be" stroke-width="1.1"/>
<line x1="301.35" y1="650.2116000000001" x2="308.85" y2="650.2116000000001" stroke="#8a82be" stroke-width="1.1"/>
<rect x="297.75" y="654.5914" width="14.7" height="64.30859999999993" fill="#8a82be" stroke="#8a82be" stroke-width="0.8"/>
<line x1="221.4" y1="642.3" x2="221.4" y2="719.4" stroke="#111" stroke-width="1.25"/>
<line x1="220.9" y1="718.9" x2="319.5" y2="718.9" stroke="#111" stroke-width="1.2"/>
<line x1="218.4" y1="718.9" x2="221.4" y2="718.9" stroke="#111" stroke-width="1"/>
<text x="214.3" y="721.8" font-size="8.2" fill="#231f20" text-anchor="end" textLength="4.0" lengthAdjust="spacingAndGlyphs" stroke="#231f20" stroke-width="0.18">0</text>
<line x1="218.4" y1="704.16" x2="221.4" y2="704.16" stroke="#111" stroke-width="1"/>
<text x="214.3" y="707.06" font-size="8.2" fill="#231f20" text-anchor="end" textLength="7.9" lengthAdjust="spacingAndGlyphs" stroke="#231f20" stroke-width="0.18">20</text>
<line x1="218.4" y1="689.42" x2="221.4" y2="689.42" stroke="#111" stroke-width="1"/>
<text x="214.3" y="692.3199999999999" font-size="8.2" fill="#231f20" text-anchor="end" textLength="7.9" lengthAdjust="spacingAndGlyphs" stroke="#231f20" stroke-width="0.18">40</text>
<line x1="218.4" y1="674.6800000000001" x2="221.4" y2="674.6800000000001" stroke="#111" stroke-width="1"/>
<text x="214.3" y="677.58" font-size="8.2" fill="#231f20" text-anchor="end" textLength="7.9" lengthAdjust="spacingAndGlyphs" stroke="#231f20" stroke-width="0.18">60</text>
<line x1="218.4" y1="659.94" x2="221.4" y2="659.94" stroke="#111" stroke-width="1"/>
<text x="214.3" y="662.84" font-size="8.2" fill="#231f20" text-anchor="end" textLength="7.9" lengthAdjust="spacingAndGlyphs" stroke="#231f20" stroke-width="0.18">80</text>
<line x1="218.4" y1="645.2" x2="221.4" y2="645.2" stroke="#111" stroke-width="1"/>
<text x="214.3" y="648.1" font-size="8.2" fill="#231f20" text-anchor="end" textLength="11.9" lengthAdjust="spacingAndGlyphs" stroke="#231f20" stroke-width="0.18">100</text>
<line x1="236.8" y1="718.9" x2="236.8" y2="721.9" stroke="#111" stroke-width="0.9"/>
<line x1="259.6" y1="718.9" x2="259.6" y2="721.9" stroke="#111" stroke-width="0.9"/>
<line x1="282.3" y1="718.9" x2="282.3" y2="721.9" stroke="#111" stroke-width="0.9"/>
<line x1="305.1" y1="718.9" x2="305.1" y2="721.9" stroke="#111" stroke-width="0.9"/>
<line x1="400.4" y1="645.4948" x2="400.4" y2="645.7159" stroke="#52215f" stroke-width="1.1"/>
<line x1="396.65" y1="645.4948" x2="404.15" y2="645.4948" stroke="#52215f" stroke-width="1.1"/>
<rect x="393.04999999999995" y="646.1159" width="14.7" height="72.78409999999994" fill="#52215f" stroke="#52215f" stroke-width="0.8"/>
<line x1="423.2" y1="645.4948" x2="423.2" y2="645.7159" stroke="#df8a1b" stroke-width="1.1"/>
<line x1="419.45" y1="645.4948" x2="426.95" y2="645.4948" stroke="#df8a1b" stroke-width="1.1"/>
<rect x="415.84999999999997" y="646.1159" width="14.7" height="72.78409999999994" fill="#df8a1b" stroke="#df8a1b" stroke-width="0.8"/>
<line x1="446.0" y1="645.4211" x2="446.0" y2="646.6740000000001" stroke="#2f6a4e" stroke-width="1.1"/>
<line x1="442.25" y1="645.4211" x2="449.75" y2="645.4211" stroke="#2f6a4e" stroke-width="1.1"/>
<rect x="438.65" y="647.0740000000001" width="14.7" height="71.82599999999988" fill="#2f6a4e" stroke="#2f6a4e" stroke-width="0.8"/>
<line x1="469.1" y1="645.4211" x2="469.1" y2="646.4529" stroke="#8a82be" stroke-width="1.1"/>
<line x1="465.35" y1="645.4211" x2="472.85" y2="645.4211" stroke="#8a82be" stroke-width="1.1"/>
<rect x="461.75" y="646.8529" width="14.7" height="72.04709999999997" fill="#8a82be" stroke="#8a82be" stroke-width="0.8"/>
<line x1="385.1" y1="642.3" x2="385.1" y2="719.4" stroke="#111" stroke-width="1.25"/>
<line x1="384.6" y1="718.9" x2="484" y2="718.9" stroke="#111" stroke-width="1.2"/>
<line x1="382.1" y1="718.9" x2="385.1" y2="718.9" stroke="#111" stroke-width="1"/>
<text x="378.6" y="721.8" font-size="8.2" fill="#231f20" text-anchor="end" textLength="4.0" lengthAdjust="spacingAndGlyphs" stroke="#231f20" stroke-width="0.18">0</text>
<line x1="382.1" y1="704.16" x2="385.1" y2="704.16" stroke="#111" stroke-width="1"/>
<text x="378.6" y="707.06" font-size="8.2" fill="#231f20" text-anchor="end" textLength="7.9" lengthAdjust="spacingAndGlyphs" stroke="#231f20" stroke-width="0.18">20</text>
<line x1="382.1" y1="689.42" x2="385.1" y2="689.42" stroke="#111" stroke-width="1"/>
<text x="378.6" y="692.3199999999999" font-size="8.2" fill="#231f20" text-anchor="end" textLength="7.9" lengthAdjust="spacingAndGlyphs" stroke="#231f20" stroke-width="0.18">40</text>
<line x1="382.1" y1="674.6800000000001" x2="385.1" y2="674.6800000000001" stroke="#111" stroke-width="1"/>
<text x="378.6" y="677.58" font-size="8.2" fill="#231f20" text-anchor="end" textLength="7.9" lengthAdjust="spacingAndGlyphs" stroke="#231f20" stroke-width="0.18">60</text>
<line x1="382.1" y1="659.94" x2="385.1" y2="659.94" stroke="#111" stroke-width="1"/>
<text x="378.6" y="662.84" font-size="8.2" fill="#231f20" text-anchor="end" textLength="7.9" lengthAdjust="spacingAndGlyphs" stroke="#231f20" stroke-width="0.18">80</text>
<line x1="382.1" y1="645.2" x2="385.1" y2="645.2" stroke="#111" stroke-width="1"/>
<text x="378.6" y="648.1" font-size="8.2" fill="#231f20" text-anchor="end" textLength="11.9" lengthAdjust="spacingAndGlyphs" stroke="#231f20" stroke-width="0.18">100</text>
<line x1="400.4" y1="718.9" x2="400.4" y2="721.9" stroke="#111" stroke-width="0.9"/>
<line x1="423.2" y1="718.9" x2="423.2" y2="721.9" stroke="#111" stroke-width="0.9"/>
<line x1="446.0" y1="718.9" x2="446.0" y2="721.9" stroke="#111" stroke-width="0.9"/>
<line x1="469.1" y1="718.9" x2="469.1" y2="721.9" stroke="#111" stroke-width="0.9"/>
<g transform="translate(36.2,474.3) rotate(-90)">
<text x="0" y="0" font-size="9.3" fill="#231f20" textLength="53.9" lengthAdjust="spacingAndGlyphs" stroke="#231f20" stroke-width="0.18">% CRT<tspan dy="-3.2" font-size="7"> +</tspan><tspan dy="3.2"> cells</tspan></text>
</g>
<g transform="translate(36.2,589) rotate(-90)">
<text x="0" y="0" font-size="9.3" fill="#231f20" textLength="65.2" lengthAdjust="spacingAndGlyphs" stroke="#231f20" stroke-width="0.18">% Hsp70<tspan dy="-3.2" font-size="7"> +</tspan><tspan dy="3.2"> cells</tspan></text>
</g>
<g transform="translate(36.2,713.4) rotate(-90)">
<text x="0" y="0" font-size="9.3" fill="#231f20" textLength="65.2" lengthAdjust="spacingAndGlyphs" stroke="#231f20" stroke-width="0.18">% Hsp90<tspan dy="-3.2" font-size="7"> +</tspan><tspan dy="3.2"> cells</tspan></text>
</g>
<text x="73.0" y="734.2" font-size="9.5" fill="#231f20" text-anchor="middle" textLength="15.4" lengthAdjust="spacingAndGlyphs" stroke="#231f20" stroke-width="0.18">Untr</text>
<text x="73.0" y="743.8" font-size="9.5" fill="#231f20" text-anchor="middle" textLength="14.4" lengthAdjust="spacingAndGlyphs" stroke="#231f20" stroke-width="0.18">D25</text>
<text x="95.8" y="734.2" font-size="9.5" fill="#231f20" text-anchor="middle" textLength="12.1" lengthAdjust="spacingAndGlyphs" stroke="#231f20" stroke-width="0.18">Acc</text>
<text x="95.8" y="743.8" font-size="9.5" fill="#231f20" text-anchor="middle" textLength="9.6" lengthAdjust="spacingAndGlyphs" stroke="#231f20" stroke-width="0.18">LTI</text>
<text x="118.7" y="734.2" font-size="9.5" fill="#231f20" text-anchor="middle" textLength="15.4" lengthAdjust="spacingAndGlyphs" stroke="#231f20" stroke-width="0.18">Untr</text>
<text x="118.7" y="743.8" font-size="9.5" fill="#231f20" text-anchor="middle" textLength="14.5" lengthAdjust="spacingAndGlyphs" stroke="#231f20" stroke-width="0.18">D33</text>
<text x="141.6" y="734.2" font-size="9.5" fill="#231f20" text-anchor="middle" textLength="18.3" lengthAdjust="spacingAndGlyphs" stroke="#231f20" stroke-width="0.18">Conv</text>
<text x="141.6" y="743.8" font-size="9.5" fill="#231f20" text-anchor="middle" textLength="9.6" lengthAdjust="spacingAndGlyphs" stroke="#231f20" stroke-width="0.18">LTI</text>
<text x="236.8" y="734.2" font-size="9.5" fill="#231f20" text-anchor="middle" textLength="15.4" lengthAdjust="spacingAndGlyphs" stroke="#231f20" stroke-width="0.18">Untr</text>
<text x="236.8" y="743.8" font-size="9.5" fill="#231f20" text-anchor="middle" textLength="14.4" lengthAdjust="spacingAndGlyphs" stroke="#231f20" stroke-width="0.18">D25</text>
<text x="259.6" y="734.2" font-size="9.5" fill="#231f20" text-anchor="middle" textLength="12.1" lengthAdjust="spacingAndGlyphs" stroke="#231f20" stroke-width="0.18">Acc</text>
<text x="259.6" y="743.8" font-size="9.5" fill="#231f20" text-anchor="middle" textLength="9.6" lengthAdjust="spacingAndGlyphs" stroke="#231f20" stroke-width="0.18">LTI</text>
<text x="282.3" y="734.2" font-size="9.5" fill="#231f20" text-anchor="middle" textLength="15.4" lengthAdjust="spacingAndGlyphs" stroke="#231f20" stroke-width="0.18">Untr</text>
<text x="282.3" y="743.8" font-size="9.5" fill="#231f20" text-anchor="middle" textLength="14.5" lengthAdjust="spacingAndGlyphs" stroke="#231f20" stroke-width="0.18">D33</text>
<text x="305.1" y="734.2" font-size="9.5" fill="#231f20" text-anchor="middle" textLength="18.3" lengthAdjust="spacingAndGlyphs" stroke="#231f20" stroke-width="0.18">Conv</text>
<text x="305.1" y="743.8" font-size="9.5" fill="#231f20" text-anchor="middle" textLength="9.6" lengthAdjust="spacingAndGlyphs" stroke="#231f20" stroke-width="0.18">LTI</text>
<text x="400.4" y="734.2" font-size="9.5" fill="#231f20" text-anchor="middle" textLength="15.4" lengthAdjust="spacingAndGlyphs" stroke="#231f20" stroke-width="0.18">Untr</text>
<text x="400.4" y="743.8" font-size="9.5" fill="#231f20" text-anchor="middle" textLength="14.4" lengthAdjust="spacingAndGlyphs" stroke="#231f20" stroke-width="0.18">D25</text>
<text x="423.2" y="734.2" font-size="9.5" fill="#231f20" text-anchor="middle" textLength="12.1" lengthAdjust="spacingAndGlyphs" stroke="#231f20" stroke-width="0.18">Acc</text>
<text x="423.2" y="743.8" font-size="9.5" fill="#231f20" text-anchor="middle" textLength="9.6" lengthAdjust="spacingAndGlyphs" stroke="#231f20" stroke-width="0.18">LTI</text>
<text x="446.0" y="734.2" font-size="9.5" fill="#231f20" text-anchor="middle" textLength="15.4" lengthAdjust="spacingAndGlyphs" stroke="#231f20" stroke-width="0.18">Untr</text>
<text x="446.0" y="743.8" font-size="9.5" fill="#231f20" text-anchor="middle" textLength="14.5" lengthAdjust="spacingAndGlyphs" stroke="#231f20" stroke-width="0.18">D33</text>
<text x="469.1" y="734.2" font-size="9.5" fill="#231f20" text-anchor="middle" textLength="18.3" lengthAdjust="spacingAndGlyphs" stroke="#231f20" stroke-width="0.18">Conv</text>
<text x="469.1" y="743.8" font-size="9.5" fill="#231f20" text-anchor="middle" textLength="9.6" lengthAdjust="spacingAndGlyphs" stroke="#231f20" stroke-width="0.18">LTI</text>
<line x1="236.9" y1="371.5" x2="400.6" y2="371.5" stroke="#333" stroke-width="1.1"/>
<path d="M317.55 366.32L317.55 368.28M316.70 366.81L318.40 367.79M318.40 366.81L316.70 367.79" stroke="#231f20" stroke-width="0.75" stroke-linecap="round"/>
<path d="M320.45 366.32L320.45 368.28M319.60 366.81L321.30 367.79M321.30 366.81L319.60 367.79" stroke="#231f20" stroke-width="0.75" stroke-linecap="round"/>
<line x1="260.4" y1="382.1" x2="424.2" y2="382.1" stroke="#333" stroke-width="1.1"/>
<path d="M340.85 376.92L340.85 378.88M340.00 377.41L341.70 378.39M341.70 377.41L340.00 378.39" stroke="#231f20" stroke-width="0.75" stroke-linecap="round"/>
<path d="M343.75 376.92L343.75 378.88M342.90 377.41L344.60 378.39M344.60 377.41L342.90 378.39" stroke="#231f20" stroke-width="0.75" stroke-linecap="round"/>
<line x1="281.2" y1="392.3" x2="444.6" y2="392.3" stroke="#333" stroke-width="1.1"/>
<path d="M362.50 387.32L362.50 389.28M361.65 387.81L363.35 388.79M363.35 387.81L361.65 388.79" stroke="#231f20" stroke-width="0.75" stroke-linecap="round"/>
<line x1="302.9" y1="402.3" x2="466.9" y2="402.3" stroke="#333" stroke-width="1.1"/>
<path d="M383.75 397.52L383.75 399.48M382.90 398.01L384.60 398.99M384.60 398.01L382.90 398.99" stroke="#231f20" stroke-width="0.75" stroke-linecap="round"/>
<path d="M386.65 397.52L386.65 399.48M385.80 398.01L387.50 398.99M387.50 398.01L385.80 398.99" stroke="#231f20" stroke-width="0.75" stroke-linecap="round"/>
<line x1="285.9" y1="499.8" x2="449.8" y2="499.8" stroke="#333" stroke-width="1.1"/>
<path d="M367.70 494.92L367.70 496.88M366.85 495.41L368.55 496.39M368.55 495.41L366.85 496.39" stroke="#231f20" stroke-width="0.75" stroke-linecap="round"/>
<line x1="304.3" y1="510.3" x2="467.8" y2="510.3" stroke="#333" stroke-width="1.1"/>
<path d="M385.90 504.92L385.90 506.88M385.05 505.41L386.75 506.39M386.75 505.41L385.05 506.39" stroke="#231f20" stroke-width="0.75" stroke-linecap="round"/>
<line x1="237.1" y1="607.8" x2="400.8" y2="607.8" stroke="#333" stroke-width="1.1"/>
<path d="M317.05 602.92L317.05 604.88M316.20 603.41L317.90 604.39M317.90 603.41L316.20 604.39" stroke="#231f20" stroke-width="0.75" stroke-linecap="round"/>
<path d="M319.95 602.92L319.95 604.88M319.10 603.41L320.80 604.39M320.80 603.41L319.10 604.39" stroke="#231f20" stroke-width="0.75" stroke-linecap="round"/>
<line x1="260.2" y1="617.3" x2="424.5" y2="617.3" stroke="#333" stroke-width="1.1"/>
<path d="M343.60 612.12L343.60 614.08M342.75 612.61L344.45 613.59M344.45 612.61L342.75 613.59" stroke="#231f20" stroke-width="0.75" stroke-linecap="round"/>
<line x1="280.9" y1="627.1" x2="444.8" y2="627.1" stroke="#333" stroke-width="1.1"/>
<path d="M360.25 621.92L360.25 623.88M359.40 622.41L361.10 623.39M361.10 622.41L359.40 623.39" stroke="#231f20" stroke-width="0.75" stroke-linecap="round"/>
<path d="M363.15 621.92L363.15 623.88M362.30 622.41L364.00 623.39M364.00 622.41L362.30 623.39" stroke="#231f20" stroke-width="0.75" stroke-linecap="round"/>
<line x1="303.2" y1="636.8" x2="466.9" y2="636.8" stroke="#333" stroke-width="1.1"/>
<path d="M385.35 631.12L385.35 633.08M384.50 631.61L386.20 632.59M386.20 631.61L384.50 632.59" stroke="#231f20" stroke-width="0.75" stroke-linecap="round"/>
<path d="M388.25 631.12L388.25 633.08M387.40 631.61L389.10 632.59M389.10 631.61L387.40 632.59" stroke="#231f20" stroke-width="0.75" stroke-linecap="round"/>
<rect x="0" y="0" width="1.6" height="751" fill="#333" stroke="none" stroke-width="1"/>
<rect x="0" y="0" width="520" height="1.1" fill="#222" stroke="none" stroke-width="1"/>
<rect x="518.8" y="0" width="1.2" height="751" fill="#111" stroke="none" stroke-width="1"/>
<rect x="0" y="749.6" width="520" height="1.4" fill="#222" stroke="none" stroke-width="1"/>
</svg></body></html>
